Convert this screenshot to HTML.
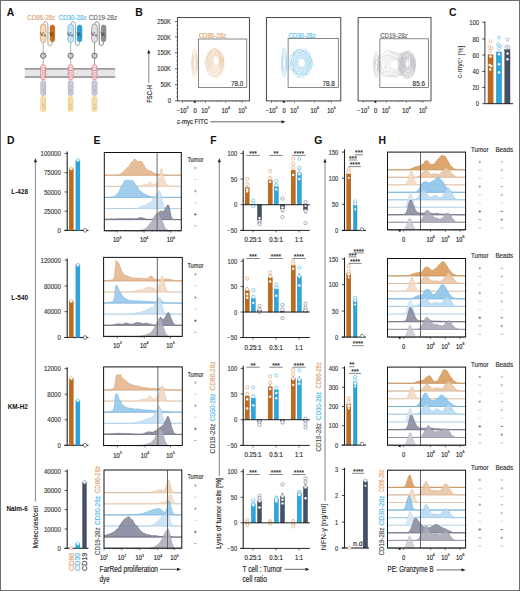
<!DOCTYPE html>
<html><head><meta charset="utf-8"><title>Figure</title>
<style>
html,body{margin:0;padding:0;background:#fff;}
body{width:520px;height:591px;overflow:hidden;}
svg{display:block;font-family:"Liberation Sans", sans-serif;}
</style></head><body>
<svg width="520" height="591" viewBox="0 0 520 591">
<rect x="0" y="0" width="520" height="591" fill="#fff"/>
<text x="6.80" y="16.00" font-size="10.4" font-weight="bold" fill="#111">A</text>
<text x="135.20" y="16.10" font-size="10.4" font-weight="bold" fill="#111">B</text>
<text x="449.00" y="15.90" font-size="10.4" font-weight="bold" fill="#111">C</text>
<text x="7.00" y="143.70" font-size="10.4" font-weight="bold" fill="#111">D</text>
<text x="93.60" y="144.10" font-size="10.4" font-weight="bold" fill="#111">E</text>
<text x="210.20" y="144.10" font-size="10.4" font-weight="bold" fill="#111">F</text>
<text x="314.20" y="143.90" font-size="10.4" font-weight="bold" fill="#111">G</text>
<text x="378.60" y="143.90" font-size="10.4" font-weight="bold" fill="#111">H</text>
<rect x="24.80" y="68.10" width="90.40" height="9.80" fill="#E6E6E8" stroke="none" stroke-width="0.8" rx="0" />
<rect x="24.80" y="68.00" width="90.40" height="1.70" fill="#9A9A9C" stroke="none" stroke-width="0.8" rx="0" />
<rect x="24.80" y="76.20" width="90.40" height="1.70" fill="#9A9A9C" stroke="none" stroke-width="0.8" rx="0" />
<text x="0" y="0" font-size="7.46" text-anchor="start" fill="#DDA36E" stroke="#DDA36E" stroke-width="0.15" textLength="31.64" lengthAdjust="spacingAndGlyphs" transform="translate(27.20 16.90) scale(0.8850 1)" dominant-baseline="central" >CD86-28z</text>
<path d="M43.20,25.2 C43.20,20.6 47.90,20.6 47.90,25.2 L47.90,43.2 C47.90,46.6 52.40,46.6 52.40,42.2" fill="none" stroke="#9a7a62" stroke-width="0.75" />
<rect x="40.40" y="24.10" width="5.60" height="18.30" fill="#F6D9B6" stroke="#B98A62" stroke-width="0.55" rx="2.8" />
<rect x="50.10" y="25.00" width="4.60" height="16.80" fill="#C46E1E" stroke="#A85A14" stroke-width="0.5" rx="2.3" />
<text x="42.70" y="35.9" font-size="5.8" text-anchor="middle" fill="#2a2a2a">V<tspan font-size="2.8" dy="1.2">H</tspan></text>
<text x="51.90" y="35.9" font-size="5.8" text-anchor="middle" fill="#2a1a0a">V<tspan font-size="2.8" dy="1.2">L</tspan></text>
<line x1="43.20" y1="42.40" x2="43.20" y2="52.90" stroke="#9a7a62" stroke-width="0.6" />
<line x1="43.20" y1="58.40" x2="43.20" y2="64.80" stroke="#9a7a62" stroke-width="0.6" />
<circle cx="43.20" cy="55.70" r="2.6" fill="#E8E8EC" stroke="#505050" stroke-width="0.9"/>
<text x="43.20" y="56.6" font-size="2.6" text-anchor="middle" fill="#444">8</text>
<rect x="40.80" y="64.80" width="4.80" height="14.80" fill="#FCEEF0" stroke="#D65A6C" stroke-width="0.7" rx="2.2" />
<rect x="40.80" y="81.00" width="4.80" height="14.20" fill="#DCDFEA" stroke="#8F96B0" stroke-width="0.6" rx="1.4" />
<line x1="43.20" y1="79.60" x2="43.20" y2="81.00" stroke="#888" stroke-width="0.4" />
<line x1="43.20" y1="95.20" x2="43.20" y2="96.80" stroke="#888" stroke-width="0.4" />
<rect x="40.80" y="96.80" width="4.80" height="14.50" fill="#FBEBC2" stroke="#E6BE5E" stroke-width="0.6" rx="1.4" />
<text x="0" y="0" font-size="3.9" text-anchor="middle" dominant-baseline="central" fill="#C85868" textLength="11.5" lengthAdjust="spacingAndGlyphs" transform="translate(43.20 72.20) rotate(90)">CD28</text>
<text x="0" y="0" font-size="3.9" text-anchor="middle" dominant-baseline="central" fill="#7C84A0" textLength="11.5" lengthAdjust="spacingAndGlyphs" transform="translate(43.20 88.10) rotate(90)">CD28</text>
<text x="0" y="0" font-size="3.9" text-anchor="middle" dominant-baseline="central" fill="#C89A3A" textLength="11.5" lengthAdjust="spacingAndGlyphs" transform="translate(43.20 104.00) rotate(90)">CD3ζ</text>
<text x="0" y="0" font-size="7.46" text-anchor="start" fill="#55B8E8" stroke="#55B8E8" stroke-width="0.15" textLength="31.53" lengthAdjust="spacingAndGlyphs" transform="translate(58.60 16.90) scale(0.8850 1)" dominant-baseline="central" >CD30-28z</text>
<path d="M70.70,25.2 C70.70,20.6 75.40,20.6 75.40,25.2 L75.40,43.2 C75.40,46.6 79.60,46.6 79.60,42.2" fill="none" stroke="#5f8aa6" stroke-width="0.75" />
<rect x="67.90" y="24.10" width="5.60" height="18.30" fill="#C4E3F6" stroke="#5B9CC4" stroke-width="0.55" rx="2.8" />
<rect x="77.30" y="25.00" width="4.60" height="16.80" fill="#2AA0DA" stroke="#1F84BC" stroke-width="0.5" rx="2.3" />
<text x="70.20" y="35.9" font-size="5.8" text-anchor="middle" fill="#2a2a2a">V<tspan font-size="2.8" dy="1.2">H</tspan></text>
<text x="79.10" y="35.9" font-size="5.8" text-anchor="middle" fill="#2a1a0a">V<tspan font-size="2.8" dy="1.2">L</tspan></text>
<line x1="70.70" y1="42.40" x2="70.70" y2="52.90" stroke="#5f8aa6" stroke-width="0.6" />
<line x1="70.70" y1="58.40" x2="70.70" y2="64.80" stroke="#5f8aa6" stroke-width="0.6" />
<circle cx="70.70" cy="55.70" r="2.6" fill="#E8E8EC" stroke="#505050" stroke-width="0.9"/>
<text x="70.70" y="56.6" font-size="2.6" text-anchor="middle" fill="#444">8</text>
<rect x="68.30" y="64.80" width="4.80" height="14.80" fill="#FCEEF0" stroke="#D65A6C" stroke-width="0.7" rx="2.2" />
<rect x="68.30" y="81.00" width="4.80" height="14.20" fill="#DCDFEA" stroke="#8F96B0" stroke-width="0.6" rx="1.4" />
<line x1="70.70" y1="79.60" x2="70.70" y2="81.00" stroke="#888" stroke-width="0.4" />
<line x1="70.70" y1="95.20" x2="70.70" y2="96.80" stroke="#888" stroke-width="0.4" />
<rect x="68.30" y="96.80" width="4.80" height="14.50" fill="#FBEBC2" stroke="#E6BE5E" stroke-width="0.6" rx="1.4" />
<text x="0" y="0" font-size="3.9" text-anchor="middle" dominant-baseline="central" fill="#C85868" textLength="11.5" lengthAdjust="spacingAndGlyphs" transform="translate(70.70 72.20) rotate(90)">CD28</text>
<text x="0" y="0" font-size="3.9" text-anchor="middle" dominant-baseline="central" fill="#7C84A0" textLength="11.5" lengthAdjust="spacingAndGlyphs" transform="translate(70.70 88.10) rotate(90)">CD28</text>
<text x="0" y="0" font-size="3.9" text-anchor="middle" dominant-baseline="central" fill="#C89A3A" textLength="11.5" lengthAdjust="spacingAndGlyphs" transform="translate(70.70 104.00) rotate(90)">CD3ζ</text>
<text x="0" y="0" font-size="7.46" text-anchor="start" fill="#666" stroke="#666" stroke-width="0.15" textLength="31.98" lengthAdjust="spacingAndGlyphs" transform="translate(88.80 16.90) scale(0.8850 1)" dominant-baseline="central" >CD19-28z</text>
<path d="M94.50,25.2 C94.50,20.6 99.20,20.6 99.20,25.2 L99.20,43.2 C99.20,46.6 103.60,46.6 103.60,42.2" fill="none" stroke="#555" stroke-width="0.75" />
<rect x="91.70" y="24.10" width="5.60" height="18.30" fill="#E2E2E4" stroke="#6a6a6a" stroke-width="0.55" rx="2.8" />
<rect x="101.30" y="25.00" width="4.60" height="16.80" fill="#8E8E90" stroke="#6a6a6a" stroke-width="0.5" rx="2.3" />
<text x="94.00" y="35.9" font-size="5.8" text-anchor="middle" fill="#2a2a2a">V<tspan font-size="2.8" dy="1.2">H</tspan></text>
<text x="103.10" y="35.9" font-size="5.8" text-anchor="middle" fill="#2a1a0a">V<tspan font-size="2.8" dy="1.2">L</tspan></text>
<line x1="94.50" y1="42.40" x2="94.50" y2="52.90" stroke="#555" stroke-width="0.6" />
<line x1="94.50" y1="58.40" x2="94.50" y2="64.80" stroke="#555" stroke-width="0.6" />
<circle cx="94.50" cy="55.70" r="2.6" fill="#E8E8EC" stroke="#505050" stroke-width="0.9"/>
<text x="94.50" y="56.6" font-size="2.6" text-anchor="middle" fill="#444">8</text>
<rect x="92.10" y="64.80" width="4.80" height="14.80" fill="#FCEEF0" stroke="#D65A6C" stroke-width="0.7" rx="2.2" />
<rect x="92.10" y="81.00" width="4.80" height="14.20" fill="#DCDFEA" stroke="#8F96B0" stroke-width="0.6" rx="1.4" />
<line x1="94.50" y1="79.60" x2="94.50" y2="81.00" stroke="#888" stroke-width="0.4" />
<line x1="94.50" y1="95.20" x2="94.50" y2="96.80" stroke="#888" stroke-width="0.4" />
<rect x="92.10" y="96.80" width="4.80" height="14.50" fill="#FBEBC2" stroke="#E6BE5E" stroke-width="0.6" rx="1.4" />
<text x="0" y="0" font-size="3.9" text-anchor="middle" dominant-baseline="central" fill="#C85868" textLength="11.5" lengthAdjust="spacingAndGlyphs" transform="translate(94.50 72.20) rotate(90)">CD28</text>
<text x="0" y="0" font-size="3.9" text-anchor="middle" dominant-baseline="central" fill="#7C84A0" textLength="11.5" lengthAdjust="spacingAndGlyphs" transform="translate(94.50 88.10) rotate(90)">CD28</text>
<text x="0" y="0" font-size="3.9" text-anchor="middle" dominant-baseline="central" fill="#C89A3A" textLength="11.5" lengthAdjust="spacingAndGlyphs" transform="translate(94.50 104.00) rotate(90)">CD3ζ</text>
<path d="M219.16,60.80 L219.18,61.42 L219.08,62.02 L218.98,62.62 L218.80,63.18 L218.52,63.62 L218.25,64.07 L218.03,64.61 L217.65,64.85 L217.29,65.12 L216.95,65.48 L216.53,65.49 L216.13,65.61 L215.73,65.49 L215.33,65.40 L214.98,65.10 L214.59,64.92 L214.23,64.62 L213.96,64.15 L213.67,63.71 L213.46,63.19 L213.36,62.57 L213.14,62.04 L213.08,61.42 L213.10,60.80 L213.16,60.20 L213.12,59.55 L213.30,58.99 L213.45,58.41 L213.66,57.87 L213.94,57.42 L214.23,56.97 L214.61,56.72 L214.94,56.37 L215.34,56.24 L215.72,56.01 L216.13,55.98 L216.53,56.20 L216.91,56.31 L217.29,56.48 L217.70,56.61 L217.99,57.06 L218.31,57.43 L218.54,57.95 L218.79,58.43 L218.95,59.00 L219.07,59.58 L219.19,60.18 Z" fill="none" stroke="#E3B381" stroke-width="0.5" opacity="0.85"/>
<path d="M219.82,61.05 L219.86,61.84 L219.71,62.60 L219.60,63.37 L219.36,64.07 L219.09,64.75 L218.70,65.28 L218.25,65.65 L217.92,66.28 L217.47,66.66 L216.98,66.90 L216.47,66.94 L215.97,67.04 L215.47,66.82 L214.96,66.88 L214.49,66.54 L214.07,66.11 L213.69,65.62 L213.20,65.32 L212.84,64.75 L212.73,63.94 L212.36,63.35 L212.28,62.57 L212.24,61.81 L212.18,61.05 L212.11,60.27 L212.18,59.49 L212.52,58.85 L212.62,58.07 L213.01,57.54 L213.22,56.81 L213.66,56.40 L214.01,55.81 L214.46,55.43 L214.97,55.33 L215.45,55.01 L215.97,55.20 L216.45,55.33 L216.96,55.30 L217.39,55.73 L217.85,56.02 L218.29,56.38 L218.69,56.84 L218.95,57.52 L219.20,58.17 L219.58,58.74 L219.63,59.54 L219.87,60.26 Z" fill="none" stroke="#E3B381" stroke-width="0.5" opacity="0.85"/>
<path d="M220.53,61.30 L220.32,62.22 L220.23,63.13 L220.06,64.02 L219.82,64.89 L219.47,65.65 L219.07,66.34 L218.62,66.98 L218.17,67.64 L217.56,67.86 L216.98,68.13 L216.41,68.45 L215.80,68.27 L215.21,68.24 L214.57,68.39 L214.04,67.87 L213.49,67.47 L213.10,66.74 L212.57,66.29 L212.13,65.65 L211.95,64.73 L211.52,64.04 L211.32,63.15 L211.38,62.20 L211.16,61.30 L211.25,60.38 L211.30,59.44 L211.59,58.61 L211.76,57.70 L212.09,56.91 L212.66,56.45 L213.09,55.84 L213.47,55.08 L213.98,54.53 L214.63,54.56 L215.20,54.28 L215.80,54.15 L216.39,54.35 L216.98,54.51 L217.54,54.83 L218.08,55.21 L218.62,55.63 L219.01,56.35 L219.42,57.01 L219.86,57.68 L219.91,58.67 L220.26,59.45 L220.44,60.36 Z" fill="none" stroke="#E3B381" stroke-width="0.5" opacity="0.85"/>
<path d="M220.92,61.55 L220.83,62.61 L220.95,63.75 L220.49,64.65 L220.16,65.59 L219.87,66.57 L219.49,67.50 L218.79,67.91 L218.28,68.62 L217.66,69.10 L217.06,69.77 L216.33,69.72 L215.63,70.07 L214.95,69.54 L214.26,69.44 L213.55,69.30 L212.87,68.95 L212.38,68.10 L211.92,67.28 L211.51,66.44 L210.97,65.70 L210.80,64.64 L210.32,63.75 L210.17,62.66 L210.41,61.55 L210.41,60.49 L210.32,59.35 L210.62,58.34 L210.87,57.30 L211.43,56.57 L211.95,55.87 L212.42,55.09 L212.89,54.20 L213.62,54.04 L214.26,53.65 L214.94,53.39 L215.63,53.32 L216.33,53.40 L217.07,53.27 L217.63,54.11 L218.21,54.67 L219.02,54.74 L219.55,55.51 L220.06,56.31 L220.26,57.43 L220.77,58.26 L221.00,59.33 L220.83,60.49 Z" fill="none" stroke="#E3B381" stroke-width="0.5" opacity="0.85"/>
<path d="M221.74,61.80 L221.74,63.07 L221.48,64.29 L221.14,65.43 L220.67,66.44 L220.26,67.48 L219.69,68.32 L219.05,69.01 L218.56,70.07 L217.77,70.37 L217.10,71.21 L216.23,70.79 L215.47,71.62 L214.65,71.36 L213.82,71.31 L213.03,70.87 L212.29,70.30 L211.71,69.36 L211.33,68.19 L210.49,67.69 L210.32,66.39 L209.91,65.36 L209.45,64.29 L209.37,63.04 L209.38,61.80 L209.14,60.51 L209.48,59.32 L209.88,58.23 L210.28,57.18 L210.44,55.84 L211.14,55.12 L211.63,54.09 L212.44,53.71 L213.19,53.30 L213.87,52.63 L214.64,52.14 L215.47,52.62 L216.29,52.16 L217.12,52.30 L217.88,52.80 L218.63,53.35 L219.03,54.63 L219.86,55.03 L220.50,55.84 L220.56,57.27 L221.01,58.25 L221.26,59.40 L221.56,60.56 Z" fill="none" stroke="#E3B381" stroke-width="0.5" opacity="0.85"/>
<path d="M222.14,62.05 L222.12,63.44 L222.16,64.89 L221.34,65.91 L221.00,67.13 L220.56,68.28 L219.99,69.28 L219.31,70.12 L218.92,71.73 L218.04,72.26 L217.01,71.89 L216.20,72.61 L215.30,72.49 L214.42,72.40 L213.54,72.18 L212.62,72.04 L211.82,71.36 L211.16,70.38 L210.58,69.34 L209.92,68.42 L209.56,67.16 L208.89,66.15 L208.48,64.87 L208.55,63.42 L208.70,62.05 L208.69,60.71 L208.72,59.33 L208.86,57.93 L209.15,56.57 L209.89,55.65 L210.27,54.28 L211.05,53.49 L211.87,52.89 L212.69,52.34 L213.51,51.77 L214.38,51.27 L215.30,51.49 L216.22,51.28 L217.08,51.81 L217.87,52.47 L218.76,52.79 L219.59,53.43 L219.96,54.86 L220.73,55.62 L221.23,56.77 L221.93,57.81 L222.27,59.17 L222.05,60.68 Z" fill="none" stroke="#E3B381" stroke-width="0.5" opacity="0.85"/>
<path d="M223.16,62.30 L222.99,63.90 L222.33,65.28 L222.19,66.81 L221.48,67.96 L221.44,69.77 L220.66,70.83 L220.01,72.11 L219.10,72.90 L218.12,73.45 L217.17,74.04 L216.14,74.12 L215.13,73.59 L214.12,74.15 L213.26,73.07 L212.32,72.78 L211.18,72.88 L210.71,71.19 L209.97,70.27 L209.34,69.17 L208.20,68.48 L208.32,66.66 L208.14,65.19 L207.23,63.91 L207.81,62.30 L207.23,60.69 L207.58,59.18 L207.77,57.59 L208.14,56.07 L208.99,55.03 L209.52,53.64 L210.72,53.42 L211.18,51.73 L212.20,51.35 L213.10,50.58 L214.18,51.11 L215.13,50.12 L216.18,49.97 L217.02,51.46 L218.01,51.59 L219.00,51.98 L219.98,52.55 L220.39,54.18 L220.99,55.37 L221.58,56.56 L222.31,57.71 L222.76,59.15 L222.64,60.77 Z" fill="none" stroke="#E3B381" stroke-width="0.5" opacity="0.85"/>
<path d="M223.26,62.55 L223.22,64.23 L222.96,65.85 L222.68,67.48 L221.88,68.71 L221.66,70.47 L221.29,72.31 L220.04,72.76 L219.32,74.18 L218.05,74.05 L217.20,75.43 L216.10,75.88 L214.97,75.86 L213.86,75.48 L212.79,75.10 L211.68,74.80 L210.53,74.40 L210.06,72.41 L209.31,71.28 L208.06,70.73 L207.27,69.41 L207.16,67.54 L206.88,65.89 L206.37,64.30 L206.87,62.55 L206.86,60.90 L207.14,59.31 L207.09,57.51 L207.84,56.20 L208.51,54.90 L208.86,53.12 L209.53,51.62 L210.86,51.57 L211.65,50.21 L212.81,50.12 L213.82,49.06 L214.97,49.39 L216.03,50.03 L217.07,50.43 L218.00,51.26 L219.17,51.31 L220.02,52.38 L220.68,53.73 L221.54,54.77 L222.10,56.19 L223.03,57.39 L222.74,59.34 L223.85,60.74 Z" fill="none" stroke="#E3B381" stroke-width="0.5" opacity="0.85"/>
<path d="M223.97,62.80 L224.05,64.68 L223.65,66.46 L223.70,68.49 L223.13,70.22 L222.16,71.51 L221.29,72.81 L220.57,74.41 L219.63,75.71 L218.27,75.74 L217.26,76.96 L216.08,77.79 L214.80,76.94 L213.64,76.35 L212.51,76.01 L211.17,76.32 L210.09,75.40 L208.84,74.79 L207.97,73.34 L207.76,71.13 L207.18,69.59 L206.59,68.05 L206.30,66.31 L205.42,64.71 L205.14,62.80 L205.17,60.84 L206.22,59.25 L205.87,57.09 L207.04,55.89 L207.58,54.25 L208.09,52.44 L209.52,52.19 L210.46,51.20 L211.11,49.07 L212.49,49.48 L213.62,49.00 L214.80,48.44 L216.03,48.38 L217.02,50.03 L218.24,49.98 L219.36,50.61 L220.39,51.56 L221.04,53.17 L222.19,54.05 L223.28,55.25 L223.17,57.45 L223.74,59.10 L223.43,61.05 Z" fill="none" stroke="#E3B381" stroke-width="0.5" opacity="0.85"/>
<path d="M195.90,63.00 L195.88,63.76 L195.86,64.52 L195.79,65.23 L195.72,65.90 L195.64,66.58 L195.55,67.25 L195.41,67.75 L195.26,68.17 L195.10,68.39 L194.94,68.71 L194.77,68.80 L194.60,68.82 L194.43,68.75 L194.26,68.63 L194.09,68.56 L193.93,68.19 L193.79,67.75 L193.66,67.23 L193.57,66.55 L193.47,65.93 L193.38,65.27 L193.32,64.54 L193.28,63.78 L193.27,63.00 L193.32,62.24 L193.33,61.46 L193.38,60.72 L193.46,60.05 L193.57,59.46 L193.67,58.83 L193.82,58.40 L193.93,57.79 L194.09,57.46 L194.26,57.28 L194.43,57.20 L194.60,56.99 L194.77,57.13 L194.95,57.20 L195.11,57.46 L195.26,57.88 L195.40,58.33 L195.53,58.81 L195.64,59.42 L195.72,60.09 L195.80,60.76 L195.89,61.45 L195.88,62.24 Z" fill="none" stroke="#E3B381" stroke-width="0.5" opacity="0.7"/>
<path d="M196.42,63.00 L196.47,64.11 L196.39,65.15 L196.34,66.24 L196.22,67.21 L196.07,68.09 L195.97,69.15 L195.72,69.57 L195.53,70.27 L195.30,70.65 L195.09,71.22 L194.84,71.25 L194.60,71.36 L194.35,71.49 L194.12,71.06 L193.88,70.82 L193.64,70.49 L193.49,69.53 L193.31,68.80 L193.14,68.05 L192.95,67.29 L192.86,66.25 L192.82,65.15 L192.76,64.09 L192.76,63.00 L192.75,61.90 L192.84,60.88 L192.85,59.73 L192.94,58.68 L193.07,57.72 L193.25,56.95 L193.43,56.11 L193.69,55.91 L193.89,55.31 L194.10,54.61 L194.35,54.49 L194.60,54.61 L194.85,54.40 L195.09,54.79 L195.33,55.05 L195.53,55.79 L195.72,56.44 L195.92,57.05 L196.05,57.98 L196.21,58.81 L196.38,59.68 L196.39,60.84 L196.40,61.93 Z" fill="none" stroke="#E3B381" stroke-width="0.5" opacity="0.7"/>
<path d="M196.95,63.00 L196.95,64.39 L197.01,65.90 L196.83,67.15 L196.67,68.39 L196.47,69.46 L196.39,71.06 L196.07,71.65 L195.79,72.27 L195.50,72.77 L195.21,73.21 L194.91,73.58 L194.60,74.13 L194.29,73.57 L193.99,73.20 L193.67,73.13 L193.41,72.31 L193.06,72.05 L192.93,70.52 L192.66,69.69 L192.44,68.61 L192.36,67.17 L192.15,65.95 L192.19,64.43 L192.21,63.00 L192.20,61.58 L192.33,60.27 L192.36,58.83 L192.53,57.63 L192.61,56.11 L192.83,55.04 L193.12,54.30 L193.43,53.86 L193.69,53.07 L193.98,52.63 L194.29,52.38 L194.60,52.27 L194.93,51.80 L195.21,52.71 L195.50,53.24 L195.86,53.17 L196.09,54.25 L196.39,54.93 L196.52,56.38 L196.78,57.34 L196.88,58.75 L197.01,60.09 L197.06,61.54 Z" fill="none" stroke="#E3B381" stroke-width="0.5" opacity="0.7"/>
<path d="M197.60,63.00 L197.45,64.69 L197.41,66.39 L197.48,68.36 L197.30,70.02 L197.08,71.57 L196.69,72.39 L196.45,73.88 L196.14,75.04 L195.76,75.65 L195.40,76.45 L194.99,76.42 L194.60,76.71 L194.20,76.63 L193.84,75.74 L193.40,76.00 L193.03,75.22 L192.85,73.25 L192.38,73.00 L192.11,71.60 L191.96,69.86 L191.95,67.93 L191.59,66.63 L191.74,64.70 L191.46,63.00 L191.58,61.21 L191.83,59.66 L191.92,58.01 L191.97,56.16 L192.20,54.72 L192.43,53.22 L192.70,51.83 L193.14,51.64 L193.51,51.15 L193.79,49.41 L194.23,50.27 L194.60,48.99 L194.98,50.13 L195.40,49.56 L195.78,50.17 L196.16,50.87 L196.44,52.24 L196.80,53.09 L196.91,55.03 L197.24,56.13 L197.32,57.92 L197.61,59.37 L197.66,61.19 Z" fill="none" stroke="#E3B381" stroke-width="0.5" opacity="0.7"/>
<rect x="177.40" y="17.60" width="72.00" height="83.30" fill="none" stroke="#333" stroke-width="0.9" rx="0" />
<rect x="198.40" y="39.00" width="48.40" height="48.50" fill="none" stroke="#555" stroke-width="0.7" rx="0" />
<text x="0" y="0" font-size="6.78" text-anchor="start" fill="#DDA36E" stroke="#DDA36E" stroke-width="0.15" textLength="30.96" lengthAdjust="spacingAndGlyphs" transform="translate(198.70 35.00) scale(0.8850 1)" dominant-baseline="central" >CD86-28z</text>
<text x="0" y="0" font-size="6.78" text-anchor="end" fill="#333" stroke="#333" stroke-width="0.15" textLength="14.01" lengthAdjust="spacingAndGlyphs" transform="translate(243.40 83.20) scale(0.8850 1)" dominant-baseline="central" >78.0</text>
<line x1="182.50" y1="100.90" x2="182.50" y2="102.90" stroke="#333" stroke-width="0.6" />
<line x1="195.00" y1="100.90" x2="195.00" y2="102.90" stroke="#333" stroke-width="0.6" />
<line x1="205.40" y1="100.90" x2="205.40" y2="102.90" stroke="#333" stroke-width="0.6" />
<line x1="225.70" y1="100.90" x2="225.70" y2="102.90" stroke="#333" stroke-width="0.6" />
<line x1="242.40" y1="100.90" x2="242.40" y2="102.90" stroke="#333" stroke-width="0.6" />
<line x1="185.40" y1="100.90" x2="185.40" y2="102.00" stroke="#333" stroke-width="0.4" />
<line x1="187.40" y1="100.90" x2="187.40" y2="102.00" stroke="#333" stroke-width="0.4" />
<line x1="189.40" y1="100.90" x2="189.40" y2="102.00" stroke="#333" stroke-width="0.4" />
<line x1="191.40" y1="100.90" x2="191.40" y2="102.00" stroke="#333" stroke-width="0.4" />
<line x1="198.40" y1="100.90" x2="198.40" y2="102.00" stroke="#333" stroke-width="0.4" />
<line x1="200.40" y1="100.90" x2="200.40" y2="102.00" stroke="#333" stroke-width="0.4" />
<line x1="202.40" y1="100.90" x2="202.40" y2="102.00" stroke="#333" stroke-width="0.4" />
<line x1="210.40" y1="100.90" x2="210.40" y2="102.00" stroke="#333" stroke-width="0.4" />
<line x1="213.40" y1="100.90" x2="213.40" y2="102.00" stroke="#333" stroke-width="0.4" />
<line x1="216.40" y1="100.90" x2="216.40" y2="102.00" stroke="#333" stroke-width="0.4" />
<line x1="218.40" y1="100.90" x2="218.40" y2="102.00" stroke="#333" stroke-width="0.4" />
<line x1="220.40" y1="100.90" x2="220.40" y2="102.00" stroke="#333" stroke-width="0.4" />
<line x1="221.90" y1="100.90" x2="221.90" y2="102.00" stroke="#333" stroke-width="0.4" />
<line x1="229.40" y1="100.90" x2="229.40" y2="102.00" stroke="#333" stroke-width="0.4" />
<line x1="232.40" y1="100.90" x2="232.40" y2="102.00" stroke="#333" stroke-width="0.4" />
<line x1="235.40" y1="100.90" x2="235.40" y2="102.00" stroke="#333" stroke-width="0.4" />
<line x1="237.40" y1="100.90" x2="237.40" y2="102.00" stroke="#333" stroke-width="0.4" />
<line x1="239.40" y1="100.90" x2="239.40" y2="102.00" stroke="#333" stroke-width="0.4" />
<line x1="240.40" y1="100.90" x2="240.40" y2="102.00" stroke="#333" stroke-width="0.4" />
<rect x="193.80" y="100.90" width="1.80" height="1.80" fill="#111" stroke="none" stroke-width="0.8" rx="0" />
<text x="0" y="0" font-size="6.55" text-anchor="middle" fill="#222" stroke="#222" stroke-width="0.15" dominant-baseline="central" transform="translate(182.50 110.10) scale(0.8850 1)">−10<tspan font-size="3.93" dy="-2.29">3</tspan></text>
<text x="0" y="0" font-size="6.55" text-anchor="middle" fill="#222" stroke="#222" stroke-width="0.15" transform="translate(195.00 110.10) scale(0.8850 1)" dominant-baseline="central" >0</text>
<text x="0" y="0" font-size="6.55" text-anchor="middle" fill="#222" stroke="#222" stroke-width="0.15" dominant-baseline="central" transform="translate(205.40 110.10) scale(0.8850 1)">10<tspan font-size="3.93" dy="-2.29">3</tspan></text>
<text x="0" y="0" font-size="6.55" text-anchor="middle" fill="#222" stroke="#222" stroke-width="0.15" dominant-baseline="central" transform="translate(225.70 110.10) scale(0.8850 1)">10<tspan font-size="3.93" dy="-2.29">4</tspan></text>
<text x="0" y="0" font-size="6.55" text-anchor="middle" fill="#222" stroke="#222" stroke-width="0.15" dominant-baseline="central" transform="translate(242.40 110.10) scale(0.8850 1)">10<tspan font-size="3.93" dy="-2.29">5</tspan></text>
<path d="M305.37,62.80 L305.37,63.38 L305.28,63.96 L305.16,64.53 L304.90,65.03 L304.66,65.54 L304.19,65.81 L303.90,66.28 L303.56,66.71 L303.10,66.90 L302.65,67.15 L302.15,67.05 L301.68,67.18 L301.21,67.08 L300.73,67.05 L300.27,66.88 L299.91,66.48 L299.49,66.22 L299.13,65.86 L298.70,65.54 L298.46,65.03 L298.37,64.44 L298.08,63.96 L298.14,63.36 L298.00,62.80 L298.14,62.24 L298.26,61.70 L298.22,61.08 L298.57,60.65 L298.83,60.18 L299.02,59.60 L299.40,59.23 L299.88,59.05 L300.24,58.62 L300.73,58.55 L301.20,58.40 L301.68,58.49 L302.17,58.32 L302.64,58.51 L303.12,58.62 L303.56,58.90 L303.88,59.36 L304.25,59.72 L304.52,60.18 L304.78,60.65 L304.97,61.17 L305.17,61.68 L305.33,62.22 Z" fill="none" stroke="#78C2EC" stroke-width="0.5" opacity="0.8"/>
<path d="M305.89,62.80 L306.08,63.51 L305.85,64.16 L305.66,64.81 L305.56,65.53 L305.13,66.04 L304.71,66.52 L304.31,67.02 L303.87,67.49 L303.26,67.56 L302.81,68.14 L302.17,67.89 L301.61,68.23 L301.02,68.23 L300.51,67.76 L299.88,67.84 L299.42,67.37 L298.89,67.06 L298.59,66.43 L298.21,65.93 L297.86,65.40 L297.36,64.91 L297.42,64.15 L297.12,63.51 L297.02,62.80 L297.06,62.08 L297.37,61.44 L297.55,60.78 L297.76,60.13 L298.01,59.49 L298.57,59.14 L298.86,58.49 L299.34,58.08 L299.87,57.74 L300.50,57.83 L301.01,57.33 L301.61,57.64 L302.19,57.58 L302.77,57.61 L303.37,57.71 L303.81,58.24 L304.41,58.43 L304.77,59.02 L305.09,59.60 L305.41,60.17 L305.62,60.81 L305.77,61.47 L305.90,62.12 Z" fill="none" stroke="#78C2EC" stroke-width="0.5" opacity="0.8"/>
<path d="M306.86,62.80 L306.96,63.66 L306.44,64.37 L306.18,65.10 L306.27,66.08 L305.71,66.63 L305.21,67.20 L304.65,67.66 L304.18,68.28 L303.61,68.77 L302.89,68.83 L302.22,68.97 L301.55,68.82 L300.84,69.25 L300.25,68.60 L299.55,68.59 L298.85,68.40 L298.47,67.61 L297.77,67.33 L297.23,66.77 L296.96,65.97 L296.59,65.26 L296.68,64.37 L296.39,63.61 L296.48,62.80 L296.20,61.96 L296.59,61.21 L296.74,60.41 L296.81,59.52 L297.27,58.86 L297.69,58.17 L298.38,57.84 L298.93,57.37 L299.50,56.88 L300.20,56.75 L300.88,56.70 L301.55,56.58 L302.21,56.78 L302.88,56.81 L303.63,56.75 L304.27,57.14 L304.76,57.77 L305.24,58.36 L305.63,59.04 L305.90,59.78 L306.27,60.45 L306.72,61.13 L306.90,61.95 Z" fill="none" stroke="#78C2EC" stroke-width="0.5" opacity="0.8"/>
<path d="M307.40,62.80 L307.62,63.77 L307.45,64.72 L307.14,65.62 L306.77,66.47 L306.38,67.31 L305.67,67.83 L305.21,68.65 L304.41,68.90 L303.77,69.45 L303.08,69.96 L302.28,70.09 L301.48,69.86 L300.66,70.29 L299.90,69.88 L299.16,69.52 L298.63,68.73 L297.80,68.55 L297.34,67.77 L296.62,67.27 L296.29,66.39 L295.74,65.65 L295.58,64.70 L295.33,63.77 L295.56,62.80 L295.43,61.84 L295.53,60.89 L295.73,59.94 L296.35,59.25 L296.54,58.25 L297.06,57.50 L297.75,56.96 L298.32,56.24 L299.07,55.82 L299.92,55.82 L300.69,55.63 L301.48,55.84 L302.29,55.40 L303.10,55.51 L303.77,56.15 L304.54,56.43 L305.22,56.95 L305.83,57.58 L306.08,58.56 L306.84,59.09 L307.08,60.02 L307.38,60.90 L307.39,61.87 Z" fill="none" stroke="#78C2EC" stroke-width="0.5" opacity="0.8"/>
<path d="M308.30,62.80 L308.37,63.90 L308.08,64.94 L307.85,66.00 L306.97,66.65 L306.58,67.56 L306.18,68.53 L305.62,69.38 L304.69,69.63 L304.07,70.50 L303.20,70.80 L302.25,70.45 L301.41,70.93 L300.55,70.62 L299.74,70.26 L298.92,70.01 L298.08,69.71 L297.43,69.03 L296.78,68.36 L296.31,67.49 L295.55,66.86 L295.22,65.88 L294.76,64.94 L294.60,63.88 L294.82,62.80 L294.35,61.68 L295.23,60.81 L295.20,59.71 L295.68,58.83 L296.08,57.89 L296.82,57.30 L297.11,56.08 L298.06,55.84 L298.95,55.68 L299.63,54.82 L300.56,55.10 L301.41,54.60 L302.28,54.87 L303.18,54.85 L304.15,54.86 L304.93,55.47 L305.51,56.39 L306.39,56.82 L306.89,57.75 L307.20,58.79 L307.42,59.81 L308.05,60.67 L308.20,61.73 Z" fill="none" stroke="#78C2EC" stroke-width="0.5" opacity="0.8"/>
<path d="M309.38,62.80 L309.32,64.06 L308.77,65.19 L308.21,66.21 L308.25,67.58 L306.96,67.97 L306.42,68.90 L306.00,70.08 L305.19,70.80 L304.10,70.81 L303.34,71.74 L302.38,72.28 L301.34,71.75 L300.36,71.74 L299.45,71.27 L298.52,70.97 L297.32,71.17 L296.80,69.90 L295.66,69.62 L295.00,68.64 L294.69,67.41 L294.56,66.17 L293.56,65.30 L293.83,63.99 L293.85,62.80 L294.01,61.64 L293.55,60.30 L294.35,59.32 L294.96,58.38 L295.35,57.28 L296.25,56.69 L296.65,55.47 L297.58,54.98 L298.52,54.63 L299.31,53.69 L300.31,53.39 L301.34,54.29 L302.33,53.74 L303.24,54.28 L304.41,53.91 L305.27,54.63 L305.80,55.83 L306.54,56.57 L307.08,57.52 L308.33,57.96 L308.15,59.41 L308.77,60.41 L308.83,61.62 Z" fill="none" stroke="#78C2EC" stroke-width="0.5" opacity="0.8"/>
<path d="M309.81,62.80 L309.69,64.13 L309.64,65.49 L308.57,66.43 L308.79,68.01 L307.72,68.73 L307.22,69.93 L306.24,70.57 L305.33,71.23 L304.49,72.11 L303.43,72.44 L302.34,72.55 L301.27,73.19 L300.17,72.88 L299.25,71.84 L298.19,71.74 L297.12,71.44 L295.87,71.24 L295.03,70.30 L294.59,68.95 L294.54,67.46 L293.23,66.80 L293.28,65.37 L292.89,64.12 L292.66,62.80 L292.82,61.46 L293.22,60.21 L293.08,58.73 L294.15,57.87 L294.74,56.79 L295.06,55.34 L296.41,55.19 L297.21,54.37 L297.92,53.08 L299.24,53.72 L300.13,52.36 L301.27,52.48 L302.35,52.95 L303.37,53.41 L304.60,53.15 L305.70,53.59 L306.10,55.25 L307.17,55.73 L307.96,56.65 L308.51,57.78 L308.81,59.05 L308.94,60.33 L309.67,61.47 Z" fill="none" stroke="#78C2EC" stroke-width="0.5" opacity="0.8"/>
<path d="M310.81,62.80 L309.65,64.13 L309.66,65.52 L310.09,67.21 L309.49,68.54 L308.65,69.66 L307.18,69.98 L306.97,71.82 L306.13,73.03 L304.98,73.75 L303.65,73.74 L302.31,72.90 L301.20,74.37 L300.06,73.20 L298.78,73.65 L297.45,73.67 L296.48,72.63 L295.96,71.00 L294.95,70.31 L293.46,69.93 L293.72,67.98 L292.60,67.07 L292.49,65.60 L292.62,64.16 L291.88,62.80 L292.79,61.47 L292.92,60.14 L292.92,58.68 L293.82,57.69 L294.46,56.59 L294.66,54.94 L295.42,53.76 L296.36,52.72 L297.91,53.25 L298.86,52.31 L300.05,52.24 L301.20,51.65 L302.40,51.93 L303.74,51.46 L304.64,52.86 L305.46,53.97 L306.95,53.82 L307.31,55.47 L308.61,55.98 L309.13,57.31 L310.21,58.32 L310.12,59.93 L310.45,61.34 Z" fill="none" stroke="#78C2EC" stroke-width="0.5" opacity="0.8"/>
<path d="M310.66,62.80 L311.07,64.37 L310.32,65.75 L310.71,67.56 L309.76,68.78 L308.52,69.60 L307.84,70.84 L307.05,72.04 L306.31,73.54 L304.73,73.20 L303.80,74.74 L302.47,74.93 L301.14,73.86 L299.80,74.96 L298.75,73.50 L297.58,73.10 L296.09,73.29 L295.36,71.83 L293.66,71.78 L293.28,70.03 L292.80,68.58 L291.49,67.59 L292.32,65.63 L290.91,64.42 L291.97,62.80 L291.88,61.34 L290.79,59.47 L291.67,58.10 L292.95,57.13 L293.78,56.03 L293.54,53.68 L294.92,53.08 L295.90,51.91 L297.57,52.47 L298.51,51.04 L299.87,51.28 L301.14,51.43 L302.40,51.32 L303.76,51.06 L304.84,52.08 L306.00,52.68 L306.80,53.94 L308.56,53.89 L309.22,55.36 L310.19,56.53 L310.21,58.29 L311.31,59.53 L311.01,61.24 Z" fill="none" stroke="#78C2EC" stroke-width="0.5" opacity="0.8"/>
<path d="M311.97,62.80 L311.84,64.50 L311.88,66.28 L310.78,67.63 L309.65,68.75 L308.83,69.95 L308.23,71.39 L307.03,72.13 L306.81,74.74 L305.15,74.64 L303.98,75.82 L302.34,74.36 L301.07,75.59 L299.57,76.48 L298.23,75.50 L297.02,74.52 L295.74,73.86 L295.03,72.24 L293.98,71.31 L293.11,70.13 L292.00,69.08 L291.38,67.62 L289.98,66.36 L291.13,64.37 L290.84,62.80 L290.88,61.19 L291.37,59.68 L291.56,58.07 L292.25,56.69 L292.60,55.00 L294.15,54.50 L294.03,51.79 L295.84,51.94 L296.63,49.95 L298.20,49.94 L299.62,49.64 L301.07,50.01 L302.58,48.99 L303.64,51.26 L305.30,50.55 L306.22,52.10 L307.80,52.27 L308.97,53.32 L309.04,55.46 L309.83,56.73 L310.09,58.31 L310.90,59.64 L310.86,61.25 Z" fill="none" stroke="#78C2EC" stroke-width="0.5" opacity="0.8"/>
<path d="M312.27,62.80 L313.48,64.77 L311.81,66.27 L311.22,67.88 L310.90,69.66 L309.73,70.84 L309.51,73.01 L308.31,74.23 L306.36,73.95 L305.17,74.89 L304.08,76.59 L302.63,77.69 L301.00,77.00 L299.52,76.29 L297.74,77.40 L297.03,74.29 L295.76,73.70 L293.61,74.36 L293.01,72.38 L292.71,70.44 L290.94,69.77 L289.34,68.60 L289.85,66.39 L289.94,64.55 L290.43,62.80 L290.58,61.15 L289.01,58.94 L290.39,57.53 L290.17,55.30 L292.69,55.15 L293.29,53.54 L294.63,52.84 L295.37,51.09 L296.99,51.17 L298.17,50.12 L299.53,49.37 L301.00,49.54 L302.37,50.35 L303.70,50.70 L305.82,48.85 L306.38,51.62 L308.01,51.83 L308.97,53.23 L310.18,54.35 L310.13,56.47 L311.23,57.72 L311.24,59.51 L312.50,60.98 Z" fill="none" stroke="#78C2EC" stroke-width="0.5" opacity="0.8"/>
<path d="M285.44,62.60 L285.43,63.40 L285.38,64.16 L285.32,64.89 L285.24,65.55 L285.18,66.30 L285.07,66.86 L284.95,67.44 L284.81,67.80 L284.67,68.24 L284.51,68.37 L284.36,68.66 L284.20,68.70 L284.04,68.56 L283.88,68.44 L283.73,68.22 L283.60,67.76 L283.45,67.40 L283.32,66.93 L283.24,66.24 L283.13,65.66 L283.06,64.93 L283.00,64.19 L282.99,63.38 L283.00,62.60 L282.97,61.80 L283.00,61.02 L283.07,60.30 L283.16,59.63 L283.24,58.97 L283.33,58.31 L283.46,57.85 L283.58,57.27 L283.73,57.00 L283.89,56.84 L284.04,56.57 L284.20,56.60 L284.36,56.50 L284.52,56.66 L284.67,57.02 L284.82,57.34 L284.95,57.77 L285.08,58.27 L285.19,58.85 L285.24,59.64 L285.32,60.30 L285.39,61.03 L285.40,61.82 Z" fill="none" stroke="#78C2EC" stroke-width="0.5" opacity="0.7"/>
<path d="M285.96,62.60 L285.89,63.70 L285.93,64.89 L285.82,65.91 L285.68,66.81 L285.60,67.90 L285.42,68.63 L285.25,69.31 L285.07,70.06 L284.85,70.39 L284.64,70.78 L284.43,71.35 L284.20,71.33 L283.98,70.89 L283.74,71.08 L283.55,70.33 L283.33,69.99 L283.11,69.62 L282.95,68.74 L282.83,67.79 L282.70,66.88 L282.59,65.88 L282.55,64.78 L282.41,63.76 L282.50,62.60 L282.47,61.48 L282.48,60.33 L282.59,59.32 L282.64,58.16 L282.83,57.43 L282.93,56.32 L283.11,55.59 L283.32,55.05 L283.51,54.44 L283.75,54.30 L283.97,53.87 L284.20,53.82 L284.43,54.04 L284.65,54.28 L284.88,54.53 L285.07,55.17 L285.24,55.93 L285.46,56.41 L285.57,57.43 L285.71,58.29 L285.85,59.24 L285.86,60.41 L285.88,61.51 Z" fill="none" stroke="#78C2EC" stroke-width="0.5" opacity="0.7"/>
<path d="M286.41,62.60 L286.47,64.07 L286.37,65.47 L286.26,66.81 L286.16,68.18 L286.07,69.66 L285.78,70.37 L285.57,71.43 L285.37,72.61 L285.08,73.05 L284.78,73.23 L284.50,73.69 L284.20,73.79 L283.91,73.39 L283.62,73.32 L283.34,72.80 L283.03,72.55 L282.83,71.37 L282.57,70.63 L282.33,69.69 L282.16,68.40 L282.12,66.85 L281.98,65.53 L281.98,64.04 L281.94,62.60 L281.95,61.14 L281.95,59.63 L282.02,58.16 L282.26,57.09 L282.47,56.05 L282.60,54.70 L282.86,54.02 L283.11,53.26 L283.31,52.01 L283.63,52.11 L283.90,51.29 L284.20,51.51 L284.51,51.09 L284.81,51.46 L285.04,52.61 L285.31,53.13 L285.64,53.38 L285.82,54.60 L285.99,55.82 L286.22,56.87 L286.36,58.20 L286.40,59.70 L286.45,61.14 Z" fill="none" stroke="#78C2EC" stroke-width="0.5" opacity="0.7"/>
<path d="M286.89,62.60 L286.94,64.38 L286.81,66.04 L286.82,67.95 L286.65,69.57 L286.34,70.70 L286.21,72.48 L285.84,73.11 L285.54,74.08 L285.29,75.54 L284.92,75.88 L284.58,76.83 L284.20,76.58 L283.83,76.56 L283.50,75.43 L283.09,75.77 L282.86,74.05 L282.48,73.68 L282.14,72.76 L281.89,71.34 L281.68,69.77 L281.63,67.86 L281.44,66.24 L281.34,64.45 L281.50,62.60 L281.30,60.72 L281.38,58.88 L281.63,57.35 L281.71,55.51 L281.99,54.24 L282.26,53.06 L282.46,51.42 L282.86,51.17 L283.10,49.47 L283.44,48.63 L283.84,49.21 L284.20,48.19 L284.55,49.49 L284.95,48.79 L285.25,50.13 L285.67,50.09 L285.89,51.73 L286.26,52.43 L286.32,54.59 L286.52,55.99 L286.87,57.15 L286.94,58.98 L286.99,60.79 Z" fill="none" stroke="#78C2EC" stroke-width="0.5" opacity="0.7"/>
<rect x="266.40" y="17.60" width="74.40" height="83.30" fill="none" stroke="#333" stroke-width="0.9" rx="0" />
<rect x="288.10" y="38.60" width="50.20" height="49.00" fill="none" stroke="#555" stroke-width="0.7" rx="0" />
<text x="0" y="0" font-size="6.78" text-anchor="start" fill="#55B8E8" stroke="#55B8E8" stroke-width="0.15" textLength="30.96" lengthAdjust="spacingAndGlyphs" transform="translate(288.40 35.00) scale(0.8850 1)" dominant-baseline="central" >CD30-28z</text>
<text x="0" y="0" font-size="6.78" text-anchor="end" fill="#333" stroke="#333" stroke-width="0.15" textLength="14.01" lengthAdjust="spacingAndGlyphs" transform="translate(334.90 83.20) scale(0.8850 1)" dominant-baseline="central" >78.8</text>
<line x1="271.50" y1="100.90" x2="271.50" y2="102.90" stroke="#333" stroke-width="0.6" />
<line x1="284.00" y1="100.90" x2="284.00" y2="102.90" stroke="#333" stroke-width="0.6" />
<line x1="294.40" y1="100.90" x2="294.40" y2="102.90" stroke="#333" stroke-width="0.6" />
<line x1="314.70" y1="100.90" x2="314.70" y2="102.90" stroke="#333" stroke-width="0.6" />
<line x1="331.40" y1="100.90" x2="331.40" y2="102.90" stroke="#333" stroke-width="0.6" />
<line x1="274.40" y1="100.90" x2="274.40" y2="102.00" stroke="#333" stroke-width="0.4" />
<line x1="276.40" y1="100.90" x2="276.40" y2="102.00" stroke="#333" stroke-width="0.4" />
<line x1="278.40" y1="100.90" x2="278.40" y2="102.00" stroke="#333" stroke-width="0.4" />
<line x1="280.40" y1="100.90" x2="280.40" y2="102.00" stroke="#333" stroke-width="0.4" />
<line x1="287.40" y1="100.90" x2="287.40" y2="102.00" stroke="#333" stroke-width="0.4" />
<line x1="289.40" y1="100.90" x2="289.40" y2="102.00" stroke="#333" stroke-width="0.4" />
<line x1="291.40" y1="100.90" x2="291.40" y2="102.00" stroke="#333" stroke-width="0.4" />
<line x1="299.40" y1="100.90" x2="299.40" y2="102.00" stroke="#333" stroke-width="0.4" />
<line x1="302.40" y1="100.90" x2="302.40" y2="102.00" stroke="#333" stroke-width="0.4" />
<line x1="305.40" y1="100.90" x2="305.40" y2="102.00" stroke="#333" stroke-width="0.4" />
<line x1="307.40" y1="100.90" x2="307.40" y2="102.00" stroke="#333" stroke-width="0.4" />
<line x1="309.40" y1="100.90" x2="309.40" y2="102.00" stroke="#333" stroke-width="0.4" />
<line x1="310.90" y1="100.90" x2="310.90" y2="102.00" stroke="#333" stroke-width="0.4" />
<line x1="318.40" y1="100.90" x2="318.40" y2="102.00" stroke="#333" stroke-width="0.4" />
<line x1="321.40" y1="100.90" x2="321.40" y2="102.00" stroke="#333" stroke-width="0.4" />
<line x1="324.40" y1="100.90" x2="324.40" y2="102.00" stroke="#333" stroke-width="0.4" />
<line x1="326.40" y1="100.90" x2="326.40" y2="102.00" stroke="#333" stroke-width="0.4" />
<line x1="328.40" y1="100.90" x2="328.40" y2="102.00" stroke="#333" stroke-width="0.4" />
<line x1="329.40" y1="100.90" x2="329.40" y2="102.00" stroke="#333" stroke-width="0.4" />
<rect x="282.80" y="100.90" width="1.80" height="1.80" fill="#111" stroke="none" stroke-width="0.8" rx="0" />
<text x="0" y="0" font-size="6.55" text-anchor="middle" fill="#222" stroke="#222" stroke-width="0.15" dominant-baseline="central" transform="translate(271.50 110.10) scale(0.8850 1)">−10<tspan font-size="3.93" dy="-2.29">3</tspan></text>
<text x="0" y="0" font-size="6.55" text-anchor="middle" fill="#222" stroke="#222" stroke-width="0.15" transform="translate(284.00 110.10) scale(0.8850 1)" dominant-baseline="central" >0</text>
<text x="0" y="0" font-size="6.55" text-anchor="middle" fill="#222" stroke="#222" stroke-width="0.15" dominant-baseline="central" transform="translate(294.40 110.10) scale(0.8850 1)">10<tspan font-size="3.93" dy="-2.29">3</tspan></text>
<text x="0" y="0" font-size="6.55" text-anchor="middle" fill="#222" stroke="#222" stroke-width="0.15" dominant-baseline="central" transform="translate(314.70 110.10) scale(0.8850 1)">10<tspan font-size="3.93" dy="-2.29">4</tspan></text>
<text x="0" y="0" font-size="6.55" text-anchor="middle" fill="#222" stroke="#222" stroke-width="0.15" dominant-baseline="central" transform="translate(331.40 110.10) scale(0.8850 1)">10<tspan font-size="3.93" dy="-2.29">5</tspan></text>
<path d="M410.48,63.15 L410.43,63.71 L410.42,64.29 L410.24,64.80 L410.13,65.35 L409.90,65.80 L409.63,66.19 L409.40,66.63 L409.06,66.87 L408.75,67.19 L408.39,67.31 L408.04,67.42 L407.68,67.52 L407.30,67.56 L406.96,67.32 L406.61,67.15 L406.25,66.97 L405.92,66.70 L405.67,66.26 L405.44,65.81 L405.17,65.39 L405.12,64.79 L404.90,64.30 L404.90,63.72 L404.89,63.15 L404.92,62.59 L404.97,62.02 L405.03,61.45 L405.26,60.99 L405.42,60.47 L405.66,60.03 L405.96,59.69 L406.26,59.34 L406.61,59.18 L406.96,59.00 L407.31,58.86 L407.68,58.73 L408.04,58.81 L408.40,58.95 L408.76,59.08 L409.09,59.36 L409.38,59.70 L409.70,60.01 L409.94,60.45 L410.10,60.98 L410.30,61.47 L410.41,62.01 L410.53,62.57 Z" fill="none" stroke="#9C9EA8" stroke-width="0.5" opacity="0.8"/>
<path d="M411.12,63.30 L411.01,64.00 L411.05,64.74 L410.75,65.32 L410.60,65.99 L410.40,66.63 L410.01,67.04 L409.72,67.58 L409.30,67.86 L408.94,68.34 L408.51,68.59 L408.06,68.68 L407.60,68.81 L407.15,68.60 L406.69,68.57 L406.26,68.32 L405.85,68.00 L405.49,67.57 L405.09,67.19 L404.77,66.67 L404.59,66.00 L404.36,65.39 L404.32,64.66 L404.11,64.01 L404.09,63.30 L404.05,62.58 L404.18,61.88 L404.42,61.26 L404.61,60.62 L404.81,59.98 L405.21,59.58 L405.49,59.03 L405.89,58.71 L406.30,58.42 L406.72,58.21 L407.14,57.87 L407.60,58.01 L408.05,58.02 L408.50,58.12 L408.96,58.21 L409.30,58.73 L409.71,59.03 L410.07,59.47 L410.42,59.94 L410.67,60.55 L410.88,61.19 L410.92,61.92 L411.03,62.60 Z" fill="none" stroke="#9C9EA8" stroke-width="0.5" opacity="0.8"/>
<path d="M411.62,63.45 L411.73,64.31 L411.64,65.16 L411.25,65.85 L411.03,66.59 L410.75,67.28 L410.40,67.90 L410.04,68.53 L409.60,69.04 L409.08,69.28 L408.56,69.44 L408.06,69.77 L407.52,69.81 L406.98,69.84 L406.42,69.83 L405.92,69.45 L405.46,69.01 L404.99,68.58 L404.57,68.04 L404.34,67.24 L403.85,66.74 L403.64,65.95 L403.43,65.15 L403.35,64.30 L403.42,63.45 L403.46,62.62 L403.64,61.83 L403.67,60.97 L404.05,60.34 L404.34,59.66 L404.66,59.00 L405.07,58.48 L405.48,57.96 L405.99,57.70 L406.49,57.46 L407.00,57.24 L407.52,57.21 L408.06,57.15 L408.56,57.45 L409.15,57.38 L409.61,57.85 L409.98,58.48 L410.40,58.99 L410.77,59.59 L411.07,60.27 L411.25,61.06 L411.61,61.75 L411.76,62.59 Z" fill="none" stroke="#9C9EA8" stroke-width="0.5" opacity="0.8"/>
<path d="M412.22,63.60 L412.19,64.57 L411.92,65.46 L411.74,66.35 L411.54,67.27 L411.18,68.04 L410.92,68.98 L410.29,69.34 L409.75,69.79 L409.34,70.70 L408.69,70.79 L408.06,70.76 L407.45,71.05 L406.85,70.69 L406.21,70.79 L405.55,70.71 L404.99,70.21 L404.49,69.58 L404.13,68.75 L403.69,68.07 L403.41,67.22 L402.94,66.50 L402.82,65.53 L402.60,64.59 L402.73,63.60 L402.81,62.65 L402.72,61.63 L402.86,60.65 L403.19,59.79 L403.56,58.97 L403.98,58.22 L404.48,57.60 L405.11,57.31 L405.62,56.73 L406.23,56.51 L406.85,56.51 L407.45,56.44 L408.06,56.36 L408.67,56.56 L409.31,56.64 L409.93,56.94 L410.35,57.73 L410.95,58.17 L411.39,58.91 L411.74,59.76 L411.82,60.79 L411.97,61.72 L412.09,62.65 Z" fill="none" stroke="#9C9EA8" stroke-width="0.5" opacity="0.8"/>
<path d="M412.67,63.75 L412.63,64.82 L412.68,65.96 L412.57,67.09 L412.22,68.09 L411.68,68.88 L411.27,69.80 L410.77,70.62 L409.99,70.79 L409.49,71.65 L408.83,72.19 L408.10,72.32 L407.38,72.37 L406.67,72.10 L406.01,71.67 L405.24,71.74 L404.70,70.95 L403.98,70.62 L403.37,69.96 L403.10,68.84 L402.71,67.93 L402.16,67.11 L402.02,65.98 L402.14,64.82 L402.11,63.75 L402.15,62.68 L401.94,61.49 L402.22,60.43 L402.81,59.66 L402.94,58.47 L403.37,57.53 L404.02,56.96 L404.69,56.54 L405.29,55.92 L406.01,55.86 L406.70,55.74 L407.38,54.96 L408.09,55.28 L408.79,55.58 L409.53,55.66 L410.08,56.49 L410.79,56.84 L411.33,57.61 L411.58,58.74 L411.98,59.62 L412.31,60.58 L412.51,61.62 L412.81,62.64 Z" fill="none" stroke="#9C9EA8" stroke-width="0.5" opacity="0.8"/>
<path d="M413.25,63.90 L413.29,65.12 L412.97,66.26 L413.15,67.66 L412.50,68.56 L412.11,69.63 L411.64,70.64 L411.15,71.69 L410.32,72.02 L409.73,72.99 L408.88,73.03 L408.10,73.30 L407.30,73.37 L406.54,72.83 L405.73,72.97 L405.04,72.36 L404.40,71.69 L403.48,71.62 L403.13,70.37 L402.48,69.64 L401.91,68.73 L401.64,67.54 L401.52,66.30 L401.25,65.14 L401.18,63.90 L401.09,62.63 L401.64,61.55 L401.64,60.26 L402.16,59.29 L402.57,58.27 L402.88,57.04 L403.59,56.40 L404.24,55.67 L404.91,54.95 L405.66,54.40 L406.51,54.58 L407.30,54.35 L408.10,54.53 L408.88,54.76 L409.67,55.00 L410.33,55.75 L411.02,56.38 L411.60,57.23 L412.34,57.90 L412.68,59.08 L413.13,60.15 L413.44,61.35 L413.20,62.70 Z" fill="none" stroke="#9C9EA8" stroke-width="0.5" opacity="0.8"/>
<path d="M414.01,64.05 L414.23,65.48 L413.98,66.86 L413.21,67.90 L412.82,69.07 L412.54,70.38 L411.77,71.10 L411.21,72.12 L410.44,72.69 L409.85,73.89 L409.02,74.47 L408.14,74.87 L407.23,74.12 L406.32,74.67 L405.45,74.33 L404.74,73.34 L403.71,73.49 L402.91,72.77 L402.60,71.22 L401.61,70.73 L401.45,69.22 L401.00,68.05 L400.37,66.90 L400.30,65.46 L400.73,64.05 L400.59,62.69 L400.70,61.34 L401.10,60.12 L401.58,58.99 L401.98,57.81 L402.34,56.47 L403.33,56.18 L403.83,54.94 L404.66,54.45 L405.57,54.47 L406.36,53.87 L407.23,53.45 L408.11,53.66 L408.89,54.42 L409.94,53.88 L410.70,54.71 L411.54,55.32 L411.79,56.97 L412.44,57.84 L412.77,59.08 L413.64,59.92 L413.58,61.41 L413.64,62.74 Z" fill="none" stroke="#9C9EA8" stroke-width="0.5" opacity="0.8"/>
<path d="M414.48,64.20 L414.84,65.77 L414.56,67.28 L413.79,68.47 L413.29,69.70 L413.31,71.53 L412.42,72.38 L411.76,73.52 L410.67,73.65 L409.83,74.24 L409.11,75.53 L408.11,75.48 L407.15,75.09 L406.13,76.17 L405.21,75.46 L404.22,75.18 L403.64,73.65 L402.46,73.69 L402.19,71.90 L401.03,71.49 L400.78,69.91 L400.45,68.51 L399.96,67.19 L399.45,65.77 L399.96,64.20 L400.14,62.77 L399.98,61.22 L400.53,59.95 L401.04,58.73 L401.52,57.50 L402.20,56.52 L402.81,55.42 L403.54,54.48 L404.39,53.84 L405.18,52.77 L406.21,53.11 L407.15,52.72 L408.08,53.26 L409.03,53.32 L409.82,54.21 L410.74,54.56 L411.39,55.62 L412.52,55.86 L413.05,57.17 L413.32,58.67 L413.96,59.82 L414.66,61.08 L414.14,62.77 Z" fill="none" stroke="#9C9EA8" stroke-width="0.5" opacity="0.8"/>
<path d="M415.45,64.35 L414.98,65.97 L414.84,67.58 L414.83,69.34 L413.95,70.51 L413.47,71.96 L412.90,73.39 L412.28,74.88 L411.02,74.94 L410.29,76.38 L409.21,76.73 L408.14,76.95 L407.07,76.68 L406.05,76.49 L405.11,75.72 L404.14,75.33 L403.27,74.56 L402.02,74.57 L401.56,72.90 L400.97,71.62 L400.48,70.26 L399.31,69.34 L398.93,67.74 L398.92,66.02 L399.25,64.35 L399.36,62.77 L399.51,61.20 L399.68,59.60 L400.41,58.38 L400.74,56.80 L401.56,55.79 L401.88,53.85 L402.80,52.87 L403.98,52.74 L405.06,52.69 L405.96,51.22 L407.07,52.17 L408.11,52.20 L409.02,53.07 L410.11,52.99 L411.09,53.57 L411.98,54.44 L412.55,55.86 L413.46,56.74 L413.60,58.51 L414.28,59.72 L414.44,61.29 L414.95,62.74 Z" fill="none" stroke="#9C9EA8" stroke-width="0.5" opacity="0.8"/>
<path d="M415.14,64.50 L415.05,66.14 L415.17,67.90 L414.74,69.47 L414.62,71.33 L413.93,72.75 L413.37,74.38 L412.41,75.45 L411.48,76.54 L410.51,77.63 L409.22,77.34 L408.11,77.56 L407.00,78.92 L405.92,77.23 L404.68,77.95 L403.60,77.22 L402.93,75.44 L401.46,75.71 L400.51,74.57 L399.97,72.86 L399.22,71.47 L398.61,69.89 L399.02,67.82 L398.35,66.27 L398.29,64.50 L397.97,62.66 L398.24,60.86 L398.59,59.10 L399.38,57.67 L399.72,55.83 L400.69,54.71 L401.56,53.50 L402.81,53.25 L403.89,52.85 L404.86,52.13 L405.89,51.38 L407.00,51.75 L408.19,50.49 L409.27,51.35 L410.39,51.80 L411.43,52.60 L412.43,53.52 L413.14,54.97 L413.42,56.85 L414.85,57.47 L415.32,59.15 L415.41,61.00 L415.67,62.73 Z" fill="none" stroke="#9C9EA8" stroke-width="0.5" opacity="0.8"/>
<path d="M401.00,64.50 L401.28,65.15 L400.76,65.71 L400.75,66.37 L400.16,66.83 L399.79,67.37 L399.53,68.02 L398.70,68.23 L398.16,68.70 L397.41,68.92 L396.67,69.12 L395.91,69.26 L395.12,69.19 L394.32,69.38 L393.62,68.99 L392.87,68.85 L392.23,68.51 L391.54,68.24 L390.91,67.87 L390.22,67.51 L389.98,66.88 L389.74,66.28 L389.43,65.72 L388.96,65.15 L389.32,64.50 L389.12,63.87 L389.38,63.27 L389.51,62.64 L389.99,62.13 L390.30,61.54 L390.88,61.11 L391.43,60.65 L392.03,60.22 L392.81,60.04 L393.61,59.99 L394.37,59.90 L395.12,59.54 L395.91,59.75 L396.64,59.97 L397.50,59.92 L398.14,60.32 L398.84,60.63 L399.49,61.01 L399.81,61.62 L400.27,62.13 L400.83,62.61 L400.76,63.29 L401.19,63.86 Z" fill="none" stroke="#9C9EA8" stroke-width="0.5" opacity="0.6"/>
<path d="M402.18,64.50 L402.58,65.35 L402.38,66.19 L402.22,67.06 L401.67,67.81 L400.85,68.40 L399.99,68.89 L399.20,69.40 L398.51,70.06 L397.56,70.42 L396.48,70.42 L395.59,71.10 L394.50,70.90 L393.43,70.97 L392.49,70.51 L391.52,70.26 L390.70,69.77 L389.71,69.50 L388.98,68.92 L388.20,68.37 L387.66,67.66 L386.86,67.03 L386.47,66.22 L386.83,65.31 L386.58,64.50 L386.83,63.69 L386.65,62.82 L386.76,61.93 L387.78,61.40 L387.98,60.50 L388.96,60.07 L389.87,59.67 L390.39,58.81 L391.49,58.68 L392.50,58.52 L393.46,58.20 L394.50,58.27 L395.53,58.21 L396.56,58.35 L397.54,58.64 L398.54,58.91 L399.27,59.53 L399.93,60.16 L400.58,60.77 L401.16,61.43 L401.91,62.05 L402.12,62.87 L402.68,63.64 Z" fill="none" stroke="#9C9EA8" stroke-width="0.5" opacity="0.6"/>
<path d="M403.88,64.50 L404.05,65.57 L404.11,66.69 L402.61,67.39 L402.01,68.26 L401.45,69.15 L400.85,70.08 L400.02,70.91 L399.03,71.64 L397.63,71.75 L396.61,72.68 L395.10,71.94 L393.88,72.84 L392.62,72.14 L391.17,72.59 L390.27,71.46 L388.58,71.83 L387.59,71.05 L386.37,70.50 L385.86,69.42 L385.56,68.34 L384.09,67.74 L384.29,66.56 L384.48,65.49 L383.74,64.50 L383.96,63.46 L384.25,62.44 L385.04,61.57 L385.62,60.69 L385.86,59.58 L386.85,58.88 L388.07,58.45 L388.91,57.62 L389.94,56.90 L391.22,56.56 L392.57,56.60 L393.88,56.61 L395.16,56.71 L396.37,57.04 L397.56,57.39 L398.84,57.62 L399.66,58.46 L401.15,58.68 L402.02,59.50 L402.66,60.44 L402.56,61.62 L403.37,62.46 L403.71,63.46 Z" fill="none" stroke="#9C9EA8" stroke-width="0.5" opacity="0.6"/>
<path d="M404.52,64.50 L405.98,65.84 L405.29,67.08 L404.34,68.18 L403.96,69.45 L402.34,70.08 L401.39,71.01 L400.58,72.15 L399.47,73.12 L397.94,73.57 L396.13,73.09 L394.84,74.18 L393.25,74.69 L391.63,74.37 L389.94,74.37 L388.33,74.01 L387.50,72.47 L386.17,71.88 L384.70,71.34 L383.05,70.76 L383.06,69.21 L381.43,68.42 L381.05,67.12 L381.32,65.76 L381.02,64.50 L380.54,63.16 L381.17,61.91 L382.50,60.94 L382.32,59.45 L384.16,58.92 L384.93,57.84 L385.44,56.36 L386.94,55.75 L388.79,55.88 L390.24,55.52 L391.66,54.82 L393.25,54.41 L394.86,54.72 L396.56,54.62 L398.00,55.33 L399.54,55.79 L400.67,56.76 L401.56,57.85 L402.67,58.72 L403.63,59.71 L404.38,60.81 L405.43,61.89 L404.73,63.29 Z" fill="none" stroke="#9C9EA8" stroke-width="0.5" opacity="0.6"/>
<path d="M405.57,64.50 L407.07,66.02 L405.61,67.28 L405.38,68.73 L403.94,69.72 L404.37,71.71 L402.13,72.11 L400.84,73.06 L400.00,74.72 L397.99,74.86 L396.11,74.90 L394.58,76.36 L392.62,75.53 L390.84,75.33 L388.71,76.20 L387.00,75.37 L385.32,74.62 L384.48,73.00 L382.18,72.85 L381.33,71.43 L379.80,70.42 L379.99,68.69 L378.44,67.54 L378.03,66.04 L378.90,64.50 L378.37,63.00 L378.44,61.46 L378.57,59.84 L379.61,58.49 L380.96,57.34 L383.35,57.08 L383.94,55.44 L385.40,54.49 L387.65,54.90 L389.03,53.75 L390.68,52.68 L392.62,52.51 L394.59,52.57 L395.99,54.45 L398.08,53.96 L400.07,54.18 L401.38,55.38 L402.21,56.83 L402.84,58.23 L405.64,58.49 L406.37,59.94 L406.51,61.52 L406.18,63.07 Z" fill="none" stroke="#9C9EA8" stroke-width="0.5" opacity="0.6"/>
<path d="M409.05,64.50 L408.86,66.28 L408.15,67.96 L407.08,69.50 L405.36,70.67 L404.18,71.98 L402.99,73.29 L401.40,74.30 L400.03,75.63 L397.65,75.41 L396.32,77.41 L394.02,76.80 L392.00,76.43 L390.01,76.57 L387.95,76.59 L385.96,76.16 L383.55,76.21 L383.04,73.84 L381.31,73.05 L379.83,71.97 L379.04,70.49 L376.48,69.64 L377.75,67.55 L377.56,66.02 L375.82,64.50 L375.39,62.75 L375.54,60.97 L377.04,59.54 L378.62,58.32 L378.34,56.11 L380.15,55.02 L382.30,54.39 L383.90,53.28 L385.34,51.64 L387.45,50.91 L389.73,50.71 L392.00,52.64 L394.02,52.25 L396.06,52.36 L397.72,53.46 L400.42,52.83 L400.88,55.24 L404.19,54.75 L404.91,56.57 L406.17,57.95 L406.53,59.69 L408.80,60.90 L408.11,62.80 Z" fill="none" stroke="#9C9EA8" stroke-width="0.5" opacity="0.6"/>
<path d="M377.60,65.00 L377.58,65.81 L377.53,66.59 L377.52,67.44 L377.40,68.05 L377.33,68.81 L377.24,69.51 L377.07,69.85 L376.95,70.43 L376.80,70.81 L376.63,70.90 L376.47,71.16 L376.30,71.31 L376.13,71.18 L375.96,71.10 L375.81,70.68 L375.66,70.34 L375.52,69.86 L375.38,69.42 L375.25,68.89 L375.17,68.14 L375.08,67.42 L375.05,66.61 L375.00,65.83 L375.03,65.00 L375.02,64.19 L375.03,63.37 L375.09,62.58 L375.18,61.89 L375.29,61.27 L375.39,60.63 L375.52,60.11 L375.66,59.65 L375.79,59.14 L375.97,59.05 L376.13,58.68 L376.30,58.63 L376.47,58.94 L376.63,59.00 L376.80,59.23 L376.93,59.72 L377.09,60.06 L377.24,60.49 L377.31,61.27 L377.43,61.86 L377.48,62.65 L377.56,63.38 L377.61,64.17 Z" fill="none" stroke="#9C9EA8" stroke-width="0.5" opacity="0.6"/>
<path d="M378.21,65.00 L378.16,66.18 L378.12,67.35 L378.11,68.60 L377.93,69.52 L377.80,70.53 L377.68,71.63 L377.52,72.67 L377.27,73.07 L377.04,73.60 L376.81,74.15 L376.55,74.01 L376.30,74.43 L376.05,74.07 L375.79,74.13 L375.53,73.96 L375.36,72.85 L375.11,72.47 L374.91,71.68 L374.79,70.56 L374.64,69.61 L374.43,68.72 L374.35,67.52 L374.42,66.19 L374.32,65.00 L374.30,63.73 L374.45,62.62 L374.48,61.38 L374.67,60.47 L374.77,59.35 L374.90,58.28 L375.10,57.51 L375.30,56.71 L375.58,56.61 L375.80,56.05 L376.04,55.45 L376.30,55.57 L376.55,55.74 L376.80,56.01 L377.07,56.02 L377.28,56.84 L377.44,57.83 L377.71,58.22 L377.83,59.37 L377.98,60.34 L378.06,61.49 L378.18,62.58 L378.21,63.79 Z" fill="none" stroke="#9C9EA8" stroke-width="0.5" opacity="0.6"/>
<path d="M378.79,65.00 L378.91,66.65 L378.71,68.11 L378.77,69.92 L378.44,70.95 L378.42,72.82 L378.20,74.11 L377.88,74.91 L377.63,76.05 L377.27,76.26 L376.99,77.36 L376.64,77.30 L376.30,77.16 L375.94,77.97 L375.63,76.95 L375.32,76.40 L374.95,76.21 L374.74,74.79 L374.43,73.99 L374.31,72.36 L373.97,71.46 L373.96,69.67 L373.90,68.09 L373.60,66.71 L373.79,65.00 L373.61,63.30 L373.67,61.61 L373.87,60.17 L374.16,59.06 L374.33,57.72 L374.52,56.42 L374.73,55.19 L374.99,54.05 L375.26,52.91 L375.64,53.10 L375.97,53.05 L376.30,52.42 L376.63,53.06 L376.95,53.43 L377.30,53.39 L377.63,53.96 L377.81,55.51 L378.13,56.20 L378.40,57.24 L378.61,58.58 L378.67,60.27 L378.91,61.64 L378.79,63.42 Z" fill="none" stroke="#9C9EA8" stroke-width="0.5" opacity="0.6"/>
<rect x="358.10" y="17.60" width="72.90" height="83.30" fill="none" stroke="#333" stroke-width="0.9" rx="0" />
<rect x="379.90" y="38.80" width="48.50" height="48.60" fill="none" stroke="#555" stroke-width="0.7" rx="0" />
<text x="0" y="0" font-size="6.78" text-anchor="start" fill="#666" stroke="#666" stroke-width="0.15" textLength="30.96" lengthAdjust="spacingAndGlyphs" transform="translate(380.20 35.00) scale(0.8850 1)" dominant-baseline="central" >CD19-28z</text>
<text x="0" y="0" font-size="6.78" text-anchor="end" fill="#333" stroke="#333" stroke-width="0.15" textLength="14.01" lengthAdjust="spacingAndGlyphs" transform="translate(425.00 83.20) scale(0.8850 1)" dominant-baseline="central" >85.6</text>
<line x1="363.20" y1="100.90" x2="363.20" y2="102.90" stroke="#333" stroke-width="0.6" />
<line x1="375.70" y1="100.90" x2="375.70" y2="102.90" stroke="#333" stroke-width="0.6" />
<line x1="386.10" y1="100.90" x2="386.10" y2="102.90" stroke="#333" stroke-width="0.6" />
<line x1="406.40" y1="100.90" x2="406.40" y2="102.90" stroke="#333" stroke-width="0.6" />
<line x1="423.10" y1="100.90" x2="423.10" y2="102.90" stroke="#333" stroke-width="0.6" />
<line x1="366.10" y1="100.90" x2="366.10" y2="102.00" stroke="#333" stroke-width="0.4" />
<line x1="368.10" y1="100.90" x2="368.10" y2="102.00" stroke="#333" stroke-width="0.4" />
<line x1="370.10" y1="100.90" x2="370.10" y2="102.00" stroke="#333" stroke-width="0.4" />
<line x1="372.10" y1="100.90" x2="372.10" y2="102.00" stroke="#333" stroke-width="0.4" />
<line x1="379.10" y1="100.90" x2="379.10" y2="102.00" stroke="#333" stroke-width="0.4" />
<line x1="381.10" y1="100.90" x2="381.10" y2="102.00" stroke="#333" stroke-width="0.4" />
<line x1="383.10" y1="100.90" x2="383.10" y2="102.00" stroke="#333" stroke-width="0.4" />
<line x1="391.10" y1="100.90" x2="391.10" y2="102.00" stroke="#333" stroke-width="0.4" />
<line x1="394.10" y1="100.90" x2="394.10" y2="102.00" stroke="#333" stroke-width="0.4" />
<line x1="397.10" y1="100.90" x2="397.10" y2="102.00" stroke="#333" stroke-width="0.4" />
<line x1="399.10" y1="100.90" x2="399.10" y2="102.00" stroke="#333" stroke-width="0.4" />
<line x1="401.10" y1="100.90" x2="401.10" y2="102.00" stroke="#333" stroke-width="0.4" />
<line x1="402.60" y1="100.90" x2="402.60" y2="102.00" stroke="#333" stroke-width="0.4" />
<line x1="410.10" y1="100.90" x2="410.10" y2="102.00" stroke="#333" stroke-width="0.4" />
<line x1="413.10" y1="100.90" x2="413.10" y2="102.00" stroke="#333" stroke-width="0.4" />
<line x1="416.10" y1="100.90" x2="416.10" y2="102.00" stroke="#333" stroke-width="0.4" />
<line x1="418.10" y1="100.90" x2="418.10" y2="102.00" stroke="#333" stroke-width="0.4" />
<line x1="420.10" y1="100.90" x2="420.10" y2="102.00" stroke="#333" stroke-width="0.4" />
<line x1="421.10" y1="100.90" x2="421.10" y2="102.00" stroke="#333" stroke-width="0.4" />
<rect x="374.50" y="100.90" width="1.80" height="1.80" fill="#111" stroke="none" stroke-width="0.8" rx="0" />
<text x="0" y="0" font-size="6.55" text-anchor="middle" fill="#222" stroke="#222" stroke-width="0.15" dominant-baseline="central" transform="translate(363.20 110.10) scale(0.8850 1)">−10<tspan font-size="3.93" dy="-2.29">3</tspan></text>
<text x="0" y="0" font-size="6.55" text-anchor="middle" fill="#222" stroke="#222" stroke-width="0.15" transform="translate(375.70 110.10) scale(0.8850 1)" dominant-baseline="central" >0</text>
<text x="0" y="0" font-size="6.55" text-anchor="middle" fill="#222" stroke="#222" stroke-width="0.15" dominant-baseline="central" transform="translate(386.10 110.10) scale(0.8850 1)">10<tspan font-size="3.93" dy="-2.29">3</tspan></text>
<text x="0" y="0" font-size="6.55" text-anchor="middle" fill="#222" stroke="#222" stroke-width="0.15" dominant-baseline="central" transform="translate(406.40 110.10) scale(0.8850 1)">10<tspan font-size="3.93" dy="-2.29">4</tspan></text>
<text x="0" y="0" font-size="6.55" text-anchor="middle" fill="#222" stroke="#222" stroke-width="0.15" dominant-baseline="central" transform="translate(423.10 110.10) scale(0.8850 1)">10<tspan font-size="3.93" dy="-2.29">5</tspan></text>
<line x1="175.00" y1="21.50" x2="177.40" y2="21.50" stroke="#333" stroke-width="0.7" />
<text x="0" y="0" font-size="6.67" text-anchor="end" fill="#3a3a3a" stroke="#3a3a3a" stroke-width="0.15" transform="translate(171.00 21.50) scale(0.8850 1)" dominant-baseline="central" >250K</text>
<line x1="175.00" y1="37.10" x2="177.40" y2="37.10" stroke="#333" stroke-width="0.7" />
<text x="0" y="0" font-size="6.67" text-anchor="end" fill="#3a3a3a" stroke="#3a3a3a" stroke-width="0.15" transform="translate(171.00 37.10) scale(0.8850 1)" dominant-baseline="central" >200K</text>
<line x1="175.00" y1="52.70" x2="177.40" y2="52.70" stroke="#333" stroke-width="0.7" />
<text x="0" y="0" font-size="6.67" text-anchor="end" fill="#3a3a3a" stroke="#3a3a3a" stroke-width="0.15" transform="translate(171.00 52.70) scale(0.8850 1)" dominant-baseline="central" >150K</text>
<line x1="175.00" y1="68.80" x2="177.40" y2="68.80" stroke="#333" stroke-width="0.7" />
<text x="0" y="0" font-size="6.67" text-anchor="end" fill="#3a3a3a" stroke="#3a3a3a" stroke-width="0.15" transform="translate(171.00 68.80) scale(0.8850 1)" dominant-baseline="central" >100K</text>
<line x1="175.00" y1="84.60" x2="177.40" y2="84.60" stroke="#333" stroke-width="0.7" />
<text x="0" y="0" font-size="6.67" text-anchor="end" fill="#3a3a3a" stroke="#3a3a3a" stroke-width="0.15" transform="translate(171.00 84.60) scale(0.8850 1)" dominant-baseline="central" >50K</text>
<line x1="175.00" y1="100.70" x2="177.40" y2="100.70" stroke="#333" stroke-width="0.7" />
<text x="0" y="0" font-size="6.67" text-anchor="end" fill="#3a3a3a" stroke="#3a3a3a" stroke-width="0.15" transform="translate(171.00 100.70) scale(0.8850 1)" dominant-baseline="central" >0</text>
<line x1="176.20" y1="25.40" x2="177.40" y2="25.40" stroke="#333" stroke-width="0.4" />
<line x1="176.20" y1="29.30" x2="177.40" y2="29.30" stroke="#333" stroke-width="0.4" />
<line x1="176.20" y1="33.20" x2="177.40" y2="33.20" stroke="#333" stroke-width="0.4" />
<line x1="176.20" y1="41.00" x2="177.40" y2="41.00" stroke="#333" stroke-width="0.4" />
<line x1="176.20" y1="44.90" x2="177.40" y2="44.90" stroke="#333" stroke-width="0.4" />
<line x1="176.20" y1="48.80" x2="177.40" y2="48.80" stroke="#333" stroke-width="0.4" />
<line x1="176.20" y1="56.73" x2="177.40" y2="56.73" stroke="#333" stroke-width="0.4" />
<line x1="176.20" y1="60.75" x2="177.40" y2="60.75" stroke="#333" stroke-width="0.4" />
<line x1="176.20" y1="64.78" x2="177.40" y2="64.78" stroke="#333" stroke-width="0.4" />
<line x1="176.20" y1="72.75" x2="177.40" y2="72.75" stroke="#333" stroke-width="0.4" />
<line x1="176.20" y1="76.70" x2="177.40" y2="76.70" stroke="#333" stroke-width="0.4" />
<line x1="176.20" y1="80.65" x2="177.40" y2="80.65" stroke="#333" stroke-width="0.4" />
<line x1="176.20" y1="88.62" x2="177.40" y2="88.62" stroke="#333" stroke-width="0.4" />
<line x1="176.20" y1="92.65" x2="177.40" y2="92.65" stroke="#333" stroke-width="0.4" />
<line x1="176.20" y1="96.67" x2="177.40" y2="96.67" stroke="#333" stroke-width="0.4" />
<line x1="148.80" y1="52.50" x2="148.80" y2="83.00" stroke="#777" stroke-width="0.9" />
<path d="M148.80,49.50 L147.20,53.50 L150.40,53.50 Z" fill="#222" stroke="none" stroke-width="0.8" />
<text x="0" y="0" font-size="7.68" text-anchor="middle" fill="#222" stroke="#222" stroke-width="0.15" textLength="19.89" lengthAdjust="spacingAndGlyphs" transform="translate(148.90 93.90) rotate(-90) scale(0.8850 1)" dominant-baseline="central" >FSC-H</text>
<text x="0" y="0" font-size="7.23" text-anchor="start" fill="#222" stroke="#222" stroke-width="0.15" textLength="35.14" lengthAdjust="spacingAndGlyphs" transform="translate(176.90 121.80) scale(0.8850 1)" dominant-baseline="central" >c-myc FITC</text>
<line x1="210.40" y1="121.80" x2="282.50" y2="121.80" stroke="#555" stroke-width="0.9" />
<path d="M285.50,121.80 L281.50,120.20 L281.50,123.40 Z" fill="#222" stroke="none" stroke-width="0.8" />
<line x1="484.90" y1="21.50" x2="484.90" y2="103.70" stroke="#222" stroke-width="0.9" />
<line x1="482.30" y1="22.30" x2="484.90" y2="22.30" stroke="#222" stroke-width="0.8" />
<text x="0" y="0" font-size="6.67" text-anchor="end" fill="#3a3a3a" stroke="#3a3a3a" stroke-width="0.15" transform="translate(479.00 22.30) scale(0.8850 1)" dominant-baseline="central" >100</text>
<line x1="482.30" y1="39.00" x2="484.90" y2="39.00" stroke="#222" stroke-width="0.8" />
<text x="0" y="0" font-size="6.67" text-anchor="end" fill="#3a3a3a" stroke="#3a3a3a" stroke-width="0.15" transform="translate(479.00 39.00) scale(0.8850 1)" dominant-baseline="central" >80</text>
<line x1="482.30" y1="55.00" x2="484.90" y2="55.00" stroke="#222" stroke-width="0.8" />
<text x="0" y="0" font-size="6.67" text-anchor="end" fill="#3a3a3a" stroke="#3a3a3a" stroke-width="0.15" transform="translate(479.00 55.00) scale(0.8850 1)" dominant-baseline="central" >60</text>
<line x1="482.30" y1="71.50" x2="484.90" y2="71.50" stroke="#222" stroke-width="0.8" />
<text x="0" y="0" font-size="6.67" text-anchor="end" fill="#3a3a3a" stroke="#3a3a3a" stroke-width="0.15" transform="translate(479.00 71.50) scale(0.8850 1)" dominant-baseline="central" >40</text>
<line x1="482.30" y1="87.50" x2="484.90" y2="87.50" stroke="#222" stroke-width="0.8" />
<text x="0" y="0" font-size="6.67" text-anchor="end" fill="#3a3a3a" stroke="#3a3a3a" stroke-width="0.15" transform="translate(479.00 87.50) scale(0.8850 1)" dominant-baseline="central" >20</text>
<line x1="482.30" y1="103.70" x2="484.90" y2="103.70" stroke="#222" stroke-width="0.8" />
<text x="0" y="0" font-size="6.67" text-anchor="end" fill="#3a3a3a" stroke="#3a3a3a" stroke-width="0.15" transform="translate(479.00 103.70) scale(0.8850 1)" dominant-baseline="central" >0</text>
<rect x="488.00" y="54.80" width="5.10" height="48.90" fill="#C06A1C" stroke="#9A5212" stroke-width="0.4" rx="0" />
<rect x="496.30" y="52.00" width="5.30" height="51.70" fill="#2BA6DD" stroke="#1C86BD" stroke-width="0.4" rx="0" />
<rect x="504.80" y="49.70" width="5.20" height="54.00" fill="#465064" stroke="#323a4c" stroke-width="0.4" rx="0" />
<line x1="484.90" y1="103.70" x2="513.00" y2="103.70" stroke="#222" stroke-width="1.0" />
<circle cx="490.50" cy="41.30" r="1.5" fill="#fff" stroke="#DDA36E" stroke-width="0.6"/>
<circle cx="489.30" cy="46.70" r="1.5" fill="#fff" stroke="#DDA36E" stroke-width="0.6"/>
<circle cx="491.70" cy="48.20" r="1.5" fill="#fff" stroke="#DDA36E" stroke-width="0.6"/>
<circle cx="490.00" cy="50.80" r="1.5" fill="#fff" stroke="#DDA36E" stroke-width="0.6"/>
<circle cx="490.50" cy="56.60" r="1.25" fill="#fff" stroke="none" stroke-width="0"/>
<circle cx="489.70" cy="65.00" r="1.25" fill="#fff" stroke="none" stroke-width="0"/>
<circle cx="491.30" cy="66.00" r="1.25" fill="#fff" stroke="none" stroke-width="0"/>
<circle cx="490.20" cy="69.50" r="1.25" fill="#fff" stroke="none" stroke-width="0"/>
<circle cx="499.00" cy="37.50" r="1.5" fill="#fff" stroke="#55B8E8" stroke-width="0.6"/>
<circle cx="498.00" cy="44.40" r="1.5" fill="#fff" stroke="#55B8E8" stroke-width="0.6"/>
<circle cx="500.20" cy="45.90" r="1.5" fill="#fff" stroke="#55B8E8" stroke-width="0.6"/>
<circle cx="499.00" cy="48.40" r="1.5" fill="#fff" stroke="#55B8E8" stroke-width="0.6"/>
<circle cx="499.00" cy="54.30" r="1.25" fill="#fff" stroke="none" stroke-width="0"/>
<circle cx="499.00" cy="64.20" r="1.25" fill="#fff" stroke="none" stroke-width="0"/>
<circle cx="499.00" cy="72.60" r="1.25" fill="#fff" stroke="none" stroke-width="0"/>
<circle cx="507.50" cy="39.50" r="1.5" fill="#fff" stroke="#8890A0" stroke-width="0.6"/>
<circle cx="506.30" cy="46.70" r="1.5" fill="#fff" stroke="#8890A0" stroke-width="0.6"/>
<circle cx="508.70" cy="47.10" r="1.5" fill="#fff" stroke="#8890A0" stroke-width="0.6"/>
<circle cx="507.50" cy="53.50" r="1.25" fill="#fff" stroke="none" stroke-width="0"/>
<circle cx="507.50" cy="59.30" r="1.25" fill="#fff" stroke="none" stroke-width="0"/>
<text x="0" y="0" font-size="6.4" text-anchor="middle" dominant-baseline="central" fill="#222" textLength="32.5" lengthAdjust="spacingAndGlyphs" transform="translate(459.5 61.8) rotate(-90)">c-myc<tspan font-size="4" dy="-2">+</tspan><tspan dy="2"> [%]</tspan></text>
<line x1="67.20" y1="151.50" x2="67.20" y2="230.40" stroke="#222" stroke-width="1.1" />
<line x1="64.60" y1="153.50" x2="67.20" y2="153.50" stroke="#222" stroke-width="0.8" />
<text x="0" y="0" font-size="6.89" text-anchor="end" fill="#3a3a3a" stroke="#3a3a3a" stroke-width="0.15" transform="translate(60.90 153.50) scale(0.8850 1)" dominant-baseline="central" >100000</text>
<line x1="64.60" y1="172.70" x2="67.20" y2="172.70" stroke="#222" stroke-width="0.8" />
<text x="0" y="0" font-size="6.89" text-anchor="end" fill="#3a3a3a" stroke="#3a3a3a" stroke-width="0.15" transform="translate(60.90 172.70) scale(0.8850 1)" dominant-baseline="central" >75000</text>
<line x1="64.60" y1="191.95" x2="67.20" y2="191.95" stroke="#222" stroke-width="0.8" />
<text x="0" y="0" font-size="6.89" text-anchor="end" fill="#3a3a3a" stroke="#3a3a3a" stroke-width="0.15" transform="translate(60.90 191.95) scale(0.8850 1)" dominant-baseline="central" >50000</text>
<line x1="64.60" y1="211.20" x2="67.20" y2="211.20" stroke="#222" stroke-width="0.8" />
<text x="0" y="0" font-size="6.89" text-anchor="end" fill="#3a3a3a" stroke="#3a3a3a" stroke-width="0.15" transform="translate(60.90 211.20) scale(0.8850 1)" dominant-baseline="central" >25000</text>
<line x1="64.60" y1="230.40" x2="67.20" y2="230.40" stroke="#222" stroke-width="0.8" />
<text x="0" y="0" font-size="6.89" text-anchor="end" fill="#3a3a3a" stroke="#3a3a3a" stroke-width="0.15" transform="translate(60.90 230.40) scale(0.8850 1)" dominant-baseline="central" >0</text>
<line x1="64.40" y1="230.40" x2="88.40" y2="230.40" stroke="#222" stroke-width="1.1" />
<rect x="69.20" y="168.60" width="4.00" height="61.80" fill="#C06A1C" stroke="#9A5212" stroke-width="0.4" rx="0" />
<circle cx="71.20" cy="168.60" r="1.6" fill="#fff" stroke="#DDA36E" stroke-width="0.65"/>
<rect x="75.90" y="160.20" width="4.00" height="70.20" fill="#2BA6DD" stroke="#1C86BD" stroke-width="0.4" rx="0" />
<circle cx="77.90" cy="160.20" r="1.6" fill="#fff" stroke="#55B8E8" stroke-width="0.65"/>
<circle cx="85.10" cy="230.40" r="1.8" fill="#fff" stroke="#333" stroke-width="0.65"/>
<text x="0" y="0" font-size="7.23" text-anchor="end" fill="#111" font-weight="bold" transform="translate(28.00 191.00) scale(0.8850 1)" dominant-baseline="central" >L-428</text>
<line x1="67.20" y1="258.60" x2="67.20" y2="337.50" stroke="#222" stroke-width="1.1" />
<line x1="64.60" y1="260.10" x2="67.20" y2="260.10" stroke="#222" stroke-width="0.8" />
<text x="0" y="0" font-size="6.89" text-anchor="end" fill="#3a3a3a" stroke="#3a3a3a" stroke-width="0.15" transform="translate(60.90 260.10) scale(0.8850 1)" dominant-baseline="central" >120000</text>
<line x1="64.60" y1="285.90" x2="67.20" y2="285.90" stroke="#222" stroke-width="0.8" />
<text x="0" y="0" font-size="6.89" text-anchor="end" fill="#3a3a3a" stroke="#3a3a3a" stroke-width="0.15" transform="translate(60.90 285.90) scale(0.8850 1)" dominant-baseline="central" >80000</text>
<line x1="64.60" y1="311.70" x2="67.20" y2="311.70" stroke="#222" stroke-width="0.8" />
<text x="0" y="0" font-size="6.89" text-anchor="end" fill="#3a3a3a" stroke="#3a3a3a" stroke-width="0.15" transform="translate(60.90 311.70) scale(0.8850 1)" dominant-baseline="central" >40000</text>
<line x1="64.60" y1="337.50" x2="67.20" y2="337.50" stroke="#222" stroke-width="0.8" />
<text x="0" y="0" font-size="6.89" text-anchor="end" fill="#3a3a3a" stroke="#3a3a3a" stroke-width="0.15" transform="translate(60.90 337.50) scale(0.8850 1)" dominant-baseline="central" >0</text>
<line x1="64.40" y1="337.50" x2="88.40" y2="337.50" stroke="#222" stroke-width="1.1" />
<rect x="69.20" y="301.10" width="4.00" height="36.40" fill="#C06A1C" stroke="#9A5212" stroke-width="0.4" rx="0" />
<circle cx="71.20" cy="301.10" r="1.6" fill="#fff" stroke="#DDA36E" stroke-width="0.65"/>
<rect x="75.90" y="264.90" width="4.00" height="72.60" fill="#2BA6DD" stroke="#1C86BD" stroke-width="0.4" rx="0" />
<circle cx="77.90" cy="264.90" r="1.6" fill="#fff" stroke="#55B8E8" stroke-width="0.65"/>
<circle cx="85.10" cy="337.50" r="1.8" fill="#fff" stroke="#333" stroke-width="0.65"/>
<text x="0" y="0" font-size="7.23" text-anchor="end" fill="#111" font-weight="bold" transform="translate(28.00 296.90) scale(0.8850 1)" dominant-baseline="central" >L-540</text>
<line x1="67.20" y1="367.20" x2="67.20" y2="445.30" stroke="#222" stroke-width="1.1" />
<line x1="64.60" y1="368.70" x2="67.20" y2="368.70" stroke="#222" stroke-width="0.8" />
<text x="0" y="0" font-size="6.89" text-anchor="end" fill="#3a3a3a" stroke="#3a3a3a" stroke-width="0.15" transform="translate(60.90 368.70) scale(0.8850 1)" dominant-baseline="central" >12000</text>
<line x1="64.60" y1="394.20" x2="67.20" y2="394.20" stroke="#222" stroke-width="0.8" />
<text x="0" y="0" font-size="6.89" text-anchor="end" fill="#3a3a3a" stroke="#3a3a3a" stroke-width="0.15" transform="translate(60.90 394.20) scale(0.8850 1)" dominant-baseline="central" >8000</text>
<line x1="64.60" y1="419.80" x2="67.20" y2="419.80" stroke="#222" stroke-width="0.8" />
<text x="0" y="0" font-size="6.89" text-anchor="end" fill="#3a3a3a" stroke="#3a3a3a" stroke-width="0.15" transform="translate(60.90 419.80) scale(0.8850 1)" dominant-baseline="central" >4000</text>
<line x1="64.60" y1="445.30" x2="67.20" y2="445.30" stroke="#222" stroke-width="0.8" />
<text x="0" y="0" font-size="6.89" text-anchor="end" fill="#3a3a3a" stroke="#3a3a3a" stroke-width="0.15" transform="translate(60.90 445.30) scale(0.8850 1)" dominant-baseline="central" >0</text>
<line x1="64.40" y1="445.30" x2="88.40" y2="445.30" stroke="#222" stroke-width="1.1" />
<rect x="69.20" y="378.30" width="4.00" height="67.00" fill="#C06A1C" stroke="#9A5212" stroke-width="0.4" rx="0" />
<circle cx="71.20" cy="378.30" r="1.6" fill="#fff" stroke="#DDA36E" stroke-width="0.65"/>
<rect x="75.90" y="400.50" width="4.00" height="44.80" fill="#2BA6DD" stroke="#1C86BD" stroke-width="0.4" rx="0" />
<circle cx="77.90" cy="400.50" r="1.6" fill="#fff" stroke="#55B8E8" stroke-width="0.65"/>
<circle cx="85.10" cy="445.30" r="1.8" fill="#fff" stroke="#333" stroke-width="0.65"/>
<text x="0" y="0" font-size="7.23" text-anchor="end" fill="#111" font-weight="bold" transform="translate(27.90 406.20) scale(0.8850 1)" dominant-baseline="central" >KM-H2</text>
<line x1="67.20" y1="469.60" x2="67.20" y2="548.30" stroke="#222" stroke-width="1.1" />
<line x1="64.60" y1="471.10" x2="67.20" y2="471.10" stroke="#222" stroke-width="0.8" />
<text x="0" y="0" font-size="6.89" text-anchor="end" fill="#3a3a3a" stroke="#3a3a3a" stroke-width="0.15" transform="translate(60.90 471.10) scale(0.8850 1)" dominant-baseline="central" >40000</text>
<line x1="64.60" y1="490.40" x2="67.20" y2="490.40" stroke="#222" stroke-width="0.8" />
<text x="0" y="0" font-size="6.89" text-anchor="end" fill="#3a3a3a" stroke="#3a3a3a" stroke-width="0.15" transform="translate(60.90 490.40) scale(0.8850 1)" dominant-baseline="central" >30000</text>
<line x1="64.60" y1="509.70" x2="67.20" y2="509.70" stroke="#222" stroke-width="0.8" />
<text x="0" y="0" font-size="6.89" text-anchor="end" fill="#3a3a3a" stroke="#3a3a3a" stroke-width="0.15" transform="translate(60.90 509.70) scale(0.8850 1)" dominant-baseline="central" >20000</text>
<line x1="64.60" y1="529.00" x2="67.20" y2="529.00" stroke="#222" stroke-width="0.8" />
<text x="0" y="0" font-size="6.89" text-anchor="end" fill="#3a3a3a" stroke="#3a3a3a" stroke-width="0.15" transform="translate(60.90 529.00) scale(0.8850 1)" dominant-baseline="central" >10000</text>
<line x1="64.60" y1="548.30" x2="67.20" y2="548.30" stroke="#222" stroke-width="0.8" />
<text x="0" y="0" font-size="6.89" text-anchor="end" fill="#3a3a3a" stroke="#3a3a3a" stroke-width="0.15" transform="translate(60.90 548.30) scale(0.8850 1)" dominant-baseline="central" >0</text>
<line x1="64.40" y1="548.30" x2="88.40" y2="548.30" stroke="#222" stroke-width="1.1" />
<circle cx="71.20" cy="548.30" r="1.5" fill="#fff" stroke="#DDA36E" stroke-width="0.65"/>
<rect x="75.90" y="543.80" width="4.00" height="4.50" fill="#2BA6DD" stroke="#1C86BD" stroke-width="0.4" rx="0" />
<circle cx="77.90" cy="543.80" r="1.6" fill="#fff" stroke="#55B8E8" stroke-width="0.65"/>
<rect x="82.60" y="482.20" width="3.80" height="66.10" fill="#465064" stroke="#323a4c" stroke-width="0.4" rx="0" />
<circle cx="84.50" cy="482.20" r="1.6" fill="#fff" stroke="#8890A0" stroke-width="0.65"/>
<text x="0" y="0" font-size="7.23" text-anchor="end" fill="#111" font-weight="bold" transform="translate(27.70 508.30) scale(0.8850 1)" dominant-baseline="central" >Nalm-6</text>
<line x1="35.40" y1="161.20" x2="35.40" y2="501.50" stroke="#777" stroke-width="0.9" />
<path d="M35.40,158.20 L33.80,162.20 L37.00,162.20 Z" fill="#222" stroke="none" stroke-width="0.8" />
<text x="0" y="0" font-size="7.91" text-anchor="middle" fill="#222" stroke="#222" stroke-width="0.15" textLength="48.14" lengthAdjust="spacingAndGlyphs" transform="translate(35.50 527.30) rotate(-90) scale(0.8850 1)" dominant-baseline="central" >Molecules/cell</text>
<text x="0" y="0" font-size="6.55" text-anchor="middle" fill="#DDA36E" stroke="#DDA36E" stroke-width="0.15" textLength="20.57" lengthAdjust="spacingAndGlyphs" transform="translate(71.40 561.80) rotate(-90) scale(0.8850 1)" dominant-baseline="central" >CD86</text>
<text x="0" y="0" font-size="6.55" text-anchor="middle" fill="#55B8E8" stroke="#55B8E8" stroke-width="0.15" textLength="20.57" lengthAdjust="spacingAndGlyphs" transform="translate(77.70 561.80) rotate(-90) scale(0.8850 1)" dominant-baseline="central" >CD30</text>
<text x="0" y="0" font-size="6.55" text-anchor="middle" fill="#444" stroke="#444" stroke-width="0.15" textLength="20.57" lengthAdjust="spacingAndGlyphs" transform="translate(84.30 561.80) rotate(-90) scale(0.8850 1)" dominant-baseline="central" >CD19</text>
<line x1="104.30" y1="175.20" x2="181.30" y2="175.20" stroke="#CDB8A0" stroke-width="0.8" />
<path d="M104.8,175.2 L104.8,175.2 L105.5,175.2 L106.2,175.2 L106.9,175.2 L107.6,175.2 L108.3,175.2 L109.0,175.2 L109.7,175.2 L110.4,175.2 L111.1,175.2 L111.8,175.2 L112.5,175.2 L113.2,175.2 L113.9,175.2 L114.6,175.2 L115.3,175.2 L116.0,175.1 L116.7,175.1 L117.4,175.0 L118.1,174.9 L118.8,174.8 L119.5,174.4 L120.2,174.0 L120.9,173.8 L121.6,173.3 L122.3,172.7 L123.0,171.9 L123.7,171.0 L124.4,170.6 L125.1,170.1 L125.8,168.9 L126.5,168.3 L127.2,167.4 L127.9,167.4 L128.6,166.6 L129.3,165.6 L130.0,165.2 L130.7,163.5 L131.4,162.1 L132.1,162.0 L132.8,161.6 L133.5,160.2 L134.2,158.8 L134.9,159.1 L135.6,159.8 L136.3,160.2 L137.0,161.4 L137.7,161.8 L138.4,161.7 L139.1,161.4 L139.8,161.4 L140.5,161.4 L141.2,161.5 L141.9,161.6 L142.6,162.6 L143.3,164.3 L144.0,164.9 L144.7,166.4 L145.4,167.6 L146.1,168.9 L146.8,169.2 L147.5,169.6 L148.2,170.4 L148.9,170.7 L149.6,170.7 L150.3,170.9 L151.0,171.0 L151.7,171.6 L152.4,171.9 L153.1,172.3 L153.8,173.0 L154.5,173.4 L155.2,173.6 L155.9,173.8 L156.6,174.1 L157.3,174.2 L158.0,174.3 L158.7,174.3 L159.4,174.0 L160.1,174.0 L160.8,174.1 L161.5,174.1 L162.2,174.2 L162.9,174.3 L163.6,174.6 L164.3,174.8 L165.0,174.9 L165.7,175.1 L166.4,175.1 L167.1,175.2 L167.8,175.2 L168.5,175.2 L169.2,175.2 L169.9,175.2 L170.6,175.2 L171.3,175.2 L172.0,175.2 L172.7,175.2 L173.4,175.2 L174.1,175.2 L174.8,175.2 L175.5,175.2 L176.2,175.2 L176.9,175.2 L177.6,175.2 L178.3,175.2 L179.0,175.2 L179.7,175.2 L180.4,175.2 L180.8,175.2 Z" fill="#E4B68F" stroke="#CF9966" stroke-width="0.45" stroke-linejoin="round" fill-opacity="0.9"/>
<line x1="104.30" y1="186.30" x2="181.30" y2="186.30" stroke="#E6D8CA" stroke-width="0.8" />
<path d="M104.8,186.3 L104.8,186.3 L105.5,186.3 L106.2,186.3 L106.9,186.3 L107.6,186.3 L108.3,186.3 L109.0,186.3 L109.7,186.3 L110.4,186.3 L111.1,186.3 L111.8,186.3 L112.5,186.3 L113.2,186.3 L113.9,186.3 L114.6,186.3 L115.3,186.3 L116.0,186.3 L116.7,186.3 L117.4,186.3 L118.1,186.3 L118.8,186.3 L119.5,186.3 L120.2,186.3 L120.9,186.3 L121.6,186.3 L122.3,186.3 L123.0,186.3 L123.7,186.3 L124.4,186.3 L125.1,186.3 L125.8,186.3 L126.5,186.3 L127.2,186.3 L127.9,186.3 L128.6,186.3 L129.3,186.3 L130.0,186.3 L130.7,186.3 L131.4,186.3 L132.1,186.3 L132.8,186.3 L133.5,186.3 L134.2,186.3 L134.9,186.3 L135.6,186.3 L136.3,186.3 L137.0,186.3 L137.7,186.3 L138.4,186.3 L139.1,186.3 L139.8,186.3 L140.5,186.3 L141.2,186.2 L141.9,186.0 L142.6,185.5 L143.3,184.7 L144.0,184.3 L144.7,184.1 L145.4,183.8 L146.1,184.1 L146.8,184.5 L147.5,184.7 L148.2,184.0 L148.9,183.0 L149.6,182.2 L150.3,182.1 L151.0,182.5 L151.7,183.4 L152.4,184.1 L153.1,184.4 L153.8,184.3 L154.5,184.1 L155.2,183.8 L155.9,183.7 L156.6,183.7 L157.3,183.4 L158.0,182.2 L158.7,180.1 L159.4,176.9 L160.1,172.4 L160.8,169.5 L161.5,168.2 L162.2,169.8 L162.9,173.1 L163.6,176.3 L164.3,179.5 L165.0,181.6 L165.7,182.8 L166.4,183.9 L167.1,184.9 L167.8,185.2 L168.5,185.6 L169.2,186.0 L169.9,186.1 L170.6,186.2 L171.3,186.3 L172.0,186.3 L172.7,186.3 L173.4,186.3 L174.1,186.3 L174.8,186.3 L175.5,186.3 L176.2,186.3 L176.9,186.3 L177.6,186.3 L178.3,186.3 L179.0,186.3 L179.7,186.3 L180.4,186.3 L180.8,186.3 Z" fill="#F2D9C4" stroke="#E2C0A2" stroke-width="0.45" stroke-linejoin="round" fill-opacity="0.9"/>
<line x1="104.30" y1="197.40" x2="181.30" y2="197.40" stroke="#9CC2DE" stroke-width="0.8" />
<path d="M104.8,197.4 L104.8,197.4 L105.5,197.4 L106.2,197.4 L106.9,197.4 L107.6,197.4 L108.3,197.4 L109.0,197.3 L109.7,197.3 L110.4,197.3 L111.1,197.2 L111.8,197.1 L112.5,197.0 L113.2,196.8 L113.9,196.6 L114.6,196.2 L115.3,195.7 L116.0,195.3 L116.7,194.8 L117.4,193.6 L118.1,192.8 L118.8,191.8 L119.5,190.0 L120.2,188.8 L120.9,187.1 L121.6,185.9 L122.3,184.5 L123.0,183.9 L123.7,182.4 L124.4,180.9 L125.1,180.6 L125.8,179.9 L126.5,179.8 L127.2,180.8 L127.9,180.0 L128.6,180.0 L129.3,180.5 L130.0,181.2 L130.7,180.2 L131.4,180.5 L132.1,180.5 L132.8,180.6 L133.5,181.4 L134.2,182.0 L134.9,183.6 L135.6,184.5 L136.3,185.9 L137.0,186.5 L137.7,187.4 L138.4,189.0 L139.1,190.1 L139.8,190.9 L140.5,190.9 L141.2,191.6 L141.9,192.1 L142.6,192.8 L143.3,193.3 L144.0,193.8 L144.7,194.2 L145.4,194.5 L146.1,194.9 L146.8,195.1 L147.5,195.4 L148.2,195.6 L148.9,195.9 L149.6,196.1 L150.3,196.4 L151.0,196.7 L151.7,196.8 L152.4,196.8 L153.1,197.1 L153.8,197.1 L154.5,197.2 L155.2,197.3 L155.9,197.3 L156.6,197.3 L157.3,197.3 L158.0,197.4 L158.7,197.4 L159.4,197.4 L160.1,197.4 L160.8,197.4 L161.5,197.4 L162.2,197.4 L162.9,197.4 L163.6,197.4 L164.3,197.4 L165.0,197.4 L165.7,197.4 L166.4,197.4 L167.1,197.4 L167.8,197.4 L168.5,197.4 L169.2,197.4 L169.9,197.4 L170.6,197.4 L171.3,197.4 L172.0,197.4 L172.7,197.4 L173.4,197.4 L174.1,197.4 L174.8,197.4 L175.5,197.4 L176.2,197.4 L176.9,197.4 L177.6,197.4 L178.3,197.4 L179.0,197.4 L179.7,197.4 L180.4,197.4 L180.8,197.4 Z" fill="#98C9EC" stroke="#66ABDD" stroke-width="0.45" stroke-linejoin="round" fill-opacity="0.9"/>
<line x1="104.30" y1="208.50" x2="181.30" y2="208.50" stroke="#CFE2F0" stroke-width="0.8" />
<path d="M104.8,208.5 L104.8,208.5 L105.5,208.5 L106.2,208.5 L106.9,208.5 L107.6,208.5 L108.3,208.5 L109.0,208.5 L109.7,208.5 L110.4,208.5 L111.1,208.5 L111.8,208.5 L112.5,208.5 L113.2,208.5 L113.9,208.5 L114.6,208.5 L115.3,208.5 L116.0,208.5 L116.7,208.5 L117.4,208.5 L118.1,208.5 L118.8,208.5 L119.5,208.5 L120.2,208.5 L120.9,208.5 L121.6,208.5 L122.3,208.5 L123.0,208.5 L123.7,208.5 L124.4,208.5 L125.1,208.5 L125.8,208.5 L126.5,208.5 L127.2,208.5 L127.9,208.5 L128.6,208.5 L129.3,208.5 L130.0,208.5 L130.7,208.5 L131.4,208.5 L132.1,208.5 L132.8,208.4 L133.5,208.4 L134.2,208.4 L134.9,208.3 L135.6,208.2 L136.3,208.2 L137.0,208.1 L137.7,207.9 L138.4,207.7 L139.1,207.6 L139.8,207.3 L140.5,206.7 L141.2,206.4 L141.9,206.1 L142.6,206.0 L143.3,205.8 L144.0,205.6 L144.7,205.5 L145.4,205.4 L146.1,205.1 L146.8,204.4 L147.5,203.9 L148.2,203.5 L148.9,203.0 L149.6,203.0 L150.3,202.6 L151.0,201.8 L151.7,200.9 L152.4,199.8 L153.1,198.7 L153.8,198.4 L154.5,197.1 L155.2,195.7 L155.9,194.7 L156.6,194.2 L157.3,193.1 L158.0,192.9 L158.7,191.3 L159.4,190.7 L160.1,191.6 L160.8,194.3 L161.5,196.9 L162.2,200.6 L162.9,203.5 L163.6,205.7 L164.3,207.1 L165.0,207.9 L165.7,208.3 L166.4,208.4 L167.1,208.5 L167.8,208.5 L168.5,208.5 L169.2,208.5 L169.9,208.5 L170.6,208.5 L171.3,208.5 L172.0,208.5 L172.7,208.5 L173.4,208.5 L174.1,208.5 L174.8,208.5 L175.5,208.5 L176.2,208.5 L176.9,208.5 L177.6,208.5 L178.3,208.5 L179.0,208.5 L179.7,208.5 L180.4,208.5 L180.8,208.5 Z" fill="#C6E1F4" stroke="#9CC8EA" stroke-width="0.45" stroke-linejoin="round" fill-opacity="0.9"/>
<line x1="104.30" y1="219.60" x2="181.30" y2="219.60" stroke="#7E808C" stroke-width="0.8" />
<path d="M104.8,219.6 L104.8,219.2 L105.5,219.1 L106.2,219.0 L106.9,218.9 L107.6,218.9 L108.3,218.9 L109.0,219.1 L109.7,219.0 L110.4,218.9 L111.1,218.8 L111.8,218.7 L112.5,218.9 L113.2,218.9 L113.9,218.9 L114.6,218.8 L115.3,218.8 L116.0,218.9 L116.7,218.9 L117.4,218.9 L118.1,218.6 L118.8,218.6 L119.5,218.7 L120.2,218.6 L120.9,218.7 L121.6,218.6 L122.3,218.7 L123.0,218.8 L123.7,218.6 L124.4,218.7 L125.1,218.7 L125.8,218.5 L126.5,218.4 L127.2,218.6 L127.9,218.5 L128.6,218.5 L129.3,218.5 L130.0,218.7 L130.7,218.5 L131.4,218.6 L132.1,218.5 L132.8,218.5 L133.5,218.6 L134.2,218.7 L134.9,218.7 L135.6,218.7 L136.3,218.7 L137.0,218.5 L137.7,218.1 L138.4,218.1 L139.1,217.8 L139.8,217.7 L140.5,217.7 L141.2,217.5 L141.9,217.6 L142.6,217.9 L143.3,218.0 L144.0,218.2 L144.7,218.6 L145.4,218.6 L146.1,219.0 L146.8,219.0 L147.5,219.0 L148.2,219.2 L148.9,219.3 L149.6,219.3 L150.3,219.3 L151.0,219.3 L151.7,219.2 L152.4,219.1 L153.1,218.6 L153.8,218.1 L154.5,217.1 L155.2,216.3 L155.9,215.4 L156.6,214.5 L157.3,213.3 L158.0,213.2 L158.7,212.5 L159.4,211.7 L160.1,211.0 L160.8,211.1 L161.5,211.2 L162.2,211.2 L162.9,211.0 L163.6,211.4 L164.3,210.3 L165.0,209.0 L165.7,207.4 L166.4,207.0 L167.1,205.0 L167.8,205.2 L168.5,205.1 L169.2,206.4 L169.9,209.5 L170.6,213.7 L171.3,216.5 L172.0,218.3 L172.7,219.2 L173.4,219.5 L174.1,219.6 L174.8,219.6 L175.5,219.6 L176.2,219.6 L176.9,219.6 L177.6,219.6 L178.3,219.6 L179.0,219.6 L179.7,219.6 L180.4,219.6 L180.8,219.6 Z" fill="#85899C" stroke="#585C70" stroke-width="0.45" stroke-linejoin="round" fill-opacity="0.9"/>
<line x1="104.30" y1="230.70" x2="181.30" y2="230.70" stroke="#C8C8CE" stroke-width="0.8" />
<path d="M104.8,230.7 L104.8,230.7 L105.5,230.7 L106.2,230.7 L106.9,230.7 L107.6,230.7 L108.3,230.7 L109.0,230.7 L109.7,230.7 L110.4,230.7 L111.1,230.7 L111.8,230.7 L112.5,230.7 L113.2,230.7 L113.9,230.7 L114.6,230.7 L115.3,230.7 L116.0,230.7 L116.7,230.7 L117.4,230.7 L118.1,230.7 L118.8,230.7 L119.5,230.7 L120.2,230.7 L120.9,230.7 L121.6,230.7 L122.3,230.7 L123.0,230.7 L123.7,230.7 L124.4,230.7 L125.1,230.7 L125.8,230.7 L126.5,230.7 L127.2,230.7 L127.9,230.7 L128.6,230.7 L129.3,230.7 L130.0,230.7 L130.7,230.7 L131.4,230.7 L132.1,230.7 L132.8,230.7 L133.5,230.7 L134.2,230.7 L134.9,230.7 L135.6,230.7 L136.3,230.6 L137.0,230.6 L137.7,230.6 L138.4,230.5 L139.1,230.5 L139.8,230.4 L140.5,230.2 L141.2,230.0 L141.9,229.9 L142.6,229.8 L143.3,229.7 L144.0,229.3 L144.7,228.9 L145.4,228.4 L146.1,228.0 L146.8,227.3 L147.5,226.8 L148.2,225.9 L148.9,225.0 L149.6,224.3 L150.3,223.3 L151.0,222.2 L151.7,221.5 L152.4,220.2 L153.1,218.7 L153.8,218.1 L154.5,216.5 L155.2,215.4 L155.9,214.2 L156.6,214.3 L157.3,214.6 L158.0,213.5 L158.7,213.1 L159.4,214.1 L160.1,215.9 L160.8,217.7 L161.5,219.0 L162.2,221.2 L162.9,222.6 L163.6,224.5 L164.3,226.4 L165.0,227.5 L165.7,228.6 L166.4,229.2 L167.1,229.6 L167.8,230.1 L168.5,230.4 L169.2,230.5 L169.9,230.6 L170.6,230.7 L171.3,230.7 L172.0,230.7 L172.7,230.7 L173.4,230.7 L174.1,230.7 L174.8,230.7 L175.5,230.7 L176.2,230.7 L176.9,230.7 L177.6,230.7 L178.3,230.7 L179.0,230.7 L179.7,230.7 L180.4,230.7 L180.8,230.7 Z" fill="#ADAEBA" stroke="#8E8F9C" stroke-width="0.45" stroke-linejoin="round" fill-opacity="0.9"/>
<line x1="157.10" y1="152.50" x2="157.10" y2="230.70" stroke="#666" stroke-width="1.0" />
<rect x="104.30" y="152.50" width="77.00" height="78.20" fill="none" stroke="#111" stroke-width="1.0" rx="0" />
<line x1="117.30" y1="230.70" x2="117.30" y2="232.70" stroke="#222" stroke-width="0.6" />
<text x="0" y="0" font-size="6.55" text-anchor="middle" fill="#222" stroke="#222" stroke-width="0.15" dominant-baseline="central" transform="translate(117.30 239.80) scale(0.8850 1)">10<tspan font-size="3.93" dy="-2.29">3</tspan></text>
<line x1="144.10" y1="230.70" x2="144.10" y2="232.70" stroke="#222" stroke-width="0.6" />
<text x="0" y="0" font-size="6.55" text-anchor="middle" fill="#222" stroke="#222" stroke-width="0.15" dominant-baseline="central" transform="translate(144.10 239.80) scale(0.8850 1)">10<tspan font-size="3.93" dy="-2.29">4</tspan></text>
<line x1="171.00" y1="230.70" x2="171.00" y2="232.70" stroke="#222" stroke-width="0.6" />
<text x="0" y="0" font-size="6.55" text-anchor="middle" fill="#222" stroke="#222" stroke-width="0.15" dominant-baseline="central" transform="translate(171.00 239.80) scale(0.8850 1)">10<tspan font-size="3.93" dy="-2.29">5</tspan></text>
<line x1="106.62" y1="230.70" x2="106.62" y2="231.80" stroke="#222" stroke-width="0.4" />
<line x1="109.22" y1="230.70" x2="109.22" y2="231.80" stroke="#222" stroke-width="0.4" />
<line x1="111.34" y1="230.70" x2="111.34" y2="231.80" stroke="#222" stroke-width="0.4" />
<line x1="113.14" y1="230.70" x2="113.14" y2="231.80" stroke="#222" stroke-width="0.4" />
<line x1="114.70" y1="230.70" x2="114.70" y2="231.80" stroke="#222" stroke-width="0.4" />
<line x1="116.07" y1="230.70" x2="116.07" y2="231.80" stroke="#222" stroke-width="0.4" />
<line x1="125.38" y1="230.70" x2="125.38" y2="231.80" stroke="#222" stroke-width="0.4" />
<line x1="130.11" y1="230.70" x2="130.11" y2="231.80" stroke="#222" stroke-width="0.4" />
<line x1="133.47" y1="230.70" x2="133.47" y2="231.80" stroke="#222" stroke-width="0.4" />
<line x1="136.07" y1="230.70" x2="136.07" y2="231.80" stroke="#222" stroke-width="0.4" />
<line x1="138.19" y1="230.70" x2="138.19" y2="231.80" stroke="#222" stroke-width="0.4" />
<line x1="139.99" y1="230.70" x2="139.99" y2="231.80" stroke="#222" stroke-width="0.4" />
<line x1="141.55" y1="230.70" x2="141.55" y2="231.80" stroke="#222" stroke-width="0.4" />
<line x1="142.92" y1="230.70" x2="142.92" y2="231.80" stroke="#222" stroke-width="0.4" />
<line x1="152.23" y1="230.70" x2="152.23" y2="231.80" stroke="#222" stroke-width="0.4" />
<line x1="156.96" y1="230.70" x2="156.96" y2="231.80" stroke="#222" stroke-width="0.4" />
<line x1="160.32" y1="230.70" x2="160.32" y2="231.80" stroke="#222" stroke-width="0.4" />
<line x1="162.92" y1="230.70" x2="162.92" y2="231.80" stroke="#222" stroke-width="0.4" />
<line x1="165.04" y1="230.70" x2="165.04" y2="231.80" stroke="#222" stroke-width="0.4" />
<line x1="166.84" y1="230.70" x2="166.84" y2="231.80" stroke="#222" stroke-width="0.4" />
<line x1="168.40" y1="230.70" x2="168.40" y2="231.80" stroke="#222" stroke-width="0.4" />
<line x1="169.77" y1="230.70" x2="169.77" y2="231.80" stroke="#222" stroke-width="0.4" />
<line x1="179.08" y1="230.70" x2="179.08" y2="231.80" stroke="#222" stroke-width="0.4" />
<text x="0" y="0" font-size="6.33" text-anchor="start" fill="#333" stroke="#333" stroke-width="0.15" textLength="18.08" lengthAdjust="spacingAndGlyphs" transform="translate(187.40 159.50) scale(0.8850 1)" dominant-baseline="central" >Tumor</text>
<line x1="194.10" y1="168.00" x2="196.70" y2="168.00" stroke="#C09060" stroke-width="0.7" />
<line x1="195.40" y1="166.70" x2="195.40" y2="169.30" stroke="#C09060" stroke-width="0.7" />
<line x1="194.10" y1="179.60" x2="196.70" y2="179.60" stroke="#D0B8A0" stroke-width="0.7" />
<line x1="194.10" y1="191.20" x2="196.70" y2="191.20" stroke="#5A98CC" stroke-width="0.7" />
<line x1="195.40" y1="189.90" x2="195.40" y2="192.50" stroke="#5A98CC" stroke-width="0.7" />
<line x1="194.10" y1="202.80" x2="196.70" y2="202.80" stroke="#A0C4E0" stroke-width="0.7" />
<line x1="194.10" y1="214.40" x2="196.70" y2="214.40" stroke="#4a4e5a" stroke-width="0.7" />
<line x1="195.40" y1="213.10" x2="195.40" y2="215.70" stroke="#4a4e5a" stroke-width="0.7" />
<line x1="194.10" y1="226.00" x2="196.70" y2="226.00" stroke="#9a9aa2" stroke-width="0.7" />
<line x1="103.60" y1="280.90" x2="182.30" y2="280.90" stroke="#CDB8A0" stroke-width="0.8" />
<path d="M104.1,280.9 L104.1,280.7 L104.8,280.6 L105.5,280.6 L106.2,280.6 L106.9,280.5 L107.6,280.6 L108.3,280.4 L109.0,280.4 L109.7,280.2 L110.4,280.1 L111.1,280.0 L111.8,279.8 L112.5,279.7 L113.2,279.3 L113.9,278.4 L114.6,274.9 L115.3,267.3 L116.0,260.4 L116.7,261.2 L117.4,261.9 L118.1,262.4 L118.8,263.0 L119.5,265.1 L120.2,267.3 L120.9,268.4 L121.6,270.9 L122.3,271.7 L123.0,273.1 L123.7,274.1 L124.4,274.9 L125.1,275.3 L125.8,275.2 L126.5,275.8 L127.2,275.9 L127.9,276.0 L128.6,276.4 L129.3,276.6 L130.0,277.1 L130.7,277.4 L131.4,277.6 L132.1,277.5 L132.8,277.7 L133.5,277.9 L134.2,277.9 L134.9,278.0 L135.6,278.2 L136.3,278.0 L137.0,278.0 L137.7,278.3 L138.4,278.3 L139.1,278.3 L139.8,278.1 L140.5,278.1 L141.2,278.4 L141.9,278.2 L142.6,278.5 L143.3,278.5 L144.0,278.4 L144.7,278.6 L145.4,278.6 L146.1,278.8 L146.8,278.6 L147.5,278.4 L148.2,278.1 L148.9,277.4 L149.6,276.8 L150.3,276.0 L151.0,275.8 L151.7,276.2 L152.4,277.1 L153.1,277.8 L153.8,278.4 L154.5,278.9 L155.2,279.1 L155.9,279.4 L156.6,279.4 L157.3,279.4 L158.0,279.2 L158.7,279.2 L159.4,279.4 L160.1,279.5 L160.8,279.3 L161.5,279.5 L162.2,279.3 L162.9,279.3 L163.6,279.3 L164.3,279.2 L165.0,278.9 L165.7,279.0 L166.4,279.0 L167.1,279.0 L167.8,278.8 L168.5,279.1 L169.2,279.2 L169.9,279.3 L170.6,279.4 L171.3,279.5 L172.0,279.7 L172.7,280.0 L173.4,280.2 L174.1,280.4 L174.8,280.4 L175.5,280.5 L176.2,280.6 L176.9,280.7 L177.6,280.7 L178.3,280.7 L179.0,280.8 L179.7,280.8 L180.4,280.8 L181.1,280.8 L181.8,280.8 L181.8,280.9 Z" fill="#E4B68F" stroke="#CF9966" stroke-width="0.45" stroke-linejoin="round" fill-opacity="0.9"/>
<line x1="103.60" y1="292.00" x2="182.30" y2="292.00" stroke="#E6D8CA" stroke-width="0.8" />
<path d="M104.1,292.0 L104.1,292.0 L104.8,292.0 L105.5,292.0 L106.2,292.0 L106.9,292.0 L107.6,292.0 L108.3,292.0 L109.0,292.0 L109.7,292.0 L110.4,292.0 L111.1,292.0 L111.8,292.0 L112.5,292.0 L113.2,292.0 L113.9,292.0 L114.6,292.0 L115.3,292.0 L116.0,292.0 L116.7,292.0 L117.4,292.0 L118.1,292.0 L118.8,292.0 L119.5,292.0 L120.2,292.0 L120.9,292.0 L121.6,292.0 L122.3,292.0 L123.0,292.0 L123.7,292.0 L124.4,291.9 L125.1,291.9 L125.8,291.9 L126.5,291.9 L127.2,291.8 L127.9,291.8 L128.6,291.8 L129.3,291.7 L130.0,291.6 L130.7,291.6 L131.4,291.4 L132.1,291.4 L132.8,291.2 L133.5,291.3 L134.2,291.2 L134.9,290.8 L135.6,290.8 L136.3,290.6 L137.0,290.5 L137.7,290.4 L138.4,290.3 L139.1,290.2 L139.8,289.9 L140.5,289.9 L141.2,289.8 L141.9,289.7 L142.6,289.4 L143.3,289.1 L144.0,288.5 L144.7,288.3 L145.4,288.3 L146.1,288.1 L146.8,287.4 L147.5,287.5 L148.2,287.2 L148.9,287.2 L149.6,287.0 L150.3,287.2 L151.0,287.2 L151.7,287.5 L152.4,287.7 L153.1,287.9 L153.8,288.3 L154.5,289.0 L155.2,289.5 L155.9,289.4 L156.6,289.5 L157.3,289.4 L158.0,288.3 L158.7,286.8 L159.4,284.4 L160.1,281.4 L160.8,279.2 L161.5,277.3 L162.2,275.7 L162.9,277.2 L163.6,278.6 L164.3,282.0 L165.0,284.6 L165.7,287.1 L166.4,289.0 L167.1,290.3 L167.8,291.2 L168.5,291.7 L169.2,291.9 L169.9,292.0 L170.6,292.0 L171.3,292.0 L172.0,292.0 L172.7,292.0 L173.4,292.0 L174.1,292.0 L174.8,292.0 L175.5,292.0 L176.2,292.0 L176.9,292.0 L177.6,292.0 L178.3,292.0 L179.0,292.0 L179.7,292.0 L180.4,292.0 L181.1,292.0 L181.8,292.0 L181.8,292.0 Z" fill="#F2D9C4" stroke="#E2C0A2" stroke-width="0.45" stroke-linejoin="round" fill-opacity="0.9"/>
<line x1="103.60" y1="303.10" x2="182.30" y2="303.10" stroke="#9CC2DE" stroke-width="0.8" />
<path d="M104.1,303.1 L104.1,302.9 L104.8,302.8 L105.5,302.8 L106.2,302.8 L106.9,302.7 L107.6,302.7 L108.3,302.6 L109.0,302.6 L109.7,302.3 L110.4,302.3 L111.1,302.1 L111.8,301.7 L112.5,301.6 L113.2,301.1 L113.9,299.7 L114.6,295.9 L115.3,289.1 L116.0,285.2 L116.7,285.4 L117.4,285.7 L118.1,287.6 L118.8,289.3 L119.5,291.2 L120.2,292.4 L120.9,293.2 L121.6,294.6 L122.3,295.5 L123.0,296.6 L123.7,297.1 L124.4,298.1 L125.1,298.6 L125.8,298.7 L126.5,298.9 L127.2,299.3 L127.9,299.9 L128.6,300.1 L129.3,300.3 L130.0,300.5 L130.7,300.3 L131.4,300.6 L132.1,300.5 L132.8,300.4 L133.5,300.8 L134.2,300.8 L134.9,300.8 L135.6,301.0 L136.3,300.9 L137.0,300.7 L137.7,300.9 L138.4,300.8 L139.1,301.0 L139.8,300.9 L140.5,300.7 L141.2,300.9 L141.9,301.2 L142.6,301.3 L143.3,301.1 L144.0,301.3 L144.7,301.4 L145.4,301.3 L146.1,301.1 L146.8,301.2 L147.5,301.3 L148.2,301.3 L148.9,301.6 L149.6,301.5 L150.3,301.7 L151.0,301.6 L151.7,301.5 L152.4,301.8 L153.1,301.8 L153.8,301.8 L154.5,302.0 L155.2,302.0 L155.9,301.7 L156.6,301.4 L157.3,301.4 L158.0,300.9 L158.7,300.4 L159.4,300.4 L160.1,300.3 L160.8,300.8 L161.5,301.1 L162.2,301.4 L162.9,301.8 L163.6,302.1 L164.3,302.5 L165.0,302.7 L165.7,302.6 L166.4,302.8 L167.1,302.8 L167.8,302.8 L168.5,302.8 L169.2,302.9 L169.9,302.9 L170.6,302.9 L171.3,302.9 L172.0,302.9 L172.7,303.0 L173.4,303.0 L174.1,303.0 L174.8,303.0 L175.5,303.0 L176.2,303.0 L176.9,303.0 L177.6,303.0 L178.3,303.0 L179.0,303.1 L179.7,303.1 L180.4,303.1 L181.1,303.1 L181.8,303.1 L181.8,303.1 Z" fill="#98C9EC" stroke="#66ABDD" stroke-width="0.45" stroke-linejoin="round" fill-opacity="0.9"/>
<line x1="103.60" y1="314.20" x2="182.30" y2="314.20" stroke="#CFE2F0" stroke-width="0.8" />
<path d="M104.1,314.2 L104.1,314.2 L104.8,314.2 L105.5,314.2 L106.2,314.2 L106.9,314.2 L107.6,314.2 L108.3,314.2 L109.0,314.2 L109.7,314.2 L110.4,314.2 L111.1,314.2 L111.8,314.2 L112.5,314.2 L113.2,314.2 L113.9,314.2 L114.6,314.2 L115.3,314.2 L116.0,314.2 L116.7,314.2 L117.4,314.2 L118.1,314.2 L118.8,314.2 L119.5,314.2 L120.2,314.2 L120.9,314.2 L121.6,314.2 L122.3,314.2 L123.0,314.2 L123.7,314.2 L124.4,314.2 L125.1,314.2 L125.8,314.2 L126.5,314.2 L127.2,314.2 L127.9,314.2 L128.6,314.1 L129.3,314.1 L130.0,314.1 L130.7,314.0 L131.4,314.0 L132.1,313.9 L132.8,313.8 L133.5,313.7 L134.2,313.6 L134.9,313.4 L135.6,313.4 L136.3,313.1 L137.0,312.9 L137.7,312.7 L138.4,312.7 L139.1,312.5 L139.8,312.4 L140.5,312.3 L141.2,311.8 L141.9,311.5 L142.6,311.6 L143.3,311.2 L144.0,310.9 L144.7,310.8 L145.4,310.6 L146.1,310.2 L146.8,309.9 L147.5,309.5 L148.2,309.1 L148.9,309.2 L149.6,308.7 L150.3,308.1 L151.0,307.7 L151.7,307.5 L152.4,307.6 L153.1,307.4 L153.8,306.7 L154.5,304.8 L155.2,303.8 L155.9,302.5 L156.6,300.3 L157.3,299.3 L158.0,298.0 L158.7,297.4 L159.4,297.9 L160.1,297.8 L160.8,298.9 L161.5,302.5 L162.2,305.8 L162.9,308.6 L163.6,311.0 L164.3,312.4 L165.0,313.2 L165.7,313.7 L166.4,314.0 L167.1,314.1 L167.8,314.2 L168.5,314.2 L169.2,314.2 L169.9,314.2 L170.6,314.2 L171.3,314.2 L172.0,314.2 L172.7,314.2 L173.4,314.2 L174.1,314.2 L174.8,314.2 L175.5,314.2 L176.2,314.2 L176.9,314.2 L177.6,314.2 L178.3,314.2 L179.0,314.2 L179.7,314.2 L180.4,314.2 L181.1,314.2 L181.8,314.2 L181.8,314.2 Z" fill="#C6E1F4" stroke="#9CC8EA" stroke-width="0.45" stroke-linejoin="round" fill-opacity="0.9"/>
<line x1="103.60" y1="325.30" x2="182.30" y2="325.30" stroke="#7E808C" stroke-width="0.8" />
<path d="M104.1,325.3 L104.1,325.3 L104.8,325.3 L105.5,325.3 L106.2,325.3 L106.9,325.3 L107.6,325.3 L108.3,325.3 L109.0,325.3 L109.7,325.3 L110.4,325.2 L111.1,325.2 L111.8,325.1 L112.5,325.0 L113.2,324.9 L113.9,324.7 L114.6,324.4 L115.3,324.2 L116.0,324.1 L116.7,323.9 L117.4,323.9 L118.1,323.8 L118.8,323.8 L119.5,323.8 L120.2,324.1 L120.9,324.2 L121.6,324.3 L122.3,324.1 L123.0,323.9 L123.7,324.0 L124.4,323.5 L125.1,323.1 L125.8,323.0 L126.5,322.9 L127.2,323.2 L127.9,323.4 L128.6,323.4 L129.3,323.8 L130.0,324.0 L130.7,324.2 L131.4,324.4 L132.1,324.2 L132.8,324.1 L133.5,323.7 L134.2,323.4 L134.9,323.1 L135.6,322.8 L136.3,322.5 L137.0,322.5 L137.7,322.6 L138.4,322.4 L139.1,322.5 L139.8,322.7 L140.5,323.0 L141.2,323.3 L141.9,323.5 L142.6,323.6 L143.3,323.7 L144.0,323.4 L144.7,323.4 L145.4,323.1 L146.1,323.3 L146.8,323.1 L147.5,323.2 L148.2,323.7 L148.9,323.9 L149.6,323.9 L150.3,324.2 L151.0,324.2 L151.7,324.5 L152.4,324.8 L153.1,324.9 L153.8,325.0 L154.5,325.1 L155.2,325.1 L155.9,325.0 L156.6,324.5 L157.3,323.9 L158.0,322.8 L158.7,321.1 L159.4,318.8 L160.1,317.3 L160.8,317.3 L161.5,317.7 L162.2,318.8 L162.9,319.6 L163.6,319.3 L164.3,319.0 L165.0,317.6 L165.7,316.2 L166.4,315.0 L167.1,313.3 L167.8,313.0 L168.5,312.3 L169.2,313.4 L169.9,314.6 L170.6,316.7 L171.3,318.7 L172.0,320.1 L172.7,321.8 L173.4,323.2 L174.1,324.0 L174.8,324.7 L175.5,325.0 L176.2,325.2 L176.9,325.2 L177.6,325.3 L178.3,325.3 L179.0,325.3 L179.7,325.3 L180.4,325.3 L181.1,325.3 L181.8,325.3 L181.8,325.3 Z" fill="#85899C" stroke="#585C70" stroke-width="0.45" stroke-linejoin="round" fill-opacity="0.9"/>
<line x1="103.60" y1="336.40" x2="182.30" y2="336.40" stroke="#C8C8CE" stroke-width="0.8" />
<path d="M104.1,336.4 L104.1,336.4 L104.8,336.4 L105.5,336.4 L106.2,336.4 L106.9,336.4 L107.6,336.4 L108.3,336.4 L109.0,336.4 L109.7,336.4 L110.4,336.4 L111.1,336.4 L111.8,336.4 L112.5,336.4 L113.2,336.4 L113.9,336.4 L114.6,336.4 L115.3,336.4 L116.0,336.4 L116.7,336.4 L117.4,336.4 L118.1,336.4 L118.8,336.4 L119.5,336.4 L120.2,336.4 L120.9,336.4 L121.6,336.4 L122.3,336.4 L123.0,336.4 L123.7,336.4 L124.4,336.4 L125.1,336.4 L125.8,336.4 L126.5,336.4 L127.2,336.4 L127.9,336.4 L128.6,336.4 L129.3,336.4 L130.0,336.4 L130.7,336.4 L131.4,336.4 L132.1,336.4 L132.8,336.4 L133.5,336.4 L134.2,336.4 L134.9,336.4 L135.6,336.4 L136.3,336.4 L137.0,336.3 L137.7,336.3 L138.4,336.3 L139.1,336.2 L139.8,336.1 L140.5,336.1 L141.2,336.0 L141.9,335.8 L142.6,335.6 L143.3,335.6 L144.0,335.6 L144.7,335.4 L145.4,335.2 L146.1,334.8 L146.8,334.5 L147.5,334.2 L148.2,333.9 L148.9,333.6 L149.6,333.4 L150.3,332.9 L151.0,332.5 L151.7,331.4 L152.4,331.0 L153.1,329.6 L153.8,328.9 L154.5,327.2 L155.2,326.0 L155.9,324.6 L156.6,322.5 L157.3,322.1 L158.0,321.4 L158.7,319.2 L159.4,318.7 L160.1,319.3 L160.8,318.5 L161.5,319.3 L162.2,322.4 L162.9,324.8 L163.6,327.6 L164.3,329.8 L165.0,331.6 L165.7,333.3 L166.4,334.3 L167.1,335.3 L167.8,335.9 L168.5,336.0 L169.2,336.2 L169.9,336.3 L170.6,336.4 L171.3,336.4 L172.0,336.4 L172.7,336.4 L173.4,336.4 L174.1,336.4 L174.8,336.4 L175.5,336.4 L176.2,336.4 L176.9,336.4 L177.6,336.4 L178.3,336.4 L179.0,336.4 L179.7,336.4 L180.4,336.4 L181.1,336.4 L181.8,336.4 L181.8,336.4 Z" fill="#ADAEBA" stroke="#8E8F9C" stroke-width="0.45" stroke-linejoin="round" fill-opacity="0.9"/>
<line x1="157.30" y1="257.40" x2="157.30" y2="336.40" stroke="#666" stroke-width="1.0" />
<rect x="103.60" y="257.40" width="78.70" height="79.00" fill="none" stroke="#111" stroke-width="1.0" rx="0" />
<line x1="117.50" y1="336.40" x2="117.50" y2="338.40" stroke="#222" stroke-width="0.6" />
<text x="0" y="0" font-size="6.55" text-anchor="middle" fill="#222" stroke="#222" stroke-width="0.15" dominant-baseline="central" transform="translate(117.50 345.50) scale(0.8850 1)">10<tspan font-size="3.93" dy="-2.29">3</tspan></text>
<line x1="144.30" y1="336.40" x2="144.30" y2="338.40" stroke="#222" stroke-width="0.6" />
<text x="0" y="0" font-size="6.55" text-anchor="middle" fill="#222" stroke="#222" stroke-width="0.15" dominant-baseline="central" transform="translate(144.30 345.50) scale(0.8850 1)">10<tspan font-size="3.93" dy="-2.29">4</tspan></text>
<line x1="170.50" y1="336.40" x2="170.50" y2="338.40" stroke="#222" stroke-width="0.6" />
<text x="0" y="0" font-size="6.55" text-anchor="middle" fill="#222" stroke="#222" stroke-width="0.15" dominant-baseline="central" transform="translate(170.50 345.50) scale(0.8850 1)">10<tspan font-size="3.93" dy="-2.29">5</tspan></text>
<line x1="103.64" y1="336.40" x2="103.64" y2="337.50" stroke="#222" stroke-width="0.4" />
<line x1="106.95" y1="336.40" x2="106.95" y2="337.50" stroke="#222" stroke-width="0.4" />
<line x1="109.52" y1="336.40" x2="109.52" y2="337.50" stroke="#222" stroke-width="0.4" />
<line x1="111.62" y1="336.40" x2="111.62" y2="337.50" stroke="#222" stroke-width="0.4" />
<line x1="113.40" y1="336.40" x2="113.40" y2="337.50" stroke="#222" stroke-width="0.4" />
<line x1="114.93" y1="336.40" x2="114.93" y2="337.50" stroke="#222" stroke-width="0.4" />
<line x1="116.29" y1="336.40" x2="116.29" y2="337.50" stroke="#222" stroke-width="0.4" />
<line x1="125.48" y1="336.40" x2="125.48" y2="337.50" stroke="#222" stroke-width="0.4" />
<line x1="130.14" y1="336.40" x2="130.14" y2="337.50" stroke="#222" stroke-width="0.4" />
<line x1="133.45" y1="336.40" x2="133.45" y2="337.50" stroke="#222" stroke-width="0.4" />
<line x1="136.02" y1="336.40" x2="136.02" y2="337.50" stroke="#222" stroke-width="0.4" />
<line x1="138.12" y1="336.40" x2="138.12" y2="337.50" stroke="#222" stroke-width="0.4" />
<line x1="139.90" y1="336.40" x2="139.90" y2="337.50" stroke="#222" stroke-width="0.4" />
<line x1="141.43" y1="336.40" x2="141.43" y2="337.50" stroke="#222" stroke-width="0.4" />
<line x1="142.79" y1="336.40" x2="142.79" y2="337.50" stroke="#222" stroke-width="0.4" />
<line x1="151.98" y1="336.40" x2="151.98" y2="337.50" stroke="#222" stroke-width="0.4" />
<line x1="156.64" y1="336.40" x2="156.64" y2="337.50" stroke="#222" stroke-width="0.4" />
<line x1="159.95" y1="336.40" x2="159.95" y2="337.50" stroke="#222" stroke-width="0.4" />
<line x1="162.52" y1="336.40" x2="162.52" y2="337.50" stroke="#222" stroke-width="0.4" />
<line x1="164.62" y1="336.40" x2="164.62" y2="337.50" stroke="#222" stroke-width="0.4" />
<line x1="166.40" y1="336.40" x2="166.40" y2="337.50" stroke="#222" stroke-width="0.4" />
<line x1="167.93" y1="336.40" x2="167.93" y2="337.50" stroke="#222" stroke-width="0.4" />
<line x1="169.29" y1="336.40" x2="169.29" y2="337.50" stroke="#222" stroke-width="0.4" />
<line x1="178.48" y1="336.40" x2="178.48" y2="337.50" stroke="#222" stroke-width="0.4" />
<text x="0" y="0" font-size="6.33" text-anchor="start" fill="#333" stroke="#333" stroke-width="0.15" textLength="18.08" lengthAdjust="spacingAndGlyphs" transform="translate(187.40 265.80) scale(0.8850 1)" dominant-baseline="central" >Tumor</text>
<line x1="194.10" y1="274.30" x2="196.70" y2="274.30" stroke="#C09060" stroke-width="0.7" />
<line x1="195.40" y1="273.00" x2="195.40" y2="275.60" stroke="#C09060" stroke-width="0.7" />
<line x1="194.10" y1="285.90" x2="196.70" y2="285.90" stroke="#D0B8A0" stroke-width="0.7" />
<line x1="194.10" y1="297.50" x2="196.70" y2="297.50" stroke="#5A98CC" stroke-width="0.7" />
<line x1="195.40" y1="296.20" x2="195.40" y2="298.80" stroke="#5A98CC" stroke-width="0.7" />
<line x1="194.10" y1="309.10" x2="196.70" y2="309.10" stroke="#A0C4E0" stroke-width="0.7" />
<line x1="194.10" y1="320.70" x2="196.70" y2="320.70" stroke="#4a4e5a" stroke-width="0.7" />
<line x1="195.40" y1="319.40" x2="195.40" y2="322.00" stroke="#4a4e5a" stroke-width="0.7" />
<line x1="194.10" y1="332.30" x2="196.70" y2="332.30" stroke="#9a9aa2" stroke-width="0.7" />
<line x1="103.60" y1="390.00" x2="182.30" y2="390.00" stroke="#CDB8A0" stroke-width="0.8" />
<path d="M104.1,390.0 L104.1,389.9 L104.8,389.9 L105.5,389.9 L106.2,389.9 L106.9,389.8 L107.6,389.8 L108.3,389.8 L109.0,389.7 L109.7,389.6 L110.4,389.6 L111.1,389.4 L111.8,389.2 L112.5,388.9 L113.2,388.8 L113.9,388.3 L114.6,386.8 L115.3,382.5 L116.0,376.3 L116.7,375.2 L117.4,374.5 L118.1,374.7 L118.8,374.8 L119.5,374.9 L120.2,374.6 L120.9,375.2 L121.6,376.9 L122.3,377.7 L123.0,378.7 L123.7,378.7 L124.4,379.2 L125.1,379.9 L125.8,380.6 L126.5,381.4 L127.2,381.8 L127.9,382.4 L128.6,383.3 L129.3,383.4 L130.0,383.9 L130.7,384.0 L131.4,384.4 L132.1,384.7 L132.8,385.0 L133.5,385.2 L134.2,385.5 L134.9,385.8 L135.6,385.6 L136.3,385.6 L137.0,385.6 L137.7,385.9 L138.4,386.2 L139.1,386.3 L139.8,386.8 L140.5,386.8 L141.2,386.9 L141.9,387.2 L142.6,387.4 L143.3,387.4 L144.0,387.6 L144.7,387.6 L145.4,387.6 L146.1,387.7 L146.8,387.9 L147.5,387.9 L148.2,388.0 L148.9,388.2 L149.6,388.3 L150.3,388.3 L151.0,388.4 L151.7,388.3 L152.4,388.2 L153.1,388.3 L153.8,388.3 L154.5,388.3 L155.2,388.6 L155.9,388.8 L156.6,388.6 L157.3,388.5 L158.0,388.4 L158.7,388.4 L159.4,388.1 L160.1,387.7 L160.8,387.5 L161.5,387.5 L162.2,387.9 L162.9,388.1 L163.6,388.6 L164.3,388.9 L165.0,389.3 L165.7,389.3 L166.4,389.5 L167.1,389.6 L167.8,389.7 L168.5,389.7 L169.2,389.7 L169.9,389.8 L170.6,389.8 L171.3,389.8 L172.0,389.8 L172.7,389.9 L173.4,389.9 L174.1,389.9 L174.8,389.9 L175.5,389.9 L176.2,389.9 L176.9,389.9 L177.6,390.0 L178.3,390.0 L179.0,390.0 L179.7,390.0 L180.4,390.0 L181.1,390.0 L181.8,390.0 L181.8,390.0 Z" fill="#E4B68F" stroke="#CF9966" stroke-width="0.45" stroke-linejoin="round" fill-opacity="0.9"/>
<line x1="103.60" y1="401.10" x2="182.30" y2="401.10" stroke="#E6D8CA" stroke-width="0.8" />
<path d="M104.1,401.1 L104.1,401.1 L104.8,401.1 L105.5,401.1 L106.2,401.1 L106.9,401.1 L107.6,401.1 L108.3,401.1 L109.0,401.1 L109.7,401.1 L110.4,401.1 L111.1,401.1 L111.8,401.1 L112.5,401.1 L113.2,401.1 L113.9,401.1 L114.6,401.1 L115.3,401.1 L116.0,401.1 L116.7,401.1 L117.4,401.1 L118.1,401.1 L118.8,401.1 L119.5,401.1 L120.2,401.1 L120.9,401.1 L121.6,401.1 L122.3,401.1 L123.0,401.1 L123.7,401.1 L124.4,401.1 L125.1,401.1 L125.8,401.1 L126.5,401.1 L127.2,401.1 L127.9,401.1 L128.6,401.1 L129.3,401.1 L130.0,401.1 L130.7,401.1 L131.4,401.1 L132.1,401.1 L132.8,401.1 L133.5,401.0 L134.2,401.0 L134.9,400.9 L135.6,400.9 L136.3,400.8 L137.0,400.8 L137.7,400.5 L138.4,400.3 L139.1,400.0 L139.8,399.9 L140.5,399.8 L141.2,399.5 L141.9,399.3 L142.6,399.3 L143.3,399.1 L144.0,399.1 L144.7,398.9 L145.4,399.1 L146.1,399.0 L146.8,398.4 L147.5,397.9 L148.2,397.4 L148.9,396.4 L149.6,395.9 L150.3,396.2 L151.0,396.5 L151.7,397.2 L152.4,398.3 L153.1,398.8 L153.8,399.2 L154.5,398.9 L155.2,398.5 L155.9,397.8 L156.6,396.8 L157.3,396.5 L158.0,395.7 L158.7,395.1 L159.4,393.6 L160.1,390.9 L160.8,388.2 L161.5,386.8 L162.2,385.5 L162.9,386.0 L163.6,388.9 L164.3,392.3 L165.0,394.8 L165.7,397.4 L166.4,399.3 L167.1,400.3 L167.8,400.7 L168.5,401.0 L169.2,401.1 L169.9,401.1 L170.6,401.1 L171.3,401.1 L172.0,401.1 L172.7,401.1 L173.4,401.1 L174.1,401.1 L174.8,401.1 L175.5,401.1 L176.2,401.1 L176.9,401.1 L177.6,401.1 L178.3,401.1 L179.0,401.1 L179.7,401.1 L180.4,401.1 L181.1,401.1 L181.8,401.1 L181.8,401.1 Z" fill="#F2D9C4" stroke="#E2C0A2" stroke-width="0.45" stroke-linejoin="round" fill-opacity="0.9"/>
<line x1="103.60" y1="412.20" x2="182.30" y2="412.20" stroke="#9CC2DE" stroke-width="0.8" />
<path d="M104.1,412.2 L104.1,412.1 L104.8,412.1 L105.5,412.1 L106.2,412.0 L106.9,412.0 L107.6,411.9 L108.3,411.9 L109.0,411.6 L109.7,411.7 L110.4,411.4 L111.1,411.3 L111.8,410.9 L112.5,410.8 L113.2,410.1 L113.9,408.6 L114.6,403.8 L115.3,395.9 L116.0,393.5 L116.7,393.9 L117.4,394.2 L118.1,396.1 L118.8,398.0 L119.5,399.9 L120.2,400.8 L120.9,401.9 L121.6,403.1 L122.3,404.5 L123.0,404.9 L123.7,405.6 L124.4,406.3 L125.1,406.7 L125.8,407.0 L126.5,407.5 L127.2,407.6 L127.9,407.9 L128.6,408.0 L129.3,407.9 L130.0,408.1 L130.7,408.4 L131.4,408.3 L132.1,408.3 L132.8,408.5 L133.5,408.4 L134.2,408.9 L134.9,409.1 L135.6,409.2 L136.3,408.9 L137.0,408.8 L137.7,408.8 L138.4,409.1 L139.1,409.2 L139.8,409.0 L140.5,409.4 L141.2,409.6 L141.9,409.7 L142.6,409.7 L143.3,409.5 L144.0,409.6 L144.7,409.7 L145.4,409.8 L146.1,410.0 L146.8,409.8 L147.5,410.0 L148.2,410.2 L148.9,410.2 L149.6,410.1 L150.3,410.3 L151.0,410.1 L151.7,410.3 L152.4,410.4 L153.1,410.6 L153.8,410.4 L154.5,410.4 L155.2,410.6 L155.9,410.8 L156.6,410.8 L157.3,410.9 L158.0,410.8 L158.7,410.7 L159.4,410.8 L160.1,411.0 L160.8,411.2 L161.5,411.0 L162.2,411.0 L162.9,411.2 L163.6,411.3 L164.3,411.3 L165.0,411.2 L165.7,411.5 L166.4,411.6 L167.1,411.5 L167.8,411.5 L168.5,411.6 L169.2,411.5 L169.9,411.6 L170.6,411.6 L171.3,411.8 L172.0,411.9 L172.7,412.0 L173.4,411.8 L174.1,411.9 L174.8,411.9 L175.5,411.9 L176.2,411.9 L176.9,412.0 L177.6,412.0 L178.3,412.0 L179.0,412.0 L179.7,412.0 L180.4,412.1 L181.1,412.1 L181.8,412.1 L181.8,412.2 Z" fill="#98C9EC" stroke="#66ABDD" stroke-width="0.45" stroke-linejoin="round" fill-opacity="0.9"/>
<line x1="103.60" y1="423.30" x2="182.30" y2="423.30" stroke="#CFE2F0" stroke-width="0.8" />
<path d="M104.1,423.3 L104.1,423.3 L104.8,423.3 L105.5,423.3 L106.2,423.3 L106.9,423.3 L107.6,423.3 L108.3,423.3 L109.0,423.3 L109.7,423.3 L110.4,423.3 L111.1,423.3 L111.8,423.3 L112.5,423.3 L113.2,423.3 L113.9,423.3 L114.6,423.3 L115.3,423.3 L116.0,423.3 L116.7,423.3 L117.4,423.3 L118.1,423.3 L118.8,423.3 L119.5,423.3 L120.2,423.3 L120.9,423.3 L121.6,423.3 L122.3,423.3 L123.0,423.3 L123.7,423.3 L124.4,423.3 L125.1,423.3 L125.8,423.3 L126.5,423.3 L127.2,423.3 L127.9,423.3 L128.6,423.2 L129.3,423.2 L130.0,423.2 L130.7,423.1 L131.4,423.1 L132.1,423.0 L132.8,422.9 L133.5,422.8 L134.2,422.7 L134.9,422.6 L135.6,422.5 L136.3,422.3 L137.0,422.1 L137.7,422.0 L138.4,421.8 L139.1,421.8 L139.8,421.6 L140.5,421.4 L141.2,421.3 L141.9,420.9 L142.6,420.8 L143.3,420.3 L144.0,419.9 L144.7,419.9 L145.4,419.4 L146.1,419.0 L146.8,418.7 L147.5,418.9 L148.2,418.5 L148.9,418.1 L149.6,418.0 L150.3,417.9 L151.0,417.7 L151.7,417.4 L152.4,416.6 L153.1,416.1 L153.8,415.4 L154.5,414.1 L155.2,412.4 L155.9,411.5 L156.6,410.8 L157.3,408.4 L158.0,406.9 L158.7,406.0 L159.4,406.1 L160.1,407.3 L160.8,409.4 L161.5,411.9 L162.2,414.6 L162.9,417.6 L163.6,419.5 L164.3,421.0 L165.0,422.3 L165.7,422.7 L166.4,423.0 L167.1,423.2 L167.8,423.3 L168.5,423.3 L169.2,423.3 L169.9,423.3 L170.6,423.3 L171.3,423.3 L172.0,423.3 L172.7,423.3 L173.4,423.3 L174.1,423.3 L174.8,423.3 L175.5,423.3 L176.2,423.3 L176.9,423.3 L177.6,423.3 L178.3,423.3 L179.0,423.3 L179.7,423.3 L180.4,423.3 L181.1,423.3 L181.8,423.3 L181.8,423.3 Z" fill="#C6E1F4" stroke="#9CC8EA" stroke-width="0.45" stroke-linejoin="round" fill-opacity="0.9"/>
<line x1="103.60" y1="434.40" x2="182.30" y2="434.40" stroke="#7E808C" stroke-width="0.8" />
<path d="M104.1,434.4 L104.1,434.0 L104.8,433.9 L105.5,433.7 L106.2,433.9 L106.9,433.8 L107.6,433.7 L108.3,433.7 L109.0,433.8 L109.7,433.9 L110.4,433.8 L111.1,433.6 L111.8,433.7 L112.5,433.6 L113.2,433.6 L113.9,433.4 L114.6,433.3 L115.3,433.4 L116.0,433.3 L116.7,433.5 L117.4,433.3 L118.1,433.2 L118.8,433.4 L119.5,433.3 L120.2,433.4 L120.9,433.2 L121.6,433.4 L122.3,433.4 L123.0,433.3 L123.7,433.3 L124.4,433.5 L125.1,433.6 L125.8,433.4 L126.5,433.5 L127.2,433.4 L127.9,433.6 L128.6,433.5 L129.3,433.5 L130.0,433.5 L130.7,433.8 L131.4,433.8 L132.1,434.0 L132.8,433.8 L133.5,433.9 L134.2,433.8 L134.9,433.9 L135.6,433.9 L136.3,434.0 L137.0,434.0 L137.7,434.1 L138.4,434.1 L139.1,434.1 L139.8,434.1 L140.5,434.1 L141.2,434.1 L141.9,433.8 L142.6,433.9 L143.3,433.7 L144.0,433.3 L144.7,433.1 L145.4,432.8 L146.1,432.6 L146.8,432.1 L147.5,432.0 L148.2,431.8 L148.9,431.8 L149.6,431.8 L150.3,432.1 L151.0,432.1 L151.7,432.0 L152.4,432.2 L153.1,432.1 L153.8,431.6 L154.5,431.3 L155.2,431.0 L155.9,430.8 L156.6,429.9 L157.3,429.5 L158.0,428.9 L158.7,428.5 L159.4,427.8 L160.1,427.2 L160.8,427.0 L161.5,427.0 L162.2,425.8 L162.9,424.9 L163.6,424.8 L164.3,423.4 L165.0,421.8 L165.7,420.5 L166.4,418.6 L167.1,416.8 L167.8,416.4 L168.5,416.7 L169.2,418.2 L169.9,420.2 L170.6,422.9 L171.3,425.7 L172.0,428.2 L172.7,429.9 L173.4,431.6 L174.1,432.7 L174.8,433.4 L175.5,433.8 L176.2,434.2 L176.9,434.3 L177.6,434.4 L178.3,434.4 L179.0,434.4 L179.7,434.4 L180.4,434.4 L181.1,434.4 L181.8,434.4 L181.8,434.4 Z" fill="#85899C" stroke="#585C70" stroke-width="0.45" stroke-linejoin="round" fill-opacity="0.9"/>
<line x1="103.60" y1="445.50" x2="182.30" y2="445.50" stroke="#C8C8CE" stroke-width="0.8" />
<path d="M104.1,445.5 L104.1,445.5 L104.8,445.5 L105.5,445.5 L106.2,445.5 L106.9,445.5 L107.6,445.5 L108.3,445.5 L109.0,445.5 L109.7,445.5 L110.4,445.5 L111.1,445.5 L111.8,445.5 L112.5,445.5 L113.2,445.5 L113.9,445.5 L114.6,445.5 L115.3,445.5 L116.0,445.5 L116.7,445.5 L117.4,445.5 L118.1,445.5 L118.8,445.5 L119.5,445.5 L120.2,445.5 L120.9,445.5 L121.6,445.5 L122.3,445.5 L123.0,445.5 L123.7,445.5 L124.4,445.5 L125.1,445.5 L125.8,445.5 L126.5,445.5 L127.2,445.5 L127.9,445.5 L128.6,445.5 L129.3,445.5 L130.0,445.5 L130.7,445.5 L131.4,445.5 L132.1,445.5 L132.8,445.5 L133.5,445.5 L134.2,445.5 L134.9,445.5 L135.6,445.5 L136.3,445.5 L137.0,445.5 L137.7,445.4 L138.4,445.4 L139.1,445.4 L139.8,445.3 L140.5,445.3 L141.2,445.2 L141.9,445.1 L142.6,445.1 L143.3,444.9 L144.0,444.8 L144.7,444.7 L145.4,444.5 L146.1,444.3 L146.8,444.1 L147.5,443.9 L148.2,443.8 L148.9,443.6 L149.6,443.2 L150.3,443.0 L151.0,442.5 L151.7,441.9 L152.4,441.2 L153.1,440.3 L153.8,439.8 L154.5,439.0 L155.2,437.3 L155.9,435.8 L156.6,434.7 L157.3,432.8 L158.0,430.8 L158.7,429.3 L159.4,429.3 L160.1,429.1 L160.8,429.8 L161.5,429.3 L162.2,431.6 L162.9,433.4 L163.6,436.0 L164.3,438.4 L165.0,440.6 L165.7,442.1 L166.4,443.4 L167.1,444.4 L167.8,445.0 L168.5,445.2 L169.2,445.3 L169.9,445.4 L170.6,445.5 L171.3,445.5 L172.0,445.5 L172.7,445.5 L173.4,445.5 L174.1,445.5 L174.8,445.5 L175.5,445.5 L176.2,445.5 L176.9,445.5 L177.6,445.5 L178.3,445.5 L179.0,445.5 L179.7,445.5 L180.4,445.5 L181.1,445.5 L181.8,445.5 L181.8,445.5 Z" fill="#ADAEBA" stroke="#8E8F9C" stroke-width="0.45" stroke-linejoin="round" fill-opacity="0.9"/>
<line x1="157.90" y1="366.90" x2="157.90" y2="445.50" stroke="#666" stroke-width="1.0" />
<rect x="103.60" y="366.90" width="78.70" height="78.60" fill="none" stroke="#111" stroke-width="1.0" rx="0" />
<line x1="117.50" y1="445.50" x2="117.50" y2="447.50" stroke="#222" stroke-width="0.6" />
<text x="0" y="0" font-size="6.55" text-anchor="middle" fill="#222" stroke="#222" stroke-width="0.15" dominant-baseline="central" transform="translate(117.50 455.00) scale(0.8850 1)">10<tspan font-size="3.93" dy="-2.29">3</tspan></text>
<line x1="145.00" y1="445.50" x2="145.00" y2="447.50" stroke="#222" stroke-width="0.6" />
<text x="0" y="0" font-size="6.55" text-anchor="middle" fill="#222" stroke="#222" stroke-width="0.15" dominant-baseline="central" transform="translate(145.00 455.00) scale(0.8850 1)">10<tspan font-size="3.93" dy="-2.29">4</tspan></text>
<line x1="170.50" y1="445.50" x2="170.50" y2="447.50" stroke="#222" stroke-width="0.6" />
<text x="0" y="0" font-size="6.55" text-anchor="middle" fill="#222" stroke="#222" stroke-width="0.15" dominant-baseline="central" transform="translate(170.50 455.00) scale(0.8850 1)">10<tspan font-size="3.93" dy="-2.29">5</tspan></text>
<line x1="103.64" y1="445.50" x2="103.64" y2="446.60" stroke="#222" stroke-width="0.4" />
<line x1="106.95" y1="445.50" x2="106.95" y2="446.60" stroke="#222" stroke-width="0.4" />
<line x1="109.52" y1="445.50" x2="109.52" y2="446.60" stroke="#222" stroke-width="0.4" />
<line x1="111.62" y1="445.50" x2="111.62" y2="446.60" stroke="#222" stroke-width="0.4" />
<line x1="113.40" y1="445.50" x2="113.40" y2="446.60" stroke="#222" stroke-width="0.4" />
<line x1="114.93" y1="445.50" x2="114.93" y2="446.60" stroke="#222" stroke-width="0.4" />
<line x1="116.29" y1="445.50" x2="116.29" y2="446.60" stroke="#222" stroke-width="0.4" />
<line x1="125.48" y1="445.50" x2="125.48" y2="446.60" stroke="#222" stroke-width="0.4" />
<line x1="130.14" y1="445.50" x2="130.14" y2="446.60" stroke="#222" stroke-width="0.4" />
<line x1="133.45" y1="445.50" x2="133.45" y2="446.60" stroke="#222" stroke-width="0.4" />
<line x1="136.02" y1="445.50" x2="136.02" y2="446.60" stroke="#222" stroke-width="0.4" />
<line x1="138.12" y1="445.50" x2="138.12" y2="446.60" stroke="#222" stroke-width="0.4" />
<line x1="139.90" y1="445.50" x2="139.90" y2="446.60" stroke="#222" stroke-width="0.4" />
<line x1="141.43" y1="445.50" x2="141.43" y2="446.60" stroke="#222" stroke-width="0.4" />
<line x1="142.79" y1="445.50" x2="142.79" y2="446.60" stroke="#222" stroke-width="0.4" />
<line x1="151.98" y1="445.50" x2="151.98" y2="446.60" stroke="#222" stroke-width="0.4" />
<line x1="156.64" y1="445.50" x2="156.64" y2="446.60" stroke="#222" stroke-width="0.4" />
<line x1="159.95" y1="445.50" x2="159.95" y2="446.60" stroke="#222" stroke-width="0.4" />
<line x1="162.52" y1="445.50" x2="162.52" y2="446.60" stroke="#222" stroke-width="0.4" />
<line x1="164.62" y1="445.50" x2="164.62" y2="446.60" stroke="#222" stroke-width="0.4" />
<line x1="166.40" y1="445.50" x2="166.40" y2="446.60" stroke="#222" stroke-width="0.4" />
<line x1="167.93" y1="445.50" x2="167.93" y2="446.60" stroke="#222" stroke-width="0.4" />
<line x1="169.29" y1="445.50" x2="169.29" y2="446.60" stroke="#222" stroke-width="0.4" />
<line x1="178.48" y1="445.50" x2="178.48" y2="446.60" stroke="#222" stroke-width="0.4" />
<text x="0" y="0" font-size="6.33" text-anchor="start" fill="#333" stroke="#333" stroke-width="0.15" textLength="18.08" lengthAdjust="spacingAndGlyphs" transform="translate(187.40 375.00) scale(0.8850 1)" dominant-baseline="central" >Tumor</text>
<line x1="194.10" y1="382.50" x2="196.70" y2="382.50" stroke="#C09060" stroke-width="0.7" />
<line x1="195.40" y1="381.20" x2="195.40" y2="383.80" stroke="#C09060" stroke-width="0.7" />
<line x1="194.10" y1="394.10" x2="196.70" y2="394.10" stroke="#D0B8A0" stroke-width="0.7" />
<line x1="194.10" y1="405.70" x2="196.70" y2="405.70" stroke="#5A98CC" stroke-width="0.7" />
<line x1="195.40" y1="404.40" x2="195.40" y2="407.00" stroke="#5A98CC" stroke-width="0.7" />
<line x1="194.10" y1="417.30" x2="196.70" y2="417.30" stroke="#A0C4E0" stroke-width="0.7" />
<line x1="194.10" y1="428.90" x2="196.70" y2="428.90" stroke="#4a4e5a" stroke-width="0.7" />
<line x1="195.40" y1="427.60" x2="195.40" y2="430.20" stroke="#4a4e5a" stroke-width="0.7" />
<line x1="194.10" y1="440.50" x2="196.70" y2="440.50" stroke="#9a9aa2" stroke-width="0.7" />
<line x1="104.00" y1="492.70" x2="181.80" y2="492.70" stroke="#CDB8A0" stroke-width="0.8" />
<path d="M104.5,492.7 L104.5,492.7 L105.2,492.7 L105.9,492.7 L106.6,492.7 L107.3,492.7 L108.0,492.7 L108.7,492.7 L109.4,492.7 L110.1,492.7 L110.8,492.7 L111.5,492.7 L112.2,492.7 L112.9,492.7 L113.6,492.7 L114.3,492.7 L115.0,492.7 L115.7,492.7 L116.4,492.7 L117.1,492.7 L117.8,492.7 L118.5,492.7 L119.2,492.7 L119.9,492.7 L120.6,492.7 L121.3,492.7 L122.0,492.7 L122.7,492.7 L123.4,492.7 L124.1,492.7 L124.8,492.7 L125.5,492.7 L126.2,492.7 L126.9,492.7 L127.6,492.7 L128.3,492.7 L129.0,492.7 L129.7,492.7 L130.4,492.7 L131.1,492.7 L131.8,492.7 L132.5,492.7 L133.2,492.7 L133.9,492.7 L134.6,492.7 L135.3,492.7 L136.0,492.7 L136.7,492.7 L137.4,492.7 L138.1,492.7 L138.8,492.7 L139.5,492.7 L140.2,492.7 L140.9,492.7 L141.6,492.7 L142.3,492.7 L143.0,492.7 L143.7,492.7 L144.4,492.7 L145.1,492.7 L145.8,492.7 L146.5,492.7 L147.2,492.7 L147.9,492.6 L148.6,492.6 L149.3,492.5 L150.0,492.4 L150.7,492.2 L151.4,492.0 L152.1,491.9 L152.8,491.7 L153.5,491.6 L154.2,491.2 L154.9,491.2 L155.6,491.1 L156.3,490.9 L157.0,490.6 L157.7,490.2 L158.4,489.9 L159.1,489.7 L159.8,489.5 L160.5,489.5 L161.2,489.6 L161.9,490.1 L162.6,490.5 L163.3,490.7 L164.0,490.3 L164.7,489.5 L165.4,487.9 L166.1,485.6 L166.8,483.5 L167.5,482.1 L168.2,480.3 L168.9,480.0 L169.6,481.9 L170.3,484.5 L171.0,487.6 L171.7,489.7 L172.4,491.2 L173.1,492.0 L173.8,492.5 L174.5,492.6 L175.2,492.7 L175.9,492.7 L176.6,492.7 L177.3,492.7 L178.0,492.7 L178.7,492.7 L179.4,492.7 L180.1,492.7 L180.8,492.7 L181.3,492.7 Z" fill="#EFD3B6" stroke="#E0BC98" stroke-width="0.45" stroke-linejoin="round" fill-opacity="0.9"/>
<line x1="104.00" y1="503.80" x2="181.80" y2="503.80" stroke="#E6D8CA" stroke-width="0.8" />
<path d="M104.5,503.8 L104.5,503.8 L105.2,503.8 L105.9,503.8 L106.6,503.8 L107.3,503.8 L108.0,503.8 L108.7,503.8 L109.4,503.8 L110.1,503.8 L110.8,503.8 L111.5,503.8 L112.2,503.8 L112.9,503.8 L113.6,503.8 L114.3,503.8 L115.0,503.8 L115.7,503.8 L116.4,503.8 L117.1,503.8 L117.8,503.8 L118.5,503.8 L119.2,503.8 L119.9,503.8 L120.6,503.8 L121.3,503.8 L122.0,503.8 L122.7,503.8 L123.4,503.8 L124.1,503.8 L124.8,503.8 L125.5,503.8 L126.2,503.8 L126.9,503.8 L127.6,503.8 L128.3,503.8 L129.0,503.8 L129.7,503.8 L130.4,503.8 L131.1,503.8 L131.8,503.8 L132.5,503.8 L133.2,503.8 L133.9,503.8 L134.6,503.8 L135.3,503.8 L136.0,503.8 L136.7,503.8 L137.4,503.8 L138.1,503.8 L138.8,503.8 L139.5,503.8 L140.2,503.8 L140.9,503.8 L141.6,503.8 L142.3,503.8 L143.0,503.8 L143.7,503.8 L144.4,503.8 L145.1,503.8 L145.8,503.8 L146.5,503.8 L147.2,503.8 L147.9,503.8 L148.6,503.8 L149.3,503.8 L150.0,503.8 L150.7,503.8 L151.4,503.8 L152.1,503.8 L152.8,503.8 L153.5,503.8 L154.2,503.8 L154.9,503.8 L155.6,503.7 L156.3,503.7 L157.0,503.6 L157.7,503.5 L158.4,503.2 L159.1,503.0 L159.8,502.7 L160.5,502.4 L161.2,502.4 L161.9,502.2 L162.6,502.0 L163.3,501.9 L164.0,502.0 L164.7,502.1 L165.4,501.9 L166.1,501.1 L166.8,500.5 L167.5,499.2 L168.2,497.2 L168.9,495.7 L169.6,494.9 L170.3,494.6 L171.0,494.5 L171.7,496.4 L172.4,498.4 L173.1,500.2 L173.8,501.6 L174.5,502.7 L175.2,503.4 L175.9,503.6 L176.6,503.7 L177.3,503.8 L178.0,503.8 L178.7,503.8 L179.4,503.8 L180.1,503.8 L180.8,503.8 L181.3,503.8 Z" fill="#F2D9C4" stroke="#E2C0A2" stroke-width="0.45" stroke-linejoin="round" fill-opacity="0.9"/>
<line x1="104.00" y1="514.90" x2="181.80" y2="514.90" stroke="#9CC2DE" stroke-width="0.8" />
<path d="M104.5,514.9 L104.5,514.9 L105.2,514.9 L105.9,514.9 L106.6,514.9 L107.3,514.9 L108.0,514.9 L108.7,514.9 L109.4,514.9 L110.1,514.9 L110.8,514.9 L111.5,514.9 L112.2,514.9 L112.9,514.9 L113.6,514.9 L114.3,514.9 L115.0,514.9 L115.7,514.9 L116.4,514.9 L117.1,514.9 L117.8,514.9 L118.5,514.9 L119.2,514.9 L119.9,514.9 L120.6,514.9 L121.3,514.9 L122.0,514.9 L122.7,514.9 L123.4,514.9 L124.1,514.9 L124.8,514.9 L125.5,514.9 L126.2,514.9 L126.9,514.9 L127.6,514.9 L128.3,514.8 L129.0,514.8 L129.7,514.8 L130.4,514.8 L131.1,514.8 L131.8,514.7 L132.5,514.7 L133.2,514.7 L133.9,514.6 L134.6,514.6 L135.3,514.5 L136.0,514.5 L136.7,514.4 L137.4,514.2 L138.1,514.2 L138.8,514.2 L139.5,513.9 L140.2,513.7 L140.9,513.6 L141.6,513.5 L142.3,513.4 L143.0,513.4 L143.7,513.1 L144.4,512.8 L145.1,512.7 L145.8,512.2 L146.5,512.1 L147.2,512.0 L147.9,511.9 L148.6,511.1 L149.3,510.8 L150.0,510.4 L150.7,510.2 L151.4,510.4 L152.1,510.1 L152.8,509.8 L153.5,509.8 L154.2,509.1 L154.9,509.1 L155.6,509.2 L156.3,508.7 L157.0,509.0 L157.7,508.4 L158.4,508.5 L159.1,508.5 L159.8,508.8 L160.5,509.1 L161.2,509.7 L161.9,510.5 L162.6,510.7 L163.3,511.5 L164.0,511.8 L164.7,512.4 L165.4,511.9 L166.1,510.6 L166.8,508.3 L167.5,505.0 L168.2,502.1 L168.9,500.5 L169.6,502.1 L170.3,504.0 L171.0,506.4 L171.7,509.6 L172.4,511.5 L173.1,513.0 L173.8,514.1 L174.5,514.6 L175.2,514.8 L175.9,514.9 L176.6,514.9 L177.3,514.9 L178.0,514.9 L178.7,514.9 L179.4,514.9 L180.1,514.9 L180.8,514.9 L181.3,514.9 Z" fill="#98C9EC" stroke="#66ABDD" stroke-width="0.45" stroke-linejoin="round" fill-opacity="0.9"/>
<line x1="104.00" y1="526.00" x2="181.80" y2="526.00" stroke="#CFE2F0" stroke-width="0.8" />
<path d="M104.5,526.0 L104.5,526.0 L105.2,526.0 L105.9,526.0 L106.6,526.0 L107.3,526.0 L108.0,526.0 L108.7,526.0 L109.4,526.0 L110.1,526.0 L110.8,526.0 L111.5,526.0 L112.2,526.0 L112.9,526.0 L113.6,526.0 L114.3,526.0 L115.0,526.0 L115.7,526.0 L116.4,526.0 L117.1,526.0 L117.8,526.0 L118.5,526.0 L119.2,526.0 L119.9,526.0 L120.6,526.0 L121.3,526.0 L122.0,526.0 L122.7,526.0 L123.4,526.0 L124.1,526.0 L124.8,526.0 L125.5,526.0 L126.2,526.0 L126.9,526.0 L127.6,526.0 L128.3,526.0 L129.0,526.0 L129.7,526.0 L130.4,526.0 L131.1,526.0 L131.8,526.0 L132.5,526.0 L133.2,526.0 L133.9,526.0 L134.6,526.0 L135.3,526.0 L136.0,526.0 L136.7,526.0 L137.4,526.0 L138.1,526.0 L138.8,526.0 L139.5,526.0 L140.2,526.0 L140.9,526.0 L141.6,526.0 L142.3,526.0 L143.0,526.0 L143.7,526.0 L144.4,526.0 L145.1,526.0 L145.8,526.0 L146.5,526.0 L147.2,525.9 L147.9,525.9 L148.6,525.8 L149.3,525.7 L150.0,525.6 L150.7,525.3 L151.4,525.3 L152.1,525.2 L152.8,524.7 L153.5,524.5 L154.2,524.2 L154.9,523.6 L155.6,523.2 L156.3,522.3 L157.0,522.0 L157.7,521.0 L158.4,520.6 L159.1,519.9 L159.8,518.9 L160.5,518.2 L161.2,517.2 L161.9,516.6 L162.6,516.6 L163.3,515.4 L164.0,514.8 L164.7,514.6 L165.4,514.5 L166.1,513.5 L166.8,513.2 L167.5,512.7 L168.2,513.3 L168.9,515.0 L169.6,518.0 L170.3,520.7 L171.0,522.9 L171.7,524.5 L172.4,525.2 L173.1,525.7 L173.8,525.9 L174.5,526.0 L175.2,526.0 L175.9,526.0 L176.6,526.0 L177.3,526.0 L178.0,526.0 L178.7,526.0 L179.4,526.0 L180.1,526.0 L180.8,526.0 L181.3,526.0 Z" fill="#C6E1F4" stroke="#9CC8EA" stroke-width="0.45" stroke-linejoin="round" fill-opacity="0.9"/>
<line x1="104.00" y1="537.10" x2="181.80" y2="537.10" stroke="#7E808C" stroke-width="0.8" />
<path d="M104.5,537.1 L104.5,535.5 L105.2,535.2 L105.9,534.9 L106.6,534.9 L107.3,534.6 L108.0,534.4 L108.7,534.1 L109.4,534.0 L110.1,533.8 L110.8,533.4 L111.5,533.1 L112.2,532.7 L112.9,532.6 L113.6,532.3 L114.3,531.5 L115.0,531.0 L115.7,530.4 L116.4,529.6 L117.1,529.1 L117.8,528.8 L118.5,527.4 L119.2,526.4 L119.9,525.3 L120.6,524.3 L121.3,522.7 L122.0,522.3 L122.7,520.9 L123.4,520.4 L124.1,519.4 L124.8,518.4 L125.5,518.2 L126.2,518.5 L126.9,517.7 L127.6,516.8 L128.3,516.7 L129.0,517.1 L129.7,517.1 L130.4,518.4 L131.1,519.3 L131.8,519.9 L132.5,519.7 L133.2,521.2 L133.9,522.5 L134.6,523.6 L135.3,524.8 L136.0,525.5 L136.7,526.0 L137.4,526.4 L138.1,527.7 L138.8,528.7 L139.5,529.6 L140.2,530.4 L140.9,530.8 L141.6,531.4 L142.3,532.2 L143.0,532.9 L143.7,533.1 L144.4,533.3 L145.1,533.6 L145.8,534.1 L146.5,534.3 L147.2,534.4 L147.9,534.6 L148.6,534.6 L149.3,535.0 L150.0,534.9 L150.7,535.3 L151.4,535.4 L152.1,535.7 L152.8,535.5 L153.5,535.5 L154.2,535.5 L154.9,535.6 L155.6,535.6 L156.3,535.8 L157.0,535.8 L157.7,535.9 L158.4,536.2 L159.1,536.1 L159.8,536.3 L160.5,536.5 L161.2,536.6 L161.9,536.6 L162.6,536.6 L163.3,536.4 L164.0,536.2 L164.7,536.3 L165.4,536.3 L166.1,536.1 L166.8,536.2 L167.5,536.0 L168.2,535.9 L168.9,536.1 L169.6,536.2 L170.3,536.2 L171.0,536.4 L171.7,536.6 L172.4,536.7 L173.1,536.8 L173.8,536.9 L174.5,537.0 L175.2,537.0 L175.9,537.1 L176.6,537.1 L177.3,537.1 L178.0,537.1 L178.7,537.1 L179.4,537.1 L180.1,537.1 L180.8,537.1 L181.3,537.1 Z" fill="#85899C" stroke="#585C70" stroke-width="0.45" stroke-linejoin="round" fill-opacity="0.9"/>
<line x1="104.00" y1="548.20" x2="181.80" y2="548.20" stroke="#C8C8CE" stroke-width="0.8" />
<path d="M104.5,548.2 L104.5,548.2 L105.2,548.2 L105.9,548.2 L106.6,548.2 L107.3,548.2 L108.0,548.2 L108.7,548.2 L109.4,548.2 L110.1,548.2 L110.8,548.2 L111.5,548.2 L112.2,548.2 L112.9,548.2 L113.6,548.2 L114.3,548.2 L115.0,548.2 L115.7,548.2 L116.4,548.2 L117.1,548.2 L117.8,548.2 L118.5,548.2 L119.2,548.2 L119.9,548.2 L120.6,548.2 L121.3,548.2 L122.0,548.2 L122.7,548.2 L123.4,548.2 L124.1,548.2 L124.8,548.2 L125.5,548.2 L126.2,548.2 L126.9,548.2 L127.6,548.2 L128.3,548.2 L129.0,548.2 L129.7,548.2 L130.4,548.2 L131.1,548.2 L131.8,548.2 L132.5,548.2 L133.2,548.2 L133.9,548.2 L134.6,548.2 L135.3,548.2 L136.0,548.2 L136.7,548.2 L137.4,548.2 L138.1,548.2 L138.8,548.2 L139.5,548.2 L140.2,548.2 L140.9,548.2 L141.6,548.2 L142.3,548.2 L143.0,548.2 L143.7,548.2 L144.4,548.2 L145.1,548.2 L145.8,548.2 L146.5,548.2 L147.2,548.2 L147.9,548.1 L148.6,548.1 L149.3,548.1 L150.0,548.0 L150.7,547.9 L151.4,547.7 L152.1,547.5 L152.8,547.4 L153.5,547.0 L154.2,546.9 L154.9,546.5 L155.6,546.3 L156.3,545.6 L157.0,545.4 L157.7,544.7 L158.4,543.9 L159.1,543.2 L159.8,542.6 L160.5,541.4 L161.2,540.1 L161.9,539.6 L162.6,538.3 L163.3,536.3 L164.0,534.7 L164.7,533.7 L165.4,532.7 L166.1,530.6 L166.8,530.8 L167.5,529.5 L168.2,528.8 L168.9,530.5 L169.6,532.8 L170.3,536.0 L171.0,539.1 L171.7,542.2 L172.4,544.3 L173.1,545.9 L173.8,547.1 L174.5,547.6 L175.2,548.0 L175.9,548.1 L176.6,548.2 L177.3,548.2 L178.0,548.2 L178.7,548.2 L179.4,548.2 L180.1,548.2 L180.8,548.2 L181.3,548.2 Z" fill="#ADAEBA" stroke="#8E8F9C" stroke-width="0.45" stroke-linejoin="round" fill-opacity="0.9"/>
<line x1="167.50" y1="470.00" x2="167.50" y2="548.20" stroke="#666" stroke-width="1.0" />
<rect x="104.00" y="470.00" width="77.80" height="78.20" fill="none" stroke="#111" stroke-width="1.0" rx="0" />
<line x1="104.10" y1="548.20" x2="104.10" y2="550.20" stroke="#222" stroke-width="0.6" />
<text x="0" y="0" font-size="6.55" text-anchor="middle" fill="#222" stroke="#222" stroke-width="0.15" dominant-baseline="central" transform="translate(104.10 557.80) scale(0.8850 1)">10<tspan font-size="3.93" dy="-2.29">1</tspan></text>
<line x1="122.00" y1="548.20" x2="122.00" y2="550.20" stroke="#222" stroke-width="0.6" />
<text x="0" y="0" font-size="6.55" text-anchor="middle" fill="#222" stroke="#222" stroke-width="0.15" dominant-baseline="central" transform="translate(122.00 557.80) scale(0.8850 1)">10<tspan font-size="3.93" dy="-2.29">2</tspan></text>
<line x1="139.80" y1="548.20" x2="139.80" y2="550.20" stroke="#222" stroke-width="0.6" />
<text x="0" y="0" font-size="6.55" text-anchor="middle" fill="#222" stroke="#222" stroke-width="0.15" dominant-baseline="central" transform="translate(139.80 557.80) scale(0.8850 1)">10<tspan font-size="3.93" dy="-2.29">3</tspan></text>
<line x1="158.00" y1="548.20" x2="158.00" y2="550.20" stroke="#222" stroke-width="0.6" />
<text x="0" y="0" font-size="6.55" text-anchor="middle" fill="#222" stroke="#222" stroke-width="0.15" dominant-baseline="central" transform="translate(158.00 557.80) scale(0.8850 1)">10<tspan font-size="3.93" dy="-2.29">4</tspan></text>
<line x1="174.50" y1="548.20" x2="174.50" y2="550.20" stroke="#222" stroke-width="0.6" />
<text x="0" y="0" font-size="6.55" text-anchor="middle" fill="#222" stroke="#222" stroke-width="0.15" dominant-baseline="central" transform="translate(174.50 557.80) scale(0.8850 1)">10<tspan font-size="3.93" dy="-2.29">5</tspan></text>
<line x1="109.40" y1="548.20" x2="109.40" y2="549.30" stroke="#222" stroke-width="0.4" />
<line x1="112.50" y1="548.20" x2="112.50" y2="549.30" stroke="#222" stroke-width="0.4" />
<line x1="114.70" y1="548.20" x2="114.70" y2="549.30" stroke="#222" stroke-width="0.4" />
<line x1="116.40" y1="548.20" x2="116.40" y2="549.30" stroke="#222" stroke-width="0.4" />
<line x1="117.80" y1="548.20" x2="117.80" y2="549.30" stroke="#222" stroke-width="0.4" />
<line x1="118.97" y1="548.20" x2="118.97" y2="549.30" stroke="#222" stroke-width="0.4" />
<line x1="119.99" y1="548.20" x2="119.99" y2="549.30" stroke="#222" stroke-width="0.4" />
<line x1="120.89" y1="548.20" x2="120.89" y2="549.30" stroke="#222" stroke-width="0.4" />
<line x1="127.00" y1="548.20" x2="127.00" y2="549.30" stroke="#222" stroke-width="0.4" />
<line x1="130.10" y1="548.20" x2="130.10" y2="549.30" stroke="#222" stroke-width="0.4" />
<line x1="132.30" y1="548.20" x2="132.30" y2="549.30" stroke="#222" stroke-width="0.4" />
<line x1="134.00" y1="548.20" x2="134.00" y2="549.30" stroke="#222" stroke-width="0.4" />
<line x1="135.40" y1="548.20" x2="135.40" y2="549.30" stroke="#222" stroke-width="0.4" />
<line x1="136.57" y1="548.20" x2="136.57" y2="549.30" stroke="#222" stroke-width="0.4" />
<line x1="137.59" y1="548.20" x2="137.59" y2="549.30" stroke="#222" stroke-width="0.4" />
<line x1="138.49" y1="548.20" x2="138.49" y2="549.30" stroke="#222" stroke-width="0.4" />
<line x1="144.60" y1="548.20" x2="144.60" y2="549.30" stroke="#222" stroke-width="0.4" />
<line x1="147.70" y1="548.20" x2="147.70" y2="549.30" stroke="#222" stroke-width="0.4" />
<line x1="149.90" y1="548.20" x2="149.90" y2="549.30" stroke="#222" stroke-width="0.4" />
<line x1="151.60" y1="548.20" x2="151.60" y2="549.30" stroke="#222" stroke-width="0.4" />
<line x1="153.00" y1="548.20" x2="153.00" y2="549.30" stroke="#222" stroke-width="0.4" />
<line x1="154.17" y1="548.20" x2="154.17" y2="549.30" stroke="#222" stroke-width="0.4" />
<line x1="155.19" y1="548.20" x2="155.19" y2="549.30" stroke="#222" stroke-width="0.4" />
<line x1="156.09" y1="548.20" x2="156.09" y2="549.30" stroke="#222" stroke-width="0.4" />
<line x1="162.20" y1="548.20" x2="162.20" y2="549.30" stroke="#222" stroke-width="0.4" />
<line x1="165.30" y1="548.20" x2="165.30" y2="549.30" stroke="#222" stroke-width="0.4" />
<line x1="167.50" y1="548.20" x2="167.50" y2="549.30" stroke="#222" stroke-width="0.4" />
<line x1="169.20" y1="548.20" x2="169.20" y2="549.30" stroke="#222" stroke-width="0.4" />
<line x1="170.60" y1="548.20" x2="170.60" y2="549.30" stroke="#222" stroke-width="0.4" />
<line x1="171.77" y1="548.20" x2="171.77" y2="549.30" stroke="#222" stroke-width="0.4" />
<line x1="172.79" y1="548.20" x2="172.79" y2="549.30" stroke="#222" stroke-width="0.4" />
<line x1="173.69" y1="548.20" x2="173.69" y2="549.30" stroke="#222" stroke-width="0.4" />
<line x1="179.80" y1="548.20" x2="179.80" y2="549.30" stroke="#222" stroke-width="0.4" />
<text x="0" y="0" font-size="6.33" text-anchor="start" fill="#333" stroke="#333" stroke-width="0.15" textLength="18.08" lengthAdjust="spacingAndGlyphs" transform="translate(187.40 477.00) scale(0.8850 1)" dominant-baseline="central" >Tumor</text>
<line x1="194.10" y1="485.50" x2="196.70" y2="485.50" stroke="#C09060" stroke-width="0.7" />
<line x1="195.40" y1="484.20" x2="195.40" y2="486.80" stroke="#C09060" stroke-width="0.7" />
<line x1="194.10" y1="497.10" x2="196.70" y2="497.10" stroke="#D0B8A0" stroke-width="0.7" />
<line x1="194.10" y1="508.70" x2="196.70" y2="508.70" stroke="#5A98CC" stroke-width="0.7" />
<line x1="195.40" y1="507.40" x2="195.40" y2="510.00" stroke="#5A98CC" stroke-width="0.7" />
<line x1="194.10" y1="520.30" x2="196.70" y2="520.30" stroke="#A0C4E0" stroke-width="0.7" />
<line x1="194.10" y1="531.90" x2="196.70" y2="531.90" stroke="#4a4e5a" stroke-width="0.7" />
<line x1="195.40" y1="530.60" x2="195.40" y2="533.20" stroke="#4a4e5a" stroke-width="0.7" />
<line x1="194.10" y1="543.50" x2="196.70" y2="543.50" stroke="#9a9aa2" stroke-width="0.7" />
<text x="0" y="0" font-size="8.59" text-anchor="start" fill="#222" stroke="#222" stroke-width="0.15" textLength="65.99" lengthAdjust="spacingAndGlyphs" transform="translate(99.60 569.30) scale(0.8850 1)" dominant-baseline="central" >FarRed proliferation</text>
<text x="0" y="0" font-size="8.59" text-anchor="start" fill="#222" stroke="#222" stroke-width="0.15" textLength="11.30" lengthAdjust="spacingAndGlyphs" transform="translate(99.60 579.60) scale(0.8850 1)" dominant-baseline="central" >dye</text>
<line x1="159.90" y1="569.30" x2="178.00" y2="569.30" stroke="#555" stroke-width="0.9" />
<path d="M181.00,569.30 L177.00,567.70 L177.00,570.90 Z" fill="#222" stroke="none" stroke-width="0.8" />
<text x="0" y="0" font-size="6.78" text-anchor="middle" fill="#DDA36E" stroke="#DDA36E" stroke-width="0.15" textLength="30.51" lengthAdjust="spacingAndGlyphs" transform="translate(97.00 479.50) rotate(-90) scale(0.8850 1)" dominant-baseline="central" >CD86-28z</text>
<text x="0" y="0" font-size="6.78" text-anchor="middle" fill="#55B8E8" stroke="#55B8E8" stroke-width="0.15" textLength="32.77" lengthAdjust="spacingAndGlyphs" transform="translate(97.00 510.50) rotate(-90) scale(0.8850 1)" dominant-baseline="central" >CD30-28z</text>
<text x="0" y="0" font-size="6.78" text-anchor="middle" fill="#555" stroke="#555" stroke-width="0.15" textLength="31.07" lengthAdjust="spacingAndGlyphs" transform="translate(97.00 541.20) rotate(-90) scale(0.8850 1)" dominant-baseline="central" >CD19-28z</text>
<line x1="243.20" y1="150.80" x2="243.20" y2="230.40" stroke="#222" stroke-width="1.1" />
<line x1="240.60" y1="153.40" x2="243.20" y2="153.40" stroke="#222" stroke-width="0.8" />
<text x="0" y="0" font-size="6.55" text-anchor="end" fill="#3a3a3a" stroke="#3a3a3a" stroke-width="0.15" transform="translate(237.20 153.40) scale(0.8850 1)" dominant-baseline="central" >100</text>
<line x1="240.60" y1="179.07" x2="243.20" y2="179.07" stroke="#222" stroke-width="0.8" />
<text x="0" y="0" font-size="6.55" text-anchor="end" fill="#3a3a3a" stroke="#3a3a3a" stroke-width="0.15" transform="translate(237.20 179.07) scale(0.8850 1)" dominant-baseline="central" >50</text>
<line x1="240.60" y1="204.73" x2="243.20" y2="204.73" stroke="#222" stroke-width="0.8" />
<text x="0" y="0" font-size="6.55" text-anchor="end" fill="#3a3a3a" stroke="#3a3a3a" stroke-width="0.15" transform="translate(237.20 204.73) scale(0.8850 1)" dominant-baseline="central" >0</text>
<line x1="240.60" y1="230.40" x2="243.20" y2="230.40" stroke="#222" stroke-width="0.8" />
<text x="0" y="0" font-size="6.55" text-anchor="end" fill="#3a3a3a" stroke="#3a3a3a" stroke-width="0.15" transform="translate(237.20 230.40) scale(0.8850 1)" dominant-baseline="central" >−50</text>
<line x1="240.20" y1="230.40" x2="309.80" y2="230.40" stroke="#222" stroke-width="1.0" />
<line x1="253.00" y1="230.40" x2="253.00" y2="232.40" stroke="#222" stroke-width="0.7" />
<rect x="245.15" y="187.79" width="4.10" height="16.94" fill="#C06A1C" stroke="#9A5212" stroke-width="0.4" rx="0" />
<line x1="247.20" y1="187.79" x2="247.20" y2="184.71" stroke="#9A5212" stroke-width="0.5" />
<line x1="246.30" y1="184.71" x2="248.10" y2="184.71" stroke="#9A5212" stroke-width="0.5" />
<circle cx="247.20" cy="179.07" r="1.65" fill="#fff" stroke="#DDA36E" stroke-width="0.65"/>
<circle cx="247.20" cy="184.20" r="1.65" fill="#fff" stroke="#DDA36E" stroke-width="0.65"/>
<circle cx="247.20" cy="189.33" r="1.2" fill="#fff" stroke="none" stroke-width="0"/>
<circle cx="247.20" cy="191.39" r="1.2" fill="#fff" stroke="none" stroke-width="0"/>
<rect x="251.25" y="204.22" width="4.10" height="0.51" fill="#2BA6DD" stroke="#1C86BD" stroke-width="0.4" rx="0" />
<line x1="253.30" y1="204.22" x2="253.30" y2="201.14" stroke="#1C86BD" stroke-width="0.5" />
<line x1="252.40" y1="201.14" x2="254.20" y2="201.14" stroke="#1C86BD" stroke-width="0.5" />
<circle cx="253.30" cy="200.63" r="1.65" fill="#fff" stroke="#55B8E8" stroke-width="0.65"/>
<circle cx="253.30" cy="203.71" r="1.65" fill="#fff" stroke="#55B8E8" stroke-width="0.65"/>
<circle cx="253.30" cy="206.27" r="1.65" fill="#fff" stroke="#55B8E8" stroke-width="0.65"/>
<rect x="257.45" y="204.73" width="4.10" height="15.40" fill="#465064" stroke="#323a4c" stroke-width="0.4" rx="0" />
<line x1="259.50" y1="220.13" x2="259.50" y2="223.21" stroke="#323a4c" stroke-width="0.5" />
<line x1="258.60" y1="223.21" x2="260.40" y2="223.21" stroke="#323a4c" stroke-width="0.5" />
<circle cx="259.50" cy="218.08" r="1.2" fill="#fff" stroke="none" stroke-width="0"/>
<circle cx="259.50" cy="221.16" r="1.65" fill="#fff" stroke="#7a8294" stroke-width="0.65"/>
<circle cx="259.50" cy="223.21" r="1.65" fill="#fff" stroke="#7a8294" stroke-width="0.65"/>
<circle cx="259.50" cy="224.24" r="1.65" fill="#fff" stroke="#7a8294" stroke-width="0.65"/>
<line x1="246.30" y1="155.40" x2="259.70" y2="155.40" stroke="#666" stroke-width="0.8" />
<text x="253.00" y="156.00" font-size="6.6" text-anchor="middle" fill="#333" font-weight="bold">***</text>
<line x1="276.00" y1="230.40" x2="276.00" y2="232.40" stroke="#222" stroke-width="0.7" />
<rect x="268.15" y="180.09" width="4.10" height="24.64" fill="#C06A1C" stroke="#9A5212" stroke-width="0.4" rx="0" />
<line x1="270.20" y1="180.09" x2="270.20" y2="177.01" stroke="#9A5212" stroke-width="0.5" />
<line x1="269.30" y1="177.01" x2="271.10" y2="177.01" stroke="#9A5212" stroke-width="0.5" />
<circle cx="270.20" cy="170.85" r="1.65" fill="#fff" stroke="#DDA36E" stroke-width="0.65"/>
<circle cx="270.20" cy="178.04" r="1.65" fill="#fff" stroke="#DDA36E" stroke-width="0.65"/>
<circle cx="270.20" cy="181.63" r="1.2" fill="#fff" stroke="none" stroke-width="0"/>
<rect x="274.25" y="186.77" width="4.10" height="17.97" fill="#2BA6DD" stroke="#1C86BD" stroke-width="0.4" rx="0" />
<line x1="276.30" y1="186.77" x2="276.30" y2="183.69" stroke="#1C86BD" stroke-width="0.5" />
<line x1="275.40" y1="183.69" x2="277.20" y2="183.69" stroke="#1C86BD" stroke-width="0.5" />
<circle cx="276.30" cy="181.12" r="1.65" fill="#fff" stroke="#55B8E8" stroke-width="0.65"/>
<circle cx="276.30" cy="185.23" r="1.65" fill="#fff" stroke="#55B8E8" stroke-width="0.65"/>
<circle cx="276.30" cy="189.33" r="1.2" fill="#fff" stroke="none" stroke-width="0"/>
<rect x="280.45" y="204.73" width="4.10" height="4.11" fill="#465064" stroke="#323a4c" stroke-width="0.4" rx="0" />
<line x1="282.50" y1="208.84" x2="282.50" y2="211.92" stroke="#323a4c" stroke-width="0.5" />
<line x1="281.60" y1="211.92" x2="283.40" y2="211.92" stroke="#323a4c" stroke-width="0.5" />
<circle cx="282.50" cy="198.57" r="1.65" fill="#fff" stroke="#7a8294" stroke-width="0.65"/>
<circle cx="282.50" cy="207.30" r="1.2" fill="#fff" stroke="none" stroke-width="0"/>
<circle cx="282.50" cy="209.87" r="1.65" fill="#fff" stroke="#7a8294" stroke-width="0.65"/>
<circle cx="282.50" cy="217.05" r="1.65" fill="#fff" stroke="#7a8294" stroke-width="0.65"/>
<line x1="269.30" y1="155.40" x2="282.70" y2="155.40" stroke="#666" stroke-width="0.8" />
<text x="276.00" y="156.00" font-size="6.6" text-anchor="middle" fill="#333" font-weight="bold">**</text>
<line x1="299.00" y1="230.40" x2="299.00" y2="232.40" stroke="#222" stroke-width="0.7" />
<rect x="291.15" y="170.34" width="4.10" height="34.39" fill="#C06A1C" stroke="#9A5212" stroke-width="0.4" rx="0" />
<line x1="293.20" y1="170.34" x2="293.20" y2="167.26" stroke="#9A5212" stroke-width="0.5" />
<line x1="292.30" y1="167.26" x2="294.10" y2="167.26" stroke="#9A5212" stroke-width="0.5" />
<circle cx="293.20" cy="158.53" r="1.65" fill="#fff" stroke="#DDA36E" stroke-width="0.65"/>
<circle cx="293.20" cy="163.67" r="1.65" fill="#fff" stroke="#DDA36E" stroke-width="0.65"/>
<circle cx="293.20" cy="167.77" r="1.65" fill="#fff" stroke="#DDA36E" stroke-width="0.65"/>
<circle cx="293.20" cy="174.96" r="1.2" fill="#fff" stroke="none" stroke-width="0"/>
<rect x="297.25" y="172.91" width="4.10" height="31.83" fill="#2BA6DD" stroke="#1C86BD" stroke-width="0.4" rx="0" />
<line x1="299.30" y1="172.91" x2="299.30" y2="169.83" stroke="#1C86BD" stroke-width="0.5" />
<line x1="298.40" y1="169.83" x2="300.20" y2="169.83" stroke="#1C86BD" stroke-width="0.5" />
<circle cx="299.30" cy="158.53" r="1.65" fill="#fff" stroke="#55B8E8" stroke-width="0.65"/>
<circle cx="299.30" cy="167.77" r="1.65" fill="#fff" stroke="#55B8E8" stroke-width="0.65"/>
<circle cx="299.30" cy="173.93" r="1.65" fill="#fff" stroke="#55B8E8" stroke-width="0.65"/>
<circle cx="299.30" cy="179.07" r="1.2" fill="#fff" stroke="none" stroke-width="0"/>
<rect x="303.45" y="204.73" width="4.10" height="5.13" fill="#465064" stroke="#323a4c" stroke-width="0.4" rx="0" />
<line x1="305.50" y1="209.87" x2="305.50" y2="212.95" stroke="#323a4c" stroke-width="0.5" />
<line x1="304.60" y1="212.95" x2="306.40" y2="212.95" stroke="#323a4c" stroke-width="0.5" />
<circle cx="305.50" cy="202.17" r="1.65" fill="#fff" stroke="#7a8294" stroke-width="0.65"/>
<circle cx="305.50" cy="205.76" r="1.2" fill="#fff" stroke="none" stroke-width="0"/>
<circle cx="305.50" cy="210.89" r="1.65" fill="#fff" stroke="#7a8294" stroke-width="0.65"/>
<circle cx="305.50" cy="223.21" r="1.65" fill="#fff" stroke="#7a8294" stroke-width="0.65"/>
<line x1="292.30" y1="155.40" x2="305.70" y2="155.40" stroke="#666" stroke-width="0.8" />
<text x="299.00" y="156.00" font-size="6.6" text-anchor="middle" fill="#333" font-weight="bold">****</text>
<line x1="243.20" y1="204.73" x2="309.80" y2="204.73" stroke="#222" stroke-width="1.0" />
<text x="0" y="0" font-size="6.78" text-anchor="middle" fill="#222" stroke="#222" stroke-width="0.15" textLength="19.21" lengthAdjust="spacingAndGlyphs" transform="translate(253.00 239.80) scale(0.8850 1)" dominant-baseline="central" >0.25:1</text>
<text x="0" y="0" font-size="6.78" text-anchor="middle" fill="#222" stroke="#222" stroke-width="0.15" textLength="15.25" lengthAdjust="spacingAndGlyphs" transform="translate(276.00 239.80) scale(0.8850 1)" dominant-baseline="central" >0.5:1</text>
<text x="0" y="0" font-size="6.78" text-anchor="middle" fill="#222" stroke="#222" stroke-width="0.15" textLength="9.04" lengthAdjust="spacingAndGlyphs" transform="translate(299.00 239.80) scale(0.8850 1)" dominant-baseline="central" >1:1</text>
<line x1="243.20" y1="258.50" x2="243.20" y2="337.50" stroke="#222" stroke-width="1.1" />
<line x1="240.60" y1="261.10" x2="243.20" y2="261.10" stroke="#222" stroke-width="0.8" />
<text x="0" y="0" font-size="6.55" text-anchor="end" fill="#3a3a3a" stroke="#3a3a3a" stroke-width="0.15" transform="translate(237.20 261.10) scale(0.8850 1)" dominant-baseline="central" >100</text>
<line x1="240.60" y1="286.57" x2="243.20" y2="286.57" stroke="#222" stroke-width="0.8" />
<text x="0" y="0" font-size="6.55" text-anchor="end" fill="#3a3a3a" stroke="#3a3a3a" stroke-width="0.15" transform="translate(237.20 286.57) scale(0.8850 1)" dominant-baseline="central" >50</text>
<line x1="240.60" y1="312.03" x2="243.20" y2="312.03" stroke="#222" stroke-width="0.8" />
<text x="0" y="0" font-size="6.55" text-anchor="end" fill="#3a3a3a" stroke="#3a3a3a" stroke-width="0.15" transform="translate(237.20 312.03) scale(0.8850 1)" dominant-baseline="central" >0</text>
<line x1="240.60" y1="337.50" x2="243.20" y2="337.50" stroke="#222" stroke-width="0.8" />
<text x="0" y="0" font-size="6.55" text-anchor="end" fill="#3a3a3a" stroke="#3a3a3a" stroke-width="0.15" transform="translate(237.20 337.50) scale(0.8850 1)" dominant-baseline="central" >−50</text>
<line x1="240.20" y1="337.50" x2="309.80" y2="337.50" stroke="#222" stroke-width="1.0" />
<line x1="253.00" y1="337.50" x2="253.00" y2="339.50" stroke="#222" stroke-width="0.7" />
<rect x="245.15" y="290.64" width="4.10" height="21.39" fill="#C06A1C" stroke="#9A5212" stroke-width="0.4" rx="0" />
<line x1="247.20" y1="290.64" x2="247.20" y2="287.59" stroke="#9A5212" stroke-width="0.5" />
<line x1="246.30" y1="287.59" x2="248.10" y2="287.59" stroke="#9A5212" stroke-width="0.5" />
<circle cx="247.20" cy="278.42" r="1.65" fill="#fff" stroke="#DDA36E" stroke-width="0.65"/>
<circle cx="247.20" cy="289.11" r="1.65" fill="#fff" stroke="#DDA36E" stroke-width="0.65"/>
<circle cx="247.20" cy="294.21" r="1.2" fill="#fff" stroke="none" stroke-width="0"/>
<circle cx="247.20" cy="297.77" r="1.2" fill="#fff" stroke="none" stroke-width="0"/>
<rect x="251.25" y="298.79" width="4.10" height="13.24" fill="#2BA6DD" stroke="#1C86BD" stroke-width="0.4" rx="0" />
<line x1="253.30" y1="298.79" x2="253.30" y2="295.73" stroke="#1C86BD" stroke-width="0.5" />
<line x1="252.40" y1="295.73" x2="254.20" y2="295.73" stroke="#1C86BD" stroke-width="0.5" />
<circle cx="253.30" cy="290.13" r="1.65" fill="#fff" stroke="#55B8E8" stroke-width="0.65"/>
<circle cx="253.30" cy="296.75" r="1.65" fill="#fff" stroke="#55B8E8" stroke-width="0.65"/>
<circle cx="253.30" cy="302.87" r="1.2" fill="#fff" stroke="none" stroke-width="0"/>
<rect x="257.45" y="310.76" width="4.10" height="1.27" fill="#465064" stroke="#323a4c" stroke-width="0.4" rx="0" />
<line x1="259.50" y1="310.76" x2="259.50" y2="307.70" stroke="#323a4c" stroke-width="0.5" />
<line x1="258.60" y1="307.70" x2="260.40" y2="307.70" stroke="#323a4c" stroke-width="0.5" />
<circle cx="259.50" cy="305.92" r="1.65" fill="#fff" stroke="#7a8294" stroke-width="0.65"/>
<circle cx="259.50" cy="309.49" r="1.65" fill="#fff" stroke="#7a8294" stroke-width="0.65"/>
<circle cx="259.50" cy="312.03" r="1.65" fill="#fff" stroke="#7a8294" stroke-width="0.65"/>
<line x1="246.30" y1="258.50" x2="259.70" y2="258.50" stroke="#666" stroke-width="0.8" />
<text x="253.00" y="259.10" font-size="6.6" text-anchor="middle" fill="#333" font-weight="bold">***</text>
<line x1="276.00" y1="337.50" x2="276.00" y2="339.50" stroke="#222" stroke-width="0.7" />
<rect x="268.15" y="277.40" width="4.10" height="34.63" fill="#C06A1C" stroke="#9A5212" stroke-width="0.4" rx="0" />
<line x1="270.20" y1="277.40" x2="270.20" y2="274.34" stroke="#9A5212" stroke-width="0.5" />
<line x1="269.30" y1="274.34" x2="271.10" y2="274.34" stroke="#9A5212" stroke-width="0.5" />
<circle cx="270.20" cy="272.31" r="1.65" fill="#fff" stroke="#DDA36E" stroke-width="0.65"/>
<circle cx="270.20" cy="276.38" r="1.65" fill="#fff" stroke="#DDA36E" stroke-width="0.65"/>
<circle cx="270.20" cy="281.47" r="1.2" fill="#fff" stroke="none" stroke-width="0"/>
<rect x="274.25" y="289.11" width="4.10" height="22.92" fill="#2BA6DD" stroke="#1C86BD" stroke-width="0.4" rx="0" />
<line x1="276.30" y1="289.11" x2="276.30" y2="286.06" stroke="#1C86BD" stroke-width="0.5" />
<line x1="275.40" y1="286.06" x2="277.20" y2="286.06" stroke="#1C86BD" stroke-width="0.5" />
<circle cx="276.30" cy="284.53" r="1.65" fill="#fff" stroke="#55B8E8" stroke-width="0.65"/>
<circle cx="276.30" cy="287.59" r="1.65" fill="#fff" stroke="#55B8E8" stroke-width="0.65"/>
<circle cx="276.30" cy="295.73" r="1.2" fill="#fff" stroke="none" stroke-width="0"/>
<rect x="280.45" y="311.52" width="4.10" height="0.51" fill="#465064" stroke="#323a4c" stroke-width="0.4" rx="0" />
<line x1="282.50" y1="311.52" x2="282.50" y2="308.47" stroke="#323a4c" stroke-width="0.5" />
<line x1="281.60" y1="308.47" x2="283.40" y2="308.47" stroke="#323a4c" stroke-width="0.5" />
<circle cx="282.50" cy="304.90" r="1.65" fill="#fff" stroke="#7a8294" stroke-width="0.65"/>
<circle cx="282.50" cy="309.49" r="1.65" fill="#fff" stroke="#7a8294" stroke-width="0.65"/>
<circle cx="282.50" cy="318.15" r="1.65" fill="#fff" stroke="#7a8294" stroke-width="0.65"/>
<line x1="269.30" y1="258.50" x2="282.70" y2="258.50" stroke="#666" stroke-width="0.8" />
<text x="276.00" y="259.10" font-size="6.6" text-anchor="middle" fill="#333" font-weight="bold">****</text>
<line x1="299.00" y1="337.50" x2="299.00" y2="339.50" stroke="#222" stroke-width="0.7" />
<rect x="291.15" y="265.68" width="4.10" height="46.35" fill="#C06A1C" stroke="#9A5212" stroke-width="0.4" rx="0" />
<line x1="293.20" y1="265.68" x2="293.20" y2="262.63" stroke="#9A5212" stroke-width="0.5" />
<line x1="292.30" y1="262.63" x2="294.10" y2="262.63" stroke="#9A5212" stroke-width="0.5" />
<circle cx="293.20" cy="261.61" r="1.65" fill="#fff" stroke="#DDA36E" stroke-width="0.65"/>
<circle cx="293.20" cy="263.65" r="1.65" fill="#fff" stroke="#DDA36E" stroke-width="0.65"/>
<circle cx="293.20" cy="268.74" r="1.2" fill="#fff" stroke="none" stroke-width="0"/>
<rect x="297.25" y="276.38" width="4.10" height="35.65" fill="#2BA6DD" stroke="#1C86BD" stroke-width="0.4" rx="0" />
<line x1="299.30" y1="276.38" x2="299.30" y2="273.32" stroke="#1C86BD" stroke-width="0.5" />
<line x1="298.40" y1="273.32" x2="300.20" y2="273.32" stroke="#1C86BD" stroke-width="0.5" />
<circle cx="299.30" cy="267.72" r="1.65" fill="#fff" stroke="#55B8E8" stroke-width="0.65"/>
<circle cx="299.30" cy="276.38" r="1.65" fill="#fff" stroke="#55B8E8" stroke-width="0.65"/>
<circle cx="299.30" cy="285.55" r="1.2" fill="#fff" stroke="none" stroke-width="0"/>
<rect x="303.45" y="310.51" width="4.10" height="1.53" fill="#465064" stroke="#323a4c" stroke-width="0.4" rx="0" />
<line x1="305.50" y1="310.51" x2="305.50" y2="307.45" stroke="#323a4c" stroke-width="0.5" />
<line x1="304.60" y1="307.45" x2="306.40" y2="307.45" stroke="#323a4c" stroke-width="0.5" />
<circle cx="305.50" cy="303.88" r="1.65" fill="#fff" stroke="#7a8294" stroke-width="0.65"/>
<circle cx="305.50" cy="307.96" r="1.65" fill="#fff" stroke="#7a8294" stroke-width="0.65"/>
<circle cx="305.50" cy="310.51" r="1.65" fill="#fff" stroke="#7a8294" stroke-width="0.65"/>
<line x1="292.30" y1="258.50" x2="305.70" y2="258.50" stroke="#666" stroke-width="0.8" />
<text x="299.00" y="259.10" font-size="6.6" text-anchor="middle" fill="#333" font-weight="bold">****</text>
<line x1="243.20" y1="312.03" x2="309.80" y2="312.03" stroke="#222" stroke-width="1.0" />
<text x="0" y="0" font-size="6.78" text-anchor="middle" fill="#222" stroke="#222" stroke-width="0.15" textLength="19.21" lengthAdjust="spacingAndGlyphs" transform="translate(253.00 346.90) scale(0.8850 1)" dominant-baseline="central" >0.25:1</text>
<text x="0" y="0" font-size="6.78" text-anchor="middle" fill="#222" stroke="#222" stroke-width="0.15" textLength="15.25" lengthAdjust="spacingAndGlyphs" transform="translate(276.00 346.90) scale(0.8850 1)" dominant-baseline="central" >0.5:1</text>
<text x="0" y="0" font-size="6.78" text-anchor="middle" fill="#222" stroke="#222" stroke-width="0.15" textLength="9.04" lengthAdjust="spacingAndGlyphs" transform="translate(299.00 346.90) scale(0.8850 1)" dominant-baseline="central" >1:1</text>
<line x1="243.20" y1="365.80" x2="243.20" y2="445.40" stroke="#222" stroke-width="1.1" />
<line x1="240.60" y1="368.40" x2="243.20" y2="368.40" stroke="#222" stroke-width="0.8" />
<text x="0" y="0" font-size="6.55" text-anchor="end" fill="#3a3a3a" stroke="#3a3a3a" stroke-width="0.15" transform="translate(237.20 368.40) scale(0.8850 1)" dominant-baseline="central" >100</text>
<line x1="240.60" y1="394.07" x2="243.20" y2="394.07" stroke="#222" stroke-width="0.8" />
<text x="0" y="0" font-size="6.55" text-anchor="end" fill="#3a3a3a" stroke="#3a3a3a" stroke-width="0.15" transform="translate(237.20 394.07) scale(0.8850 1)" dominant-baseline="central" >50</text>
<line x1="240.60" y1="419.73" x2="243.20" y2="419.73" stroke="#222" stroke-width="0.8" />
<text x="0" y="0" font-size="6.55" text-anchor="end" fill="#3a3a3a" stroke="#3a3a3a" stroke-width="0.15" transform="translate(237.20 419.73) scale(0.8850 1)" dominant-baseline="central" >0</text>
<line x1="240.60" y1="445.40" x2="243.20" y2="445.40" stroke="#222" stroke-width="0.8" />
<text x="0" y="0" font-size="6.55" text-anchor="end" fill="#3a3a3a" stroke="#3a3a3a" stroke-width="0.15" transform="translate(237.20 445.40) scale(0.8850 1)" dominant-baseline="central" >−50</text>
<line x1="240.20" y1="445.40" x2="309.80" y2="445.40" stroke="#222" stroke-width="1.0" />
<line x1="253.00" y1="445.40" x2="253.00" y2="447.40" stroke="#222" stroke-width="0.7" />
<rect x="245.15" y="396.12" width="4.10" height="23.61" fill="#C06A1C" stroke="#9A5212" stroke-width="0.4" rx="0" />
<line x1="247.20" y1="396.12" x2="247.20" y2="393.04" stroke="#9A5212" stroke-width="0.5" />
<line x1="246.30" y1="393.04" x2="248.10" y2="393.04" stroke="#9A5212" stroke-width="0.5" />
<circle cx="247.20" cy="387.39" r="1.65" fill="#fff" stroke="#DDA36E" stroke-width="0.65"/>
<circle cx="247.20" cy="394.07" r="1.65" fill="#fff" stroke="#DDA36E" stroke-width="0.65"/>
<circle cx="247.20" cy="399.20" r="1.2" fill="#fff" stroke="none" stroke-width="0"/>
<circle cx="247.20" cy="408.44" r="1.2" fill="#fff" stroke="none" stroke-width="0"/>
<rect x="251.25" y="398.17" width="4.10" height="21.56" fill="#2BA6DD" stroke="#1C86BD" stroke-width="0.4" rx="0" />
<line x1="253.30" y1="398.17" x2="253.30" y2="395.09" stroke="#1C86BD" stroke-width="0.5" />
<line x1="252.40" y1="395.09" x2="254.20" y2="395.09" stroke="#1C86BD" stroke-width="0.5" />
<circle cx="253.30" cy="387.39" r="1.65" fill="#fff" stroke="#55B8E8" stroke-width="0.65"/>
<circle cx="253.30" cy="396.63" r="1.65" fill="#fff" stroke="#55B8E8" stroke-width="0.65"/>
<circle cx="253.30" cy="405.36" r="1.2" fill="#fff" stroke="none" stroke-width="0"/>
<rect x="257.45" y="419.73" width="4.10" height="1.54" fill="#465064" stroke="#323a4c" stroke-width="0.4" rx="0" />
<line x1="259.50" y1="421.27" x2="259.50" y2="424.35" stroke="#323a4c" stroke-width="0.5" />
<line x1="258.60" y1="424.35" x2="260.40" y2="424.35" stroke="#323a4c" stroke-width="0.5" />
<circle cx="259.50" cy="420.76" r="1.65" fill="#fff" stroke="#7a8294" stroke-width="0.65"/>
<circle cx="259.50" cy="422.81" r="1.65" fill="#fff" stroke="#7a8294" stroke-width="0.65"/>
<circle cx="259.50" cy="424.87" r="1.65" fill="#fff" stroke="#7a8294" stroke-width="0.65"/>
<line x1="246.30" y1="367.20" x2="259.70" y2="367.20" stroke="#666" stroke-width="0.8" />
<text x="253.00" y="367.80" font-size="6.6" text-anchor="middle" fill="#333" font-weight="bold">**</text>
<line x1="276.00" y1="445.40" x2="276.00" y2="447.40" stroke="#222" stroke-width="0.7" />
<rect x="268.15" y="386.88" width="4.10" height="32.85" fill="#C06A1C" stroke="#9A5212" stroke-width="0.4" rx="0" />
<line x1="270.20" y1="386.88" x2="270.20" y2="383.80" stroke="#9A5212" stroke-width="0.5" />
<line x1="269.30" y1="383.80" x2="271.10" y2="383.80" stroke="#9A5212" stroke-width="0.5" />
<circle cx="270.20" cy="376.10" r="1.65" fill="#fff" stroke="#DDA36E" stroke-width="0.65"/>
<circle cx="270.20" cy="382.77" r="1.65" fill="#fff" stroke="#DDA36E" stroke-width="0.65"/>
<circle cx="270.20" cy="388.93" r="1.2" fill="#fff" stroke="none" stroke-width="0"/>
<circle cx="270.20" cy="396.63" r="1.2" fill="#fff" stroke="none" stroke-width="0"/>
<rect x="274.25" y="389.96" width="4.10" height="29.77" fill="#2BA6DD" stroke="#1C86BD" stroke-width="0.4" rx="0" />
<line x1="276.30" y1="389.96" x2="276.30" y2="386.88" stroke="#1C86BD" stroke-width="0.5" />
<line x1="275.40" y1="386.88" x2="277.20" y2="386.88" stroke="#1C86BD" stroke-width="0.5" />
<circle cx="276.30" cy="375.59" r="1.65" fill="#fff" stroke="#55B8E8" stroke-width="0.65"/>
<circle cx="276.30" cy="387.91" r="1.65" fill="#fff" stroke="#55B8E8" stroke-width="0.65"/>
<circle cx="276.30" cy="393.04" r="1.2" fill="#fff" stroke="none" stroke-width="0"/>
<circle cx="276.30" cy="398.17" r="1.2" fill="#fff" stroke="none" stroke-width="0"/>
<rect x="280.45" y="419.73" width="4.10" height="1.03" fill="#465064" stroke="#323a4c" stroke-width="0.4" rx="0" />
<line x1="282.50" y1="420.76" x2="282.50" y2="423.84" stroke="#323a4c" stroke-width="0.5" />
<line x1="281.60" y1="423.84" x2="283.40" y2="423.84" stroke="#323a4c" stroke-width="0.5" />
<circle cx="282.50" cy="421.27" r="1.65" fill="#fff" stroke="#7a8294" stroke-width="0.65"/>
<circle cx="282.50" cy="422.30" r="1.65" fill="#fff" stroke="#7a8294" stroke-width="0.65"/>
<line x1="269.30" y1="367.20" x2="282.70" y2="367.20" stroke="#666" stroke-width="0.8" />
<text x="276.00" y="367.80" font-size="6.6" text-anchor="middle" fill="#333" font-weight="bold">***</text>
<line x1="299.00" y1="445.40" x2="299.00" y2="447.40" stroke="#222" stroke-width="0.7" />
<rect x="291.15" y="378.15" width="4.10" height="41.58" fill="#C06A1C" stroke="#9A5212" stroke-width="0.4" rx="0" />
<line x1="293.20" y1="378.15" x2="293.20" y2="375.07" stroke="#9A5212" stroke-width="0.5" />
<line x1="292.30" y1="375.07" x2="294.10" y2="375.07" stroke="#9A5212" stroke-width="0.5" />
<circle cx="293.20" cy="369.94" r="1.65" fill="#fff" stroke="#DDA36E" stroke-width="0.65"/>
<circle cx="293.20" cy="374.56" r="1.65" fill="#fff" stroke="#DDA36E" stroke-width="0.65"/>
<circle cx="293.20" cy="378.67" r="1.65" fill="#fff" stroke="#DDA36E" stroke-width="0.65"/>
<circle cx="293.20" cy="384.83" r="1.2" fill="#fff" stroke="none" stroke-width="0"/>
<rect x="297.25" y="379.69" width="4.10" height="40.04" fill="#2BA6DD" stroke="#1C86BD" stroke-width="0.4" rx="0" />
<line x1="299.30" y1="379.69" x2="299.30" y2="376.61" stroke="#1C86BD" stroke-width="0.5" />
<line x1="298.40" y1="376.61" x2="300.20" y2="376.61" stroke="#1C86BD" stroke-width="0.5" />
<circle cx="299.30" cy="370.45" r="1.65" fill="#fff" stroke="#55B8E8" stroke-width="0.65"/>
<circle cx="299.30" cy="379.69" r="1.65" fill="#fff" stroke="#55B8E8" stroke-width="0.65"/>
<circle cx="299.30" cy="383.80" r="1.2" fill="#fff" stroke="none" stroke-width="0"/>
<rect x="303.45" y="419.73" width="4.10" height="1.03" fill="#465064" stroke="#323a4c" stroke-width="0.4" rx="0" />
<line x1="305.50" y1="420.76" x2="305.50" y2="423.84" stroke="#323a4c" stroke-width="0.5" />
<line x1="304.60" y1="423.84" x2="306.40" y2="423.84" stroke="#323a4c" stroke-width="0.5" />
<circle cx="305.50" cy="418.71" r="1.65" fill="#fff" stroke="#7a8294" stroke-width="0.65"/>
<circle cx="305.50" cy="420.76" r="1.65" fill="#fff" stroke="#7a8294" stroke-width="0.65"/>
<circle cx="305.50" cy="423.84" r="1.65" fill="#fff" stroke="#7a8294" stroke-width="0.65"/>
<circle cx="305.50" cy="427.43" r="1.65" fill="#fff" stroke="#7a8294" stroke-width="0.65"/>
<line x1="292.30" y1="367.20" x2="305.70" y2="367.20" stroke="#666" stroke-width="0.8" />
<text x="299.00" y="367.80" font-size="6.6" text-anchor="middle" fill="#333" font-weight="bold">****</text>
<line x1="243.20" y1="419.73" x2="309.80" y2="419.73" stroke="#222" stroke-width="1.0" />
<text x="0" y="0" font-size="6.78" text-anchor="middle" fill="#222" stroke="#222" stroke-width="0.15" textLength="19.21" lengthAdjust="spacingAndGlyphs" transform="translate(253.00 454.80) scale(0.8850 1)" dominant-baseline="central" >0.25:1</text>
<text x="0" y="0" font-size="6.78" text-anchor="middle" fill="#222" stroke="#222" stroke-width="0.15" textLength="15.25" lengthAdjust="spacingAndGlyphs" transform="translate(276.00 454.80) scale(0.8850 1)" dominant-baseline="central" >0.5:1</text>
<text x="0" y="0" font-size="6.78" text-anchor="middle" fill="#222" stroke="#222" stroke-width="0.15" textLength="9.04" lengthAdjust="spacingAndGlyphs" transform="translate(299.00 454.80) scale(0.8850 1)" dominant-baseline="central" >1:1</text>
<line x1="243.20" y1="469.10" x2="243.20" y2="548.40" stroke="#222" stroke-width="1.1" />
<line x1="240.60" y1="471.70" x2="243.20" y2="471.70" stroke="#222" stroke-width="0.8" />
<text x="0" y="0" font-size="6.55" text-anchor="end" fill="#3a3a3a" stroke="#3a3a3a" stroke-width="0.15" transform="translate(237.20 471.70) scale(0.8850 1)" dominant-baseline="central" >100</text>
<line x1="240.60" y1="497.27" x2="243.20" y2="497.27" stroke="#222" stroke-width="0.8" />
<text x="0" y="0" font-size="6.55" text-anchor="end" fill="#3a3a3a" stroke="#3a3a3a" stroke-width="0.15" transform="translate(237.20 497.27) scale(0.8850 1)" dominant-baseline="central" >50</text>
<line x1="240.60" y1="522.83" x2="243.20" y2="522.83" stroke="#222" stroke-width="0.8" />
<text x="0" y="0" font-size="6.55" text-anchor="end" fill="#3a3a3a" stroke="#3a3a3a" stroke-width="0.15" transform="translate(237.20 522.83) scale(0.8850 1)" dominant-baseline="central" >0</text>
<line x1="240.60" y1="548.40" x2="243.20" y2="548.40" stroke="#222" stroke-width="0.8" />
<text x="0" y="0" font-size="6.55" text-anchor="end" fill="#3a3a3a" stroke="#3a3a3a" stroke-width="0.15" transform="translate(237.20 548.40) scale(0.8850 1)" dominant-baseline="central" >−50</text>
<line x1="240.20" y1="548.40" x2="309.80" y2="548.40" stroke="#222" stroke-width="1.0" />
<line x1="253.00" y1="548.40" x2="253.00" y2="550.40" stroke="#222" stroke-width="0.7" />
<line x1="247.20" y1="522.83" x2="247.20" y2="519.77" stroke="#DDA36E" stroke-width="0.5" />
<line x1="246.30" y1="519.77" x2="248.10" y2="519.77" stroke="#DDA36E" stroke-width="0.5" />
<circle cx="247.20" cy="520.28" r="1.65" fill="#fff" stroke="#DDA36E" stroke-width="0.65"/>
<circle cx="247.20" cy="522.32" r="1.65" fill="#fff" stroke="#DDA36E" stroke-width="0.65"/>
<circle cx="247.20" cy="524.88" r="1.65" fill="#fff" stroke="#DDA36E" stroke-width="0.65"/>
<rect x="251.25" y="503.91" width="4.10" height="18.92" fill="#2BA6DD" stroke="#1C86BD" stroke-width="0.4" rx="0" />
<line x1="253.30" y1="503.91" x2="253.30" y2="500.85" stroke="#1C86BD" stroke-width="0.5" />
<line x1="252.40" y1="500.85" x2="254.20" y2="500.85" stroke="#1C86BD" stroke-width="0.5" />
<circle cx="253.30" cy="500.33" r="1.65" fill="#fff" stroke="#55B8E8" stroke-width="0.65"/>
<circle cx="253.30" cy="503.40" r="1.65" fill="#fff" stroke="#55B8E8" stroke-width="0.65"/>
<circle cx="253.30" cy="504.94" r="1.65" fill="#fff" stroke="#55B8E8" stroke-width="0.65"/>
<rect x="257.45" y="500.85" width="4.10" height="21.99" fill="#465064" stroke="#323a4c" stroke-width="0.4" rx="0" />
<line x1="259.50" y1="500.85" x2="259.50" y2="497.78" stroke="#323a4c" stroke-width="0.5" />
<line x1="258.60" y1="497.78" x2="260.40" y2="497.78" stroke="#323a4c" stroke-width="0.5" />
<circle cx="259.50" cy="495.73" r="1.65" fill="#fff" stroke="#7a8294" stroke-width="0.65"/>
<circle cx="259.50" cy="498.29" r="1.65" fill="#fff" stroke="#7a8294" stroke-width="0.65"/>
<circle cx="259.50" cy="500.85" r="1.65" fill="#fff" stroke="#7a8294" stroke-width="0.65"/>
<circle cx="259.50" cy="507.49" r="1.2" fill="#fff" stroke="none" stroke-width="0"/>
<line x1="246.30" y1="474.50" x2="259.70" y2="474.50" stroke="#666" stroke-width="0.8" />
<text x="253.00" y="475.10" font-size="6.6" text-anchor="middle" fill="#333" font-weight="bold">***</text>
<line x1="276.00" y1="548.40" x2="276.00" y2="550.40" stroke="#222" stroke-width="0.7" />
<line x1="270.20" y1="522.83" x2="270.20" y2="519.77" stroke="#DDA36E" stroke-width="0.5" />
<line x1="269.30" y1="519.77" x2="271.10" y2="519.77" stroke="#DDA36E" stroke-width="0.5" />
<circle cx="270.20" cy="521.30" r="1.65" fill="#fff" stroke="#DDA36E" stroke-width="0.65"/>
<circle cx="270.20" cy="522.83" r="1.65" fill="#fff" stroke="#DDA36E" stroke-width="0.65"/>
<circle cx="270.20" cy="523.34" r="1.65" fill="#fff" stroke="#DDA36E" stroke-width="0.65"/>
<rect x="274.25" y="499.31" width="4.10" height="23.52" fill="#2BA6DD" stroke="#1C86BD" stroke-width="0.4" rx="0" />
<line x1="276.30" y1="499.31" x2="276.30" y2="496.24" stroke="#1C86BD" stroke-width="0.5" />
<line x1="275.40" y1="496.24" x2="277.20" y2="496.24" stroke="#1C86BD" stroke-width="0.5" />
<circle cx="276.30" cy="497.78" r="1.65" fill="#fff" stroke="#55B8E8" stroke-width="0.65"/>
<circle cx="276.30" cy="499.31" r="1.65" fill="#fff" stroke="#55B8E8" stroke-width="0.65"/>
<circle cx="276.30" cy="501.36" r="1.2" fill="#fff" stroke="none" stroke-width="0"/>
<rect x="280.45" y="496.24" width="4.10" height="26.59" fill="#465064" stroke="#323a4c" stroke-width="0.4" rx="0" />
<line x1="282.50" y1="496.24" x2="282.50" y2="493.18" stroke="#323a4c" stroke-width="0.5" />
<line x1="281.60" y1="493.18" x2="283.40" y2="493.18" stroke="#323a4c" stroke-width="0.5" />
<circle cx="282.50" cy="484.48" r="1.65" fill="#fff" stroke="#7a8294" stroke-width="0.65"/>
<circle cx="282.50" cy="496.24" r="1.65" fill="#fff" stroke="#7a8294" stroke-width="0.65"/>
<circle cx="282.50" cy="499.82" r="1.2" fill="#fff" stroke="none" stroke-width="0"/>
<circle cx="282.50" cy="503.40" r="1.2" fill="#fff" stroke="none" stroke-width="0"/>
<line x1="269.30" y1="474.50" x2="282.70" y2="474.50" stroke="#666" stroke-width="0.8" />
<text x="276.00" y="475.10" font-size="6.6" text-anchor="middle" fill="#333" font-weight="bold">****</text>
<line x1="299.00" y1="548.40" x2="299.00" y2="550.40" stroke="#222" stroke-width="0.7" />
<line x1="293.20" y1="522.83" x2="293.20" y2="519.77" stroke="#DDA36E" stroke-width="0.5" />
<line x1="292.30" y1="519.77" x2="294.10" y2="519.77" stroke="#DDA36E" stroke-width="0.5" />
<circle cx="293.20" cy="521.30" r="1.65" fill="#fff" stroke="#DDA36E" stroke-width="0.65"/>
<circle cx="293.20" cy="523.86" r="1.65" fill="#fff" stroke="#DDA36E" stroke-width="0.65"/>
<circle cx="293.20" cy="526.41" r="1.65" fill="#fff" stroke="#DDA36E" stroke-width="0.65"/>
<rect x="297.25" y="493.69" width="4.10" height="29.15" fill="#2BA6DD" stroke="#1C86BD" stroke-width="0.4" rx="0" />
<line x1="299.30" y1="493.69" x2="299.30" y2="490.62" stroke="#1C86BD" stroke-width="0.5" />
<line x1="298.40" y1="490.62" x2="300.20" y2="490.62" stroke="#1C86BD" stroke-width="0.5" />
<circle cx="299.30" cy="492.15" r="1.65" fill="#fff" stroke="#55B8E8" stroke-width="0.65"/>
<circle cx="299.30" cy="493.69" r="1.65" fill="#fff" stroke="#55B8E8" stroke-width="0.65"/>
<circle cx="299.30" cy="494.71" r="1.65" fill="#fff" stroke="#55B8E8" stroke-width="0.65"/>
<rect x="303.45" y="487.04" width="4.10" height="35.79" fill="#465064" stroke="#323a4c" stroke-width="0.4" rx="0" />
<line x1="305.50" y1="487.04" x2="305.50" y2="483.97" stroke="#323a4c" stroke-width="0.5" />
<line x1="304.60" y1="483.97" x2="306.40" y2="483.97" stroke="#323a4c" stroke-width="0.5" />
<circle cx="305.50" cy="478.35" r="1.65" fill="#fff" stroke="#7a8294" stroke-width="0.65"/>
<circle cx="305.50" cy="481.93" r="1.65" fill="#fff" stroke="#7a8294" stroke-width="0.65"/>
<circle cx="305.50" cy="487.04" r="1.65" fill="#fff" stroke="#7a8294" stroke-width="0.65"/>
<circle cx="305.50" cy="498.29" r="1.2" fill="#fff" stroke="none" stroke-width="0"/>
<line x1="292.30" y1="474.50" x2="305.70" y2="474.50" stroke="#666" stroke-width="0.8" />
<text x="299.00" y="475.10" font-size="6.6" text-anchor="middle" fill="#333" font-weight="bold">****</text>
<line x1="243.20" y1="522.83" x2="309.80" y2="522.83" stroke="#222" stroke-width="1.0" />
<text x="0" y="0" font-size="6.78" text-anchor="middle" fill="#222" stroke="#222" stroke-width="0.15" textLength="19.21" lengthAdjust="spacingAndGlyphs" transform="translate(253.00 557.80) scale(0.8850 1)" dominant-baseline="central" >0.25:1</text>
<text x="0" y="0" font-size="6.78" text-anchor="middle" fill="#222" stroke="#222" stroke-width="0.15" textLength="15.25" lengthAdjust="spacingAndGlyphs" transform="translate(276.00 557.80) scale(0.8850 1)" dominant-baseline="central" >0.5:1</text>
<text x="0" y="0" font-size="6.78" text-anchor="middle" fill="#222" stroke="#222" stroke-width="0.15" textLength="9.04" lengthAdjust="spacingAndGlyphs" transform="translate(299.00 557.80) scale(0.8850 1)" dominant-baseline="central" >1:1</text>
<line x1="219.30" y1="161.20" x2="219.30" y2="476.00" stroke="#777" stroke-width="0.9" />
<path d="M219.30,158.20 L217.70,162.20 L220.90,162.20 Z" fill="#222" stroke="none" stroke-width="0.8" />
<text x="0" y="0" font-size="7.91" text-anchor="middle" fill="#222" stroke="#222" stroke-width="0.15" textLength="80.00" lengthAdjust="spacingAndGlyphs" transform="translate(218.40 513.40) rotate(-90) scale(0.8850 1)" dominant-baseline="central" >Lysis of tumor cells [%]</text>
<text x="0" y="0" font-size="8.59" text-anchor="start" fill="#222" stroke="#222" stroke-width="0.15" textLength="44.63" lengthAdjust="spacingAndGlyphs" transform="translate(242.50 569.30) scale(0.8850 1)" dominant-baseline="central" >T cell : Tumor</text>
<text x="0" y="0" font-size="8.59" text-anchor="start" fill="#222" stroke="#222" stroke-width="0.15" textLength="27.68" lengthAdjust="spacingAndGlyphs" transform="translate(242.50 579.60) scale(0.8850 1)" dominant-baseline="central" >cell ratio</text>
<line x1="284.50" y1="569.30" x2="306.50" y2="569.30" stroke="#555" stroke-width="0.9" />
<path d="M309.50,569.30 L305.50,567.70 L305.50,570.90 Z" fill="#222" stroke="none" stroke-width="0.8" />
<text x="0" y="0" font-size="6.78" text-anchor="middle" fill="#DDA36E" stroke="#DDA36E" stroke-width="0.15" textLength="32.54" lengthAdjust="spacingAndGlyphs" transform="translate(212.70 376.00) rotate(-90) scale(0.8850 1)" dominant-baseline="central" >CD86-28z</text>
<text x="0" y="0" font-size="6.78" text-anchor="middle" fill="#55B8E8" stroke="#55B8E8" stroke-width="0.15" textLength="31.19" lengthAdjust="spacingAndGlyphs" transform="translate(212.70 407.50) rotate(-90) scale(0.8850 1)" dominant-baseline="central" >CD30-28z</text>
<text x="0" y="0" font-size="6.78" text-anchor="middle" fill="#555" stroke="#555" stroke-width="0.15" textLength="33.67" lengthAdjust="spacingAndGlyphs" transform="translate(212.70 438.50) rotate(-90) scale(0.8850 1)" dominant-baseline="central" >CD19-28z</text>
<line x1="344.50" y1="149.40" x2="344.50" y2="230.40" stroke="#222" stroke-width="1.1" />
<line x1="341.90" y1="152.10" x2="344.50" y2="152.10" stroke="#222" stroke-width="0.8" />
<text x="0" y="0" font-size="6.44" text-anchor="end" fill="#3a3a3a" stroke="#3a3a3a" stroke-width="0.15" transform="translate(338.30 152.10) scale(0.8850 1)" dominant-baseline="central" >150</text>
<line x1="341.90" y1="178.20" x2="344.50" y2="178.20" stroke="#222" stroke-width="0.8" />
<text x="0" y="0" font-size="6.44" text-anchor="end" fill="#3a3a3a" stroke="#3a3a3a" stroke-width="0.15" transform="translate(338.30 178.20) scale(0.8850 1)" dominant-baseline="central" >100</text>
<line x1="341.90" y1="204.30" x2="344.50" y2="204.30" stroke="#222" stroke-width="0.8" />
<text x="0" y="0" font-size="6.44" text-anchor="end" fill="#3a3a3a" stroke="#3a3a3a" stroke-width="0.15" transform="translate(338.30 204.30) scale(0.8850 1)" dominant-baseline="central" >50</text>
<line x1="341.90" y1="230.40" x2="344.50" y2="230.40" stroke="#222" stroke-width="0.8" />
<text x="0" y="0" font-size="6.44" text-anchor="end" fill="#3a3a3a" stroke="#3a3a3a" stroke-width="0.15" transform="translate(338.30 230.40) scale(0.8850 1)" dominant-baseline="central" >0</text>
<rect x="346.70" y="174.00" width="4.10" height="56.40" fill="#C06A1C" stroke="#9A5212" stroke-width="0.4" rx="0" />
<circle cx="348.75" cy="169.00" r="1.65" fill="#fff" stroke="#DDA36E" stroke-width="0.65"/>
<circle cx="348.75" cy="172.00" r="1.65" fill="#fff" stroke="#DDA36E" stroke-width="0.65"/>
<circle cx="348.75" cy="178.00" r="1.0" fill="#fff" stroke="none" stroke-width="0"/>
<rect x="353.40" y="205.20" width="3.60" height="25.20" fill="#2BA6DD" stroke="#1C86BD" stroke-width="0.4" rx="0" />
<circle cx="355.20" cy="201.50" r="1.65" fill="#fff" stroke="#55B8E8" stroke-width="0.65"/>
<circle cx="355.20" cy="204.00" r="1.65" fill="#fff" stroke="#55B8E8" stroke-width="0.65"/>
<circle cx="355.20" cy="209.20" r="1.0" fill="#fff" stroke="none" stroke-width="0"/>
<line x1="341.70" y1="230.40" x2="366.00" y2="230.40" stroke="#222" stroke-width="1.1" />
<circle cx="362.00" cy="229.20" r="1.6" fill="#fff" stroke="#555" stroke-width="0.65"/>
<line x1="354.90" y1="154.80" x2="363.00" y2="154.80" stroke="#666" stroke-width="0.8" />
<text x="358.95" y="155.40" font-size="6.6" text-anchor="middle" fill="#333" font-weight="bold">***</text>
<line x1="348.80" y1="160.00" x2="357.00" y2="160.00" stroke="#666" stroke-width="0.8" />
<text x="352.90" y="160.60" font-size="6.6" text-anchor="middle" fill="#333" font-weight="bold">***</text>
<line x1="348.80" y1="166.60" x2="361.00" y2="166.60" stroke="#666" stroke-width="0.8" />
<text x="354.90" y="167.20" font-size="6.6" text-anchor="middle" fill="#333" font-weight="bold">****</text>
<line x1="344.50" y1="257.50" x2="344.50" y2="337.10" stroke="#222" stroke-width="1.1" />
<line x1="341.90" y1="259.00" x2="344.50" y2="259.00" stroke="#222" stroke-width="0.8" />
<text x="0" y="0" font-size="6.44" text-anchor="end" fill="#3a3a3a" stroke="#3a3a3a" stroke-width="0.15" transform="translate(338.30 259.00) scale(0.8850 1)" dominant-baseline="central" >150</text>
<line x1="341.90" y1="284.70" x2="344.50" y2="284.70" stroke="#222" stroke-width="0.8" />
<text x="0" y="0" font-size="6.44" text-anchor="end" fill="#3a3a3a" stroke="#3a3a3a" stroke-width="0.15" transform="translate(338.30 284.70) scale(0.8850 1)" dominant-baseline="central" >100</text>
<line x1="341.90" y1="311.10" x2="344.50" y2="311.10" stroke="#222" stroke-width="0.8" />
<text x="0" y="0" font-size="6.44" text-anchor="end" fill="#3a3a3a" stroke="#3a3a3a" stroke-width="0.15" transform="translate(338.30 311.10) scale(0.8850 1)" dominant-baseline="central" >50</text>
<line x1="341.90" y1="337.10" x2="344.50" y2="337.10" stroke="#222" stroke-width="0.8" />
<text x="0" y="0" font-size="6.44" text-anchor="end" fill="#3a3a3a" stroke="#3a3a3a" stroke-width="0.15" transform="translate(338.30 337.10) scale(0.8850 1)" dominant-baseline="central" >0</text>
<rect x="346.70" y="273.60" width="4.10" height="63.50" fill="#C06A1C" stroke="#9A5212" stroke-width="0.4" rx="0" />
<circle cx="348.75" cy="266.00" r="1.65" fill="#fff" stroke="#DDA36E" stroke-width="0.65"/>
<circle cx="348.75" cy="271.50" r="1.65" fill="#fff" stroke="#DDA36E" stroke-width="0.65"/>
<circle cx="348.75" cy="274.00" r="1.65" fill="#fff" stroke="#DDA36E" stroke-width="0.65"/>
<circle cx="348.75" cy="277.60" r="1.0" fill="#fff" stroke="none" stroke-width="0"/>
<rect x="353.40" y="300.40" width="3.60" height="36.70" fill="#2BA6DD" stroke="#1C86BD" stroke-width="0.4" rx="0" />
<circle cx="355.20" cy="298.00" r="1.65" fill="#fff" stroke="#55B8E8" stroke-width="0.65"/>
<circle cx="355.20" cy="300.50" r="1.65" fill="#fff" stroke="#55B8E8" stroke-width="0.65"/>
<circle cx="355.20" cy="304.40" r="1.0" fill="#fff" stroke="none" stroke-width="0"/>
<line x1="341.70" y1="337.10" x2="366.00" y2="337.10" stroke="#222" stroke-width="1.1" />
<circle cx="362.00" cy="335.90" r="1.6" fill="#fff" stroke="#555" stroke-width="0.65"/>
<line x1="353.70" y1="252.90" x2="363.80" y2="252.90" stroke="#666" stroke-width="0.8" />
<text x="358.75" y="253.50" font-size="6.6" text-anchor="middle" fill="#333" font-weight="bold">****</text>
<line x1="348.60" y1="256.90" x2="356.70" y2="256.90" stroke="#666" stroke-width="0.8" />
<text x="352.65" y="257.50" font-size="6.6" text-anchor="middle" fill="#333" font-weight="bold">***</text>
<line x1="348.60" y1="263.40" x2="361.50" y2="263.40" stroke="#666" stroke-width="0.8" />
<text x="355.05" y="264.00" font-size="6.6" text-anchor="middle" fill="#333" font-weight="bold">****</text>
<line x1="352.20" y1="345.70" x2="363.80" y2="345.70" stroke="#666" stroke-width="0.8" />
<text x="358.00" y="346.30" font-size="6.6" text-anchor="middle" fill="#333" font-weight="bold">****</text>
<line x1="344.50" y1="366.40" x2="344.50" y2="445.10" stroke="#222" stroke-width="1.1" />
<line x1="341.90" y1="367.90" x2="344.50" y2="367.90" stroke="#222" stroke-width="0.8" />
<text x="0" y="0" font-size="6.44" text-anchor="end" fill="#3a3a3a" stroke="#3a3a3a" stroke-width="0.15" transform="translate(338.30 367.90) scale(0.8850 1)" dominant-baseline="central" >400</text>
<line x1="341.90" y1="387.20" x2="344.50" y2="387.20" stroke="#222" stroke-width="0.8" />
<text x="0" y="0" font-size="6.44" text-anchor="end" fill="#3a3a3a" stroke="#3a3a3a" stroke-width="0.15" transform="translate(338.30 387.20) scale(0.8850 1)" dominant-baseline="central" >300</text>
<line x1="341.90" y1="406.50" x2="344.50" y2="406.50" stroke="#222" stroke-width="0.8" />
<text x="0" y="0" font-size="6.44" text-anchor="end" fill="#3a3a3a" stroke="#3a3a3a" stroke-width="0.15" transform="translate(338.30 406.50) scale(0.8850 1)" dominant-baseline="central" >200</text>
<line x1="341.90" y1="425.80" x2="344.50" y2="425.80" stroke="#222" stroke-width="0.8" />
<text x="0" y="0" font-size="6.44" text-anchor="end" fill="#3a3a3a" stroke="#3a3a3a" stroke-width="0.15" transform="translate(338.30 425.80) scale(0.8850 1)" dominant-baseline="central" >100</text>
<line x1="341.90" y1="445.10" x2="344.50" y2="445.10" stroke="#222" stroke-width="0.8" />
<text x="0" y="0" font-size="6.44" text-anchor="end" fill="#3a3a3a" stroke="#3a3a3a" stroke-width="0.15" transform="translate(338.30 445.10) scale(0.8850 1)" dominant-baseline="central" >0</text>
<rect x="346.70" y="404.40" width="4.10" height="40.70" fill="#C06A1C" stroke="#9A5212" stroke-width="0.4" rx="0" />
<circle cx="348.75" cy="398.00" r="1.65" fill="#fff" stroke="#DDA36E" stroke-width="0.65"/>
<circle cx="348.75" cy="402.00" r="1.65" fill="#fff" stroke="#DDA36E" stroke-width="0.65"/>
<circle cx="348.75" cy="406.00" r="1.65" fill="#fff" stroke="#DDA36E" stroke-width="0.65"/>
<circle cx="348.75" cy="408.40" r="1.0" fill="#fff" stroke="none" stroke-width="0"/>
<rect x="353.40" y="382.50" width="3.60" height="62.60" fill="#2BA6DD" stroke="#1C86BD" stroke-width="0.4" rx="0" />
<circle cx="355.20" cy="377.00" r="1.65" fill="#fff" stroke="#55B8E8" stroke-width="0.65"/>
<circle cx="355.20" cy="380.50" r="1.65" fill="#fff" stroke="#55B8E8" stroke-width="0.65"/>
<circle cx="355.20" cy="383.50" r="1.65" fill="#fff" stroke="#55B8E8" stroke-width="0.65"/>
<circle cx="355.20" cy="386.50" r="1.0" fill="#fff" stroke="none" stroke-width="0"/>
<line x1="341.70" y1="445.10" x2="366.00" y2="445.10" stroke="#222" stroke-width="1.1" />
<circle cx="362.00" cy="443.90" r="1.6" fill="#fff" stroke="#555" stroke-width="0.65"/>
<line x1="349.20" y1="366.70" x2="354.40" y2="366.70" stroke="#666" stroke-width="0.8" />
<text x="351.80" y="367.30" font-size="6.6" text-anchor="middle" fill="#333" font-weight="bold">**</text>
<line x1="349.20" y1="373.40" x2="361.00" y2="373.40" stroke="#666" stroke-width="0.8" />
<text x="355.10" y="374.00" font-size="6.6" text-anchor="middle" fill="#333" font-weight="bold">***</text>
<line x1="344.50" y1="467.80" x2="344.50" y2="548.00" stroke="#222" stroke-width="1.1" />
<line x1="341.90" y1="469.30" x2="344.50" y2="469.30" stroke="#222" stroke-width="0.8" />
<text x="0" y="0" font-size="6.44" text-anchor="end" fill="#3a3a3a" stroke="#3a3a3a" stroke-width="0.15" transform="translate(338.30 469.30) scale(0.8850 1)" dominant-baseline="central" >3</text>
<line x1="341.90" y1="495.50" x2="344.50" y2="495.50" stroke="#222" stroke-width="0.8" />
<text x="0" y="0" font-size="6.44" text-anchor="end" fill="#3a3a3a" stroke="#3a3a3a" stroke-width="0.15" transform="translate(338.30 495.50) scale(0.8850 1)" dominant-baseline="central" >2</text>
<line x1="341.90" y1="522.10" x2="344.50" y2="522.10" stroke="#222" stroke-width="0.8" />
<text x="0" y="0" font-size="6.44" text-anchor="end" fill="#3a3a3a" stroke="#3a3a3a" stroke-width="0.15" transform="translate(338.30 522.10) scale(0.8850 1)" dominant-baseline="central" >1</text>
<line x1="341.90" y1="548.00" x2="344.50" y2="548.00" stroke="#222" stroke-width="0.8" />
<text x="0" y="0" font-size="6.44" text-anchor="end" fill="#3a3a3a" stroke="#3a3a3a" stroke-width="0.15" transform="translate(338.30 548.00) scale(0.8850 1)" dominant-baseline="central" >0</text>
<rect x="363.20" y="481.70" width="4.40" height="66.30" fill="#465064" stroke="#323a4c" stroke-width="0.4" rx="0" />
<circle cx="365.40" cy="480.50" r="1.65" fill="#fff" stroke="#7a8294" stroke-width="0.65"/>
<circle cx="365.40" cy="485.70" r="1.0" fill="#fff" stroke="none" stroke-width="0"/>
<line x1="341.70" y1="548.00" x2="369.00" y2="548.00" stroke="#222" stroke-width="1.1" />
<circle cx="349.50" cy="548.00" r="1.6" fill="#fff" stroke="#DDA36E" stroke-width="0.65"/>
<text x="0" y="0" font-size="6.78" text-anchor="middle" fill="#222" stroke="#222" stroke-width="0.15" textLength="10.85" lengthAdjust="spacingAndGlyphs" transform="translate(357.70 543.20) scale(0.8850 1)" dominant-baseline="central" >n.d</text>
<line x1="352.10" y1="473.30" x2="364.30" y2="473.30" stroke="#666" stroke-width="0.8" />
<text x="358.20" y="473.90" font-size="6.6" text-anchor="middle" fill="#333" font-weight="bold">****</text>
<line x1="325.00" y1="161.50" x2="325.00" y2="501.00" stroke="#777" stroke-width="0.9" />
<path d="M325.00,158.50 L323.40,162.50 L326.60,162.50 Z" fill="#222" stroke="none" stroke-width="0.8" />
<text x="0" y="0" font-size="7.0" text-anchor="middle" dominant-baseline="central" fill="#222" textLength="46.6" lengthAdjust="spacingAndGlyphs" transform="translate(323.6 527.0) rotate(-90)">hIFN-γ [ng/ml]</text>
<text x="0" y="0" font-size="6.78" text-anchor="middle" fill="#DDA36E" stroke="#DDA36E" stroke-width="0.15" textLength="29.83" lengthAdjust="spacingAndGlyphs" transform="translate(318.30 375.40) rotate(-90) scale(0.8850 1)" dominant-baseline="central" >CD86-28z</text>
<text x="0" y="0" font-size="6.78" text-anchor="middle" fill="#55B8E8" stroke="#55B8E8" stroke-width="0.15" textLength="31.64" lengthAdjust="spacingAndGlyphs" transform="translate(318.30 406.00) rotate(-90) scale(0.8850 1)" dominant-baseline="central" >CD30-28z</text>
<text x="0" y="0" font-size="6.78" text-anchor="middle" fill="#555" stroke="#555" stroke-width="0.15" textLength="32.32" lengthAdjust="spacingAndGlyphs" transform="translate(318.30 437.30) rotate(-90) scale(0.8850 1)" dominant-baseline="central" >CD19-28z</text>
<line x1="387.50" y1="169.80" x2="465.60" y2="169.80" stroke="#CDB49A" stroke-width="0.8" />
<path d="M388.0,169.8 L388.0,169.8 L388.7,169.8 L389.4,169.8 L390.1,169.8 L390.8,169.8 L391.5,169.8 L392.2,169.8 L392.9,169.8 L393.6,169.8 L394.3,169.8 L395.0,169.8 L395.7,169.8 L396.4,169.8 L397.1,169.8 L397.8,169.8 L398.5,169.8 L399.2,169.8 L399.9,169.8 L400.6,169.8 L401.3,169.8 L402.0,169.8 L402.7,169.8 L403.4,169.8 L404.1,169.8 L404.8,169.8 L405.5,169.7 L406.2,169.7 L406.9,169.7 L407.6,169.6 L408.3,169.5 L409.0,169.4 L409.7,169.1 L410.4,168.8 L411.1,168.7 L411.8,168.3 L412.5,168.0 L413.2,167.9 L413.9,167.3 L414.6,167.1 L415.3,167.0 L416.0,166.7 L416.7,166.5 L417.4,166.6 L418.1,166.3 L418.8,166.0 L419.5,166.0 L420.2,165.6 L420.9,165.3 L421.6,164.7 L422.3,164.4 L423.0,163.8 L423.7,162.9 L424.4,162.4 L425.1,161.0 L425.8,160.5 L426.5,160.9 L427.2,160.8 L427.9,161.2 L428.6,162.1 L429.3,163.0 L430.0,163.5 L430.7,164.4 L431.4,164.5 L432.1,164.6 L432.8,164.7 L433.5,163.9 L434.2,163.7 L434.9,163.1 L435.6,161.8 L436.3,161.3 L437.0,160.5 L437.7,159.5 L438.4,158.8 L439.1,157.9 L439.8,157.0 L440.5,156.3 L441.2,156.3 L441.9,155.0 L442.6,155.2 L443.3,155.9 L444.0,156.0 L444.7,155.8 L445.4,156.6 L446.1,157.7 L446.8,158.9 L447.5,160.4 L448.2,161.4 L448.9,162.7 L449.6,164.1 L450.3,165.2 L451.0,166.2 L451.7,166.7 L452.4,167.2 L453.1,167.7 L453.8,168.4 L454.5,168.9 L455.2,169.0 L455.9,169.3 L456.6,169.4 L457.3,169.6 L458.0,169.6 L458.7,169.7 L459.4,169.7 L460.1,169.8 L460.8,169.8 L461.5,169.8 L462.2,169.8 L462.9,169.8 L463.6,169.8 L464.3,169.8 L465.0,169.8 L465.1,169.8 Z" fill="#D99C5E" stroke="#BE8040" stroke-width="0.45" stroke-linejoin="round" fill-opacity="0.9"/>
<line x1="387.50" y1="177.30" x2="465.60" y2="177.30" stroke="#DCC8B4" stroke-width="0.8" />
<path d="M388.0,177.3 L388.0,177.3 L388.7,177.3 L389.4,177.3 L390.1,177.3 L390.8,177.3 L391.5,177.3 L392.2,177.3 L392.9,177.3 L393.6,177.3 L394.3,177.3 L395.0,177.3 L395.7,177.3 L396.4,177.3 L397.1,177.3 L397.8,177.3 L398.5,177.3 L399.2,177.3 L399.9,177.3 L400.6,177.3 L401.3,177.3 L402.0,177.3 L402.7,177.3 L403.4,177.3 L404.1,177.3 L404.8,177.3 L405.5,177.3 L406.2,177.3 L406.9,177.3 L407.6,177.3 L408.3,177.3 L409.0,177.3 L409.7,177.3 L410.4,177.3 L411.1,177.3 L411.8,177.3 L412.5,177.3 L413.2,177.3 L413.9,177.3 L414.6,177.2 L415.3,177.2 L416.0,177.1 L416.7,177.0 L417.4,176.7 L418.1,176.6 L418.8,176.3 L419.5,175.7 L420.2,175.3 L420.9,174.3 L421.6,173.4 L422.3,172.9 L423.0,171.9 L423.7,171.2 L424.4,170.5 L425.1,169.9 L425.8,169.6 L426.5,170.3 L427.2,170.6 L427.9,171.2 L428.6,171.7 L429.3,173.0 L430.0,173.2 L430.7,173.9 L431.4,174.3 L432.1,174.1 L432.8,173.9 L433.5,173.6 L434.2,173.7 L434.9,173.5 L435.6,173.9 L436.3,173.6 L437.0,174.0 L437.7,174.1 L438.4,174.3 L439.1,174.3 L439.8,174.1 L440.5,173.3 L441.2,172.5 L441.9,171.4 L442.6,170.3 L443.3,169.7 L444.0,168.6 L444.7,168.5 L445.4,167.7 L446.1,168.1 L446.8,167.7 L447.5,168.4 L448.2,169.1 L448.9,169.7 L449.6,170.9 L450.3,171.9 L451.0,172.5 L451.7,173.1 L452.4,174.1 L453.1,174.8 L453.8,175.4 L454.5,175.7 L455.2,176.0 L455.9,176.5 L456.6,176.7 L457.3,176.9 L458.0,177.0 L458.7,177.1 L459.4,177.2 L460.1,177.2 L460.8,177.3 L461.5,177.3 L462.2,177.3 L462.9,177.3 L463.6,177.3 L464.3,177.3 L465.0,177.3 L465.1,177.3 Z" fill="#EAC6A6" stroke="#D8AC86" stroke-width="0.45" stroke-linejoin="round" fill-opacity="0.9"/>
<line x1="387.50" y1="184.80" x2="465.60" y2="184.80" stroke="#E4D4C4" stroke-width="0.8" />
<path d="M388.0,184.8 L388.0,184.8 L388.7,184.8 L389.4,184.8 L390.1,184.8 L390.8,184.8 L391.5,184.8 L392.2,184.8 L392.9,184.8 L393.6,184.8 L394.3,184.8 L395.0,184.8 L395.7,184.8 L396.4,184.8 L397.1,184.8 L397.8,184.8 L398.5,184.8 L399.2,184.8 L399.9,184.8 L400.6,184.8 L401.3,184.8 L402.0,184.8 L402.7,184.8 L403.4,184.8 L404.1,184.7 L404.8,184.5 L405.5,184.1 L406.2,183.4 L406.9,182.1 L407.6,180.7 L408.3,178.8 L409.0,175.8 L409.7,173.6 L410.4,171.9 L411.1,170.5 L411.8,171.6 L412.5,172.5 L413.2,175.0 L413.9,178.1 L414.6,179.9 L415.3,181.8 L416.0,183.3 L416.7,183.9 L417.4,184.4 L418.1,184.6 L418.8,184.7 L419.5,184.8 L420.2,184.8 L420.9,184.8 L421.6,184.8 L422.3,184.8 L423.0,184.8 L423.7,184.8 L424.4,184.8 L425.1,184.8 L425.8,184.8 L426.5,184.8 L427.2,184.8 L427.9,184.8 L428.6,184.8 L429.3,184.8 L430.0,184.8 L430.7,184.8 L431.4,184.8 L432.1,184.8 L432.8,184.8 L433.5,184.8 L434.2,184.8 L434.9,184.8 L435.6,184.8 L436.3,184.8 L437.0,184.8 L437.7,184.8 L438.4,184.8 L439.1,184.8 L439.8,184.8 L440.5,184.8 L441.2,184.8 L441.9,184.8 L442.6,184.8 L443.3,184.8 L444.0,184.8 L444.7,184.8 L445.4,184.8 L446.1,184.8 L446.8,184.8 L447.5,184.8 L448.2,184.8 L448.9,184.8 L449.6,184.8 L450.3,184.8 L451.0,184.8 L451.7,184.8 L452.4,184.8 L453.1,184.8 L453.8,184.8 L454.5,184.8 L455.2,184.8 L455.9,184.8 L456.6,184.8 L457.3,184.8 L458.0,184.8 L458.7,184.8 L459.4,184.8 L460.1,184.8 L460.8,184.8 L461.5,184.8 L462.2,184.8 L462.9,184.8 L463.6,184.8 L464.3,184.8 L465.0,184.8 L465.1,184.8 Z" fill="#F2DAC4" stroke="#E2C0A2" stroke-width="0.45" stroke-linejoin="round" fill-opacity="0.9"/>
<line x1="387.50" y1="192.30" x2="465.60" y2="192.30" stroke="#9CC2DE" stroke-width="0.8" />
<path d="M388.0,192.3 L388.0,192.3 L388.7,192.3 L389.4,192.3 L390.1,192.3 L390.8,192.3 L391.5,192.3 L392.2,192.3 L392.9,192.3 L393.6,192.3 L394.3,192.3 L395.0,192.3 L395.7,192.3 L396.4,192.3 L397.1,192.3 L397.8,192.3 L398.5,192.3 L399.2,192.3 L399.9,192.3 L400.6,192.3 L401.3,192.3 L402.0,192.3 L402.7,192.3 L403.4,192.3 L404.1,192.3 L404.8,192.3 L405.5,192.3 L406.2,192.3 L406.9,192.3 L407.6,192.3 L408.3,192.3 L409.0,192.3 L409.7,192.3 L410.4,192.3 L411.1,192.3 L411.8,192.3 L412.5,192.3 L413.2,192.2 L413.9,192.2 L414.6,192.0 L415.3,192.0 L416.0,191.8 L416.7,191.3 L417.4,190.8 L418.1,190.2 L418.8,189.1 L419.5,188.0 L420.2,186.9 L420.9,185.5 L421.6,183.7 L422.3,183.1 L423.0,182.4 L423.7,182.1 L424.4,181.8 L425.1,182.0 L425.8,181.3 L426.5,182.2 L427.2,182.1 L427.9,183.1 L428.6,182.8 L429.3,182.9 L430.0,182.5 L430.7,181.9 L431.4,181.8 L432.1,181.6 L432.8,180.6 L433.5,180.7 L434.2,180.7 L434.9,179.4 L435.6,178.7 L436.3,178.6 L437.0,177.9 L437.7,176.9 L438.4,177.4 L439.1,178.1 L439.8,178.3 L440.5,179.1 L441.2,179.7 L441.9,181.0 L442.6,181.3 L443.3,182.0 L444.0,183.6 L444.7,184.9 L445.4,186.2 L446.1,186.8 L446.8,187.7 L447.5,188.7 L448.2,189.7 L448.9,190.4 L449.6,190.7 L450.3,191.3 L451.0,191.5 L451.7,191.7 L452.4,191.9 L453.1,192.0 L453.8,192.1 L454.5,192.2 L455.2,192.2 L455.9,192.3 L456.6,192.3 L457.3,192.3 L458.0,192.3 L458.7,192.3 L459.4,192.3 L460.1,192.3 L460.8,192.3 L461.5,192.3 L462.2,192.3 L462.9,192.3 L463.6,192.3 L464.3,192.3 L465.0,192.3 L465.1,192.3 Z" fill="#8DC4EC" stroke="#5FA8DC" stroke-width="0.45" stroke-linejoin="round" fill-opacity="0.9"/>
<line x1="387.50" y1="199.80" x2="465.60" y2="199.80" stroke="#BCD6EA" stroke-width="0.8" />
<path d="M388.0,199.8 L388.0,199.8 L388.7,199.8 L389.4,199.8 L390.1,199.8 L390.8,199.8 L391.5,199.8 L392.2,199.8 L392.9,199.8 L393.6,199.8 L394.3,199.8 L395.0,199.8 L395.7,199.8 L396.4,199.8 L397.1,199.8 L397.8,199.8 L398.5,199.8 L399.2,199.8 L399.9,199.8 L400.6,199.8 L401.3,199.8 L402.0,199.8 L402.7,199.8 L403.4,199.8 L404.1,199.8 L404.8,199.8 L405.5,199.8 L406.2,199.8 L406.9,199.8 L407.6,199.8 L408.3,199.8 L409.0,199.8 L409.7,199.8 L410.4,199.8 L411.1,199.8 L411.8,199.8 L412.5,199.7 L413.2,199.7 L413.9,199.5 L414.6,199.4 L415.3,199.2 L416.0,198.6 L416.7,198.2 L417.4,197.5 L418.1,196.7 L418.8,195.7 L419.5,194.1 L420.2,193.4 L420.9,192.2 L421.6,191.4 L422.3,190.6 L423.0,189.5 L423.7,189.8 L424.4,190.1 L425.1,190.9 L425.8,191.6 L426.5,192.9 L427.2,194.3 L427.9,195.3 L428.6,196.1 L429.3,196.5 L430.0,196.9 L430.7,197.2 L431.4,196.8 L432.1,196.6 L432.8,196.1 L433.5,195.9 L434.2,195.5 L434.9,195.1 L435.6,195.3 L436.3,195.5 L437.0,195.9 L437.7,196.5 L438.4,197.0 L439.1,197.5 L439.8,197.7 L440.5,197.6 L441.2,197.6 L441.9,196.7 L442.6,196.0 L443.3,195.2 L444.0,194.0 L444.7,192.6 L445.4,191.5 L446.1,190.1 L446.8,189.0 L447.5,188.1 L448.2,188.1 L448.9,187.8 L449.6,188.7 L450.3,190.3 L451.0,191.3 L451.7,192.7 L452.4,194.0 L453.1,195.4 L453.8,196.4 L454.5,197.7 L455.2,198.4 L455.9,198.7 L456.6,199.3 L457.3,199.5 L458.0,199.6 L458.7,199.7 L459.4,199.7 L460.1,199.8 L460.8,199.8 L461.5,199.8 L462.2,199.8 L462.9,199.8 L463.6,199.8 L464.3,199.8 L465.0,199.8 L465.1,199.8 Z" fill="#B9DAF2" stroke="#90C2EA" stroke-width="0.45" stroke-linejoin="round" fill-opacity="0.9"/>
<line x1="387.50" y1="207.30" x2="465.60" y2="207.30" stroke="#D4E4F0" stroke-width="0.8" />
<path d="M388.0,207.3 L388.0,207.3 L388.7,207.3 L389.4,207.3 L390.1,207.3 L390.8,207.3 L391.5,207.3 L392.2,207.3 L392.9,207.3 L393.6,207.3 L394.3,207.3 L395.0,207.3 L395.7,207.3 L396.4,207.3 L397.1,207.3 L397.8,207.3 L398.5,207.3 L399.2,207.3 L399.9,207.3 L400.6,207.3 L401.3,207.3 L402.0,207.3 L402.7,207.3 L403.4,207.2 L404.1,207.0 L404.8,206.7 L405.5,206.0 L406.2,205.0 L406.9,203.0 L407.6,200.8 L408.3,198.2 L409.0,195.6 L409.7,193.4 L410.4,192.2 L411.1,193.5 L411.8,195.1 L412.5,197.7 L413.2,201.2 L413.9,203.7 L414.6,205.4 L415.3,206.2 L416.0,206.8 L416.7,207.1 L417.4,207.2 L418.1,207.3 L418.8,207.3 L419.5,207.3 L420.2,207.3 L420.9,207.3 L421.6,207.3 L422.3,207.3 L423.0,207.3 L423.7,207.3 L424.4,207.3 L425.1,207.3 L425.8,207.3 L426.5,207.3 L427.2,207.3 L427.9,207.3 L428.6,207.3 L429.3,207.3 L430.0,207.3 L430.7,207.3 L431.4,207.3 L432.1,207.3 L432.8,207.3 L433.5,207.3 L434.2,207.3 L434.9,207.3 L435.6,207.3 L436.3,207.3 L437.0,207.3 L437.7,207.3 L438.4,207.3 L439.1,207.3 L439.8,207.3 L440.5,207.3 L441.2,207.3 L441.9,207.3 L442.6,207.3 L443.3,207.3 L444.0,207.3 L444.7,207.3 L445.4,207.3 L446.1,207.3 L446.8,207.3 L447.5,207.3 L448.2,207.3 L448.9,207.3 L449.6,207.3 L450.3,207.3 L451.0,207.3 L451.7,207.3 L452.4,207.3 L453.1,207.3 L453.8,207.3 L454.5,207.3 L455.2,207.3 L455.9,207.3 L456.6,207.3 L457.3,207.3 L458.0,207.3 L458.7,207.3 L459.4,207.3 L460.1,207.3 L460.8,207.3 L461.5,207.3 L462.2,207.3 L462.9,207.3 L463.6,207.3 L464.3,207.3 L465.0,207.3 L465.1,207.3 Z" fill="#D6E8F6" stroke="#B0D2EE" stroke-width="0.45" stroke-linejoin="round" fill-opacity="0.9"/>
<line x1="387.50" y1="214.80" x2="465.60" y2="214.80" stroke="#80828E" stroke-width="0.8" />
<path d="M388.0,214.8 L388.0,214.7 L388.7,214.7 L389.4,214.7 L390.1,214.7 L390.8,214.7 L391.5,214.7 L392.2,214.7 L392.9,214.7 L393.6,214.7 L394.3,214.6 L395.0,214.6 L395.7,214.6 L396.4,214.6 L397.1,214.6 L397.8,214.5 L398.5,214.5 L399.2,214.5 L399.9,214.4 L400.6,214.4 L401.3,214.5 L402.0,214.5 L402.7,214.4 L403.4,214.2 L404.1,214.2 L404.8,214.0 L405.5,213.5 L406.2,212.4 L406.9,210.9 L407.6,208.3 L408.3,205.2 L409.0,202.9 L409.7,200.6 L410.4,199.9 L411.1,200.3 L411.8,200.5 L412.5,202.8 L413.2,204.9 L413.9,205.9 L414.6,207.8 L415.3,209.5 L416.0,210.7 L416.7,211.6 L417.4,211.9 L418.1,212.6 L418.8,212.9 L419.5,212.9 L420.2,213.0 L420.9,212.8 L421.6,212.8 L422.3,213.0 L423.0,213.1 L423.7,212.9 L424.4,212.8 L425.1,213.1 L425.8,212.9 L426.5,212.8 L427.2,212.9 L427.9,213.1 L428.6,213.0 L429.3,212.9 L430.0,213.2 L430.7,213.1 L431.4,213.3 L432.1,213.4 L432.8,213.4 L433.5,213.5 L434.2,213.5 L434.9,213.4 L435.6,213.3 L436.3,213.3 L437.0,213.3 L437.7,213.3 L438.4,213.4 L439.1,213.7 L439.8,213.9 L440.5,213.8 L441.2,213.9 L441.9,213.9 L442.6,214.1 L443.3,214.2 L444.0,214.0 L444.7,214.1 L445.4,214.1 L446.1,214.3 L446.8,214.3 L447.5,214.2 L448.2,214.3 L448.9,214.2 L449.6,214.4 L450.3,214.4 L451.0,214.5 L451.7,214.5 L452.4,214.5 L453.1,214.6 L453.8,214.6 L454.5,214.6 L455.2,214.6 L455.9,214.6 L456.6,214.7 L457.3,214.7 L458.0,214.7 L458.7,214.7 L459.4,214.7 L460.1,214.7 L460.8,214.7 L461.5,214.7 L462.2,214.7 L462.9,214.8 L463.6,214.8 L464.3,214.8 L465.0,214.8 L465.1,214.8 Z" fill="#8A8DA0" stroke="#5a5e72" stroke-width="0.45" stroke-linejoin="round" fill-opacity="0.9"/>
<line x1="387.50" y1="222.30" x2="465.60" y2="222.30" stroke="#A8A9B4" stroke-width="0.8" />
<path d="M388.0,222.3 L388.0,222.3 L388.7,222.3 L389.4,222.3 L390.1,222.3 L390.8,222.3 L391.5,222.3 L392.2,222.3 L392.9,222.3 L393.6,222.3 L394.3,222.3 L395.0,222.3 L395.7,222.3 L396.4,222.3 L397.1,222.3 L397.8,222.3 L398.5,222.3 L399.2,222.3 L399.9,222.3 L400.6,222.3 L401.3,222.3 L402.0,222.3 L402.7,222.3 L403.4,222.3 L404.1,222.3 L404.8,222.3 L405.5,222.3 L406.2,222.3 L406.9,222.3 L407.6,222.3 L408.3,222.3 L409.0,222.3 L409.7,222.3 L410.4,222.3 L411.1,222.3 L411.8,222.3 L412.5,222.3 L413.2,222.3 L413.9,222.3 L414.6,222.3 L415.3,222.3 L416.0,222.2 L416.7,222.2 L417.4,222.1 L418.1,222.0 L418.8,221.9 L419.5,221.6 L420.2,221.1 L420.9,220.2 L421.6,219.4 L422.3,218.2 L423.0,217.3 L423.7,215.8 L424.4,214.0 L425.1,212.7 L425.8,211.1 L426.5,210.0 L427.2,210.1 L427.9,210.8 L428.6,210.6 L429.3,211.8 L430.0,213.1 L430.7,213.5 L431.4,214.2 L432.1,215.0 L432.8,215.7 L433.5,216.8 L434.2,217.6 L434.9,217.9 L435.6,217.6 L436.3,218.0 L437.0,218.2 L437.7,218.5 L438.4,218.7 L439.1,218.9 L439.8,218.9 L440.5,219.0 L441.2,218.9 L441.9,218.3 L442.6,218.1 L443.3,217.2 L444.0,216.3 L444.7,215.5 L445.4,214.6 L446.1,213.6 L446.8,213.0 L447.5,213.1 L448.2,213.2 L448.9,213.7 L449.6,214.2 L450.3,214.5 L451.0,215.8 L451.7,217.3 L452.4,218.2 L453.1,219.0 L453.8,219.9 L454.5,220.6 L455.2,221.3 L455.9,221.8 L456.6,221.9 L457.3,222.0 L458.0,222.1 L458.7,222.2 L459.4,222.3 L460.1,222.3 L460.8,222.3 L461.5,222.3 L462.2,222.3 L462.9,222.3 L463.6,222.3 L464.3,222.3 L465.0,222.3 L465.1,222.3 Z" fill="#A8A9B8" stroke="#84869a" stroke-width="0.45" stroke-linejoin="round" fill-opacity="0.9"/>
<line x1="387.50" y1="229.80" x2="465.60" y2="229.80" stroke="#CACAD0" stroke-width="0.8" />
<path d="M388.0,229.8 L388.0,229.8 L388.7,229.8 L389.4,229.8 L390.1,229.8 L390.8,229.8 L391.5,229.8 L392.2,229.8 L392.9,229.8 L393.6,229.8 L394.3,229.8 L395.0,229.8 L395.7,229.8 L396.4,229.8 L397.1,229.8 L397.8,229.8 L398.5,229.8 L399.2,229.8 L399.9,229.8 L400.6,229.8 L401.3,229.8 L402.0,229.8 L402.7,229.7 L403.4,229.6 L404.1,229.3 L404.8,228.7 L405.5,227.6 L406.2,226.5 L406.9,224.6 L407.6,222.2 L408.3,219.9 L409.0,219.1 L409.7,218.2 L410.4,218.5 L411.1,220.0 L411.8,221.5 L412.5,223.9 L413.2,225.9 L413.9,227.2 L414.6,228.4 L415.3,229.1 L416.0,229.5 L416.7,229.7 L417.4,229.8 L418.1,229.8 L418.8,229.8 L419.5,229.8 L420.2,229.8 L420.9,229.8 L421.6,229.8 L422.3,229.8 L423.0,229.8 L423.7,229.8 L424.4,229.8 L425.1,229.8 L425.8,229.8 L426.5,229.8 L427.2,229.8 L427.9,229.8 L428.6,229.8 L429.3,229.8 L430.0,229.8 L430.7,229.8 L431.4,229.8 L432.1,229.8 L432.8,229.8 L433.5,229.8 L434.2,229.8 L434.9,229.8 L435.6,229.8 L436.3,229.8 L437.0,229.8 L437.7,229.8 L438.4,229.8 L439.1,229.8 L439.8,229.8 L440.5,229.8 L441.2,229.8 L441.9,229.8 L442.6,229.8 L443.3,229.8 L444.0,229.8 L444.7,229.8 L445.4,229.8 L446.1,229.8 L446.8,229.8 L447.5,229.8 L448.2,229.8 L448.9,229.8 L449.6,229.8 L450.3,229.8 L451.0,229.8 L451.7,229.8 L452.4,229.8 L453.1,229.8 L453.8,229.8 L454.5,229.8 L455.2,229.8 L455.9,229.8 L456.6,229.8 L457.3,229.8 L458.0,229.8 L458.7,229.8 L459.4,229.8 L460.1,229.8 L460.8,229.8 L461.5,229.8 L462.2,229.8 L462.9,229.8 L463.6,229.8 L464.3,229.8 L465.0,229.8 L465.1,229.8 Z" fill="#CDCDD5" stroke="#A8A9B6" stroke-width="0.45" stroke-linejoin="round" fill-opacity="0.9"/>
<line x1="420.50" y1="152.10" x2="420.50" y2="229.80" stroke="#555" stroke-width="0.9" />
<rect x="387.50" y="152.10" width="78.10" height="77.70" fill="none" stroke="#111" stroke-width="1.0" rx="0" />
<line x1="403.70" y1="229.80" x2="403.70" y2="231.80" stroke="#222" stroke-width="0.6" />
<text x="0" y="0" font-size="6.55" text-anchor="middle" fill="#222" stroke="#222" stroke-width="0.15" transform="translate(403.70 239.20) scale(0.8850 1)" dominant-baseline="central" >0</text>
<line x1="430.60" y1="229.80" x2="430.60" y2="231.80" stroke="#222" stroke-width="0.6" />
<text x="0" y="0" font-size="6.55" text-anchor="middle" fill="#222" stroke="#222" stroke-width="0.15" dominant-baseline="central" transform="translate(430.60 239.20) scale(0.8850 1)">10<tspan font-size="3.93" dy="-2.29">4</tspan></text>
<line x1="445.40" y1="229.80" x2="445.40" y2="231.80" stroke="#222" stroke-width="0.6" />
<text x="0" y="0" font-size="6.55" text-anchor="middle" fill="#222" stroke="#222" stroke-width="0.15" dominant-baseline="central" transform="translate(445.40 239.20) scale(0.8850 1)">10<tspan font-size="3.93" dy="-2.29">5</tspan></text>
<line x1="460.20" y1="229.80" x2="460.20" y2="231.80" stroke="#222" stroke-width="0.6" />
<text x="0" y="0" font-size="6.55" text-anchor="middle" fill="#222" stroke="#222" stroke-width="0.15" dominant-baseline="central" transform="translate(460.20 239.20) scale(0.8850 1)">10<tspan font-size="3.93" dy="-2.29">6</tspan></text>
<line x1="392.00" y1="229.80" x2="392.00" y2="230.90" stroke="#222" stroke-width="0.4" />
<line x1="395.00" y1="229.80" x2="395.00" y2="230.90" stroke="#222" stroke-width="0.4" />
<line x1="397.00" y1="229.80" x2="397.00" y2="230.90" stroke="#222" stroke-width="0.4" />
<line x1="399.00" y1="229.80" x2="399.00" y2="230.90" stroke="#222" stroke-width="0.4" />
<line x1="401.00" y1="229.80" x2="401.00" y2="230.90" stroke="#222" stroke-width="0.4" />
<line x1="406.00" y1="229.80" x2="406.00" y2="230.90" stroke="#222" stroke-width="0.4" />
<line x1="408.00" y1="229.80" x2="408.00" y2="230.90" stroke="#222" stroke-width="0.4" />
<line x1="410.00" y1="229.80" x2="410.00" y2="230.90" stroke="#222" stroke-width="0.4" />
<line x1="412.00" y1="229.80" x2="412.00" y2="230.90" stroke="#222" stroke-width="0.4" />
<line x1="414.00" y1="229.80" x2="414.00" y2="230.90" stroke="#222" stroke-width="0.4" />
<line x1="420.00" y1="229.80" x2="420.00" y2="230.90" stroke="#222" stroke-width="0.4" />
<line x1="423.00" y1="229.80" x2="423.00" y2="230.90" stroke="#222" stroke-width="0.4" />
<line x1="425.00" y1="229.80" x2="425.00" y2="230.90" stroke="#222" stroke-width="0.4" />
<line x1="427.00" y1="229.80" x2="427.00" y2="230.90" stroke="#222" stroke-width="0.4" />
<line x1="429.00" y1="229.80" x2="429.00" y2="230.90" stroke="#222" stroke-width="0.4" />
<line x1="435.00" y1="229.80" x2="435.00" y2="230.90" stroke="#222" stroke-width="0.4" />
<line x1="438.00" y1="229.80" x2="438.00" y2="230.90" stroke="#222" stroke-width="0.4" />
<line x1="440.00" y1="229.80" x2="440.00" y2="230.90" stroke="#222" stroke-width="0.4" />
<line x1="442.00" y1="229.80" x2="442.00" y2="230.90" stroke="#222" stroke-width="0.4" />
<line x1="444.00" y1="229.80" x2="444.00" y2="230.90" stroke="#222" stroke-width="0.4" />
<line x1="450.00" y1="229.80" x2="450.00" y2="230.90" stroke="#222" stroke-width="0.4" />
<line x1="453.00" y1="229.80" x2="453.00" y2="230.90" stroke="#222" stroke-width="0.4" />
<line x1="455.00" y1="229.80" x2="455.00" y2="230.90" stroke="#222" stroke-width="0.4" />
<line x1="457.00" y1="229.80" x2="457.00" y2="230.90" stroke="#222" stroke-width="0.4" />
<line x1="459.00" y1="229.80" x2="459.00" y2="230.90" stroke="#222" stroke-width="0.4" />
<line x1="463.00" y1="229.80" x2="463.00" y2="230.90" stroke="#222" stroke-width="0.4" />
<rect x="398.80" y="229.80" width="1.80" height="1.80" fill="#111" stroke="none" stroke-width="0.8" rx="0" />
<text x="0" y="0" font-size="6.33" text-anchor="start" fill="#333" stroke="#333" stroke-width="0.15" textLength="19.77" lengthAdjust="spacingAndGlyphs" transform="translate(471.00 149.60) scale(0.8850 1)" dominant-baseline="central" >Tumor</text>
<text x="0" y="0" font-size="6.33" text-anchor="start" fill="#333" stroke="#333" stroke-width="0.15" textLength="20.11" lengthAdjust="spacingAndGlyphs" transform="translate(495.40 149.60) scale(0.8850 1)" dominant-baseline="central" >Beads</text>
<line x1="478.50" y1="161.90" x2="481.10" y2="161.90" stroke="#B08050" stroke-width="0.7" />
<line x1="479.80" y1="160.60" x2="479.80" y2="163.20" stroke="#B08050" stroke-width="0.7" />
<line x1="500.50" y1="161.90" x2="503.10" y2="161.90" stroke="#B08050" stroke-width="0.7" />
<line x1="478.50" y1="170.15" x2="481.10" y2="170.15" stroke="#C8A080" stroke-width="0.7" />
<line x1="500.50" y1="170.15" x2="503.10" y2="170.15" stroke="#C8A080" stroke-width="0.7" />
<line x1="501.80" y1="168.85" x2="501.80" y2="171.45" stroke="#C8A080" stroke-width="0.7" />
<line x1="478.50" y1="178.40" x2="481.10" y2="178.40" stroke="#D0B8A0" stroke-width="0.7" />
<line x1="500.50" y1="178.40" x2="503.10" y2="178.40" stroke="#D0B8A0" stroke-width="0.7" />
<line x1="478.50" y1="186.65" x2="481.10" y2="186.65" stroke="#5A98CC" stroke-width="0.7" />
<line x1="479.80" y1="185.35" x2="479.80" y2="187.95" stroke="#5A98CC" stroke-width="0.7" />
<line x1="500.50" y1="186.65" x2="503.10" y2="186.65" stroke="#5A98CC" stroke-width="0.7" />
<line x1="478.50" y1="194.90" x2="481.10" y2="194.90" stroke="#88B8DC" stroke-width="0.7" />
<line x1="500.50" y1="194.90" x2="503.10" y2="194.90" stroke="#88B8DC" stroke-width="0.7" />
<line x1="501.80" y1="193.60" x2="501.80" y2="196.20" stroke="#88B8DC" stroke-width="0.7" />
<line x1="478.50" y1="203.15" x2="481.10" y2="203.15" stroke="#A8CCE4" stroke-width="0.7" />
<line x1="500.50" y1="203.15" x2="503.10" y2="203.15" stroke="#A8CCE4" stroke-width="0.7" />
<line x1="478.50" y1="211.40" x2="481.10" y2="211.40" stroke="#4a4e5a" stroke-width="0.7" />
<line x1="479.80" y1="210.10" x2="479.80" y2="212.70" stroke="#4a4e5a" stroke-width="0.7" />
<line x1="500.50" y1="211.40" x2="503.10" y2="211.40" stroke="#4a4e5a" stroke-width="0.7" />
<line x1="478.50" y1="219.65" x2="481.10" y2="219.65" stroke="#7a7c88" stroke-width="0.7" />
<line x1="500.50" y1="219.65" x2="503.10" y2="219.65" stroke="#7a7c88" stroke-width="0.7" />
<line x1="501.80" y1="218.35" x2="501.80" y2="220.95" stroke="#7a7c88" stroke-width="0.7" />
<line x1="478.50" y1="227.90" x2="481.10" y2="227.90" stroke="#A0A0A8" stroke-width="0.7" />
<line x1="500.50" y1="227.90" x2="503.10" y2="227.90" stroke="#A0A0A8" stroke-width="0.7" />
<line x1="387.50" y1="275.88" x2="465.60" y2="275.88" stroke="#CDB49A" stroke-width="0.8" />
<path d="M388.0,275.9 L388.0,275.9 L388.7,275.9 L389.4,275.9 L390.1,275.9 L390.8,275.9 L391.5,275.9 L392.2,275.9 L392.9,275.9 L393.6,275.9 L394.3,275.9 L395.0,275.9 L395.7,275.9 L396.4,275.9 L397.1,275.9 L397.8,275.9 L398.5,275.9 L399.2,275.9 L399.9,275.9 L400.6,275.9 L401.3,275.9 L402.0,275.9 L402.7,275.9 L403.4,275.9 L404.1,275.9 L404.8,275.8 L405.5,275.8 L406.2,275.8 L406.9,275.7 L407.6,275.7 L408.3,275.6 L409.0,275.4 L409.7,275.2 L410.4,274.9 L411.1,274.6 L411.8,274.3 L412.5,274.1 L413.2,273.6 L413.9,273.4 L414.6,273.2 L415.3,273.2 L416.0,272.8 L416.7,272.8 L417.4,272.8 L418.1,272.5 L418.8,272.3 L419.5,272.2 L420.2,272.4 L420.9,272.4 L421.6,272.0 L422.3,271.2 L423.0,270.2 L423.7,269.2 L424.4,268.1 L425.1,267.5 L425.8,266.9 L426.5,266.9 L427.2,267.0 L427.9,267.4 L428.6,267.6 L429.3,268.1 L430.0,268.7 L430.7,269.5 L431.4,270.1 L432.1,270.5 L432.8,270.1 L433.5,269.9 L434.2,269.3 L434.9,268.5 L435.6,268.3 L436.3,268.0 L437.0,267.4 L437.7,266.2 L438.4,265.3 L439.1,264.9 L439.8,263.9 L440.5,263.5 L441.2,262.3 L441.9,262.6 L442.6,261.8 L443.3,261.1 L444.0,261.9 L444.7,262.5 L445.4,263.8 L446.1,264.7 L446.8,265.7 L447.5,266.7 L448.2,268.1 L448.9,269.0 L449.6,270.2 L450.3,271.0 L451.0,271.8 L451.7,272.8 L452.4,273.1 L453.1,273.9 L453.8,274.4 L454.5,274.6 L455.2,274.9 L455.9,275.1 L456.6,275.5 L457.3,275.6 L458.0,275.7 L458.7,275.8 L459.4,275.8 L460.1,275.8 L460.8,275.9 L461.5,275.9 L462.2,275.9 L462.9,275.9 L463.6,275.9 L464.3,275.9 L465.0,275.9 L465.1,275.9 Z" fill="#D99C5E" stroke="#BE8040" stroke-width="0.45" stroke-linejoin="round" fill-opacity="0.9"/>
<line x1="387.50" y1="283.52" x2="465.60" y2="283.52" stroke="#DCC8B4" stroke-width="0.8" />
<path d="M388.0,283.5 L388.0,283.5 L388.7,283.5 L389.4,283.5 L390.1,283.5 L390.8,283.5 L391.5,283.5 L392.2,283.5 L392.9,283.5 L393.6,283.5 L394.3,283.5 L395.0,283.5 L395.7,283.5 L396.4,283.5 L397.1,283.5 L397.8,283.5 L398.5,283.5 L399.2,283.5 L399.9,283.5 L400.6,283.5 L401.3,283.5 L402.0,283.5 L402.7,283.5 L403.4,283.5 L404.1,283.5 L404.8,283.5 L405.5,283.5 L406.2,283.5 L406.9,283.5 L407.6,283.5 L408.3,283.5 L409.0,283.5 L409.7,283.5 L410.4,283.5 L411.1,283.5 L411.8,283.5 L412.5,283.5 L413.2,283.5 L413.9,283.5 L414.6,283.5 L415.3,283.4 L416.0,283.4 L416.7,283.3 L417.4,283.1 L418.1,282.8 L418.8,282.4 L419.5,281.8 L420.2,281.4 L420.9,280.5 L421.6,279.7 L422.3,278.7 L423.0,277.7 L423.7,276.7 L424.4,276.5 L425.1,276.2 L425.8,275.8 L426.5,276.0 L427.2,276.3 L427.9,277.2 L428.6,277.6 L429.3,278.9 L430.0,279.4 L430.7,280.1 L431.4,280.8 L432.1,280.8 L432.8,281.0 L433.5,281.0 L434.2,280.8 L434.9,280.7 L435.6,280.7 L436.3,280.8 L437.0,280.5 L437.7,280.9 L438.4,281.2 L439.1,281.5 L439.8,281.3 L440.5,281.3 L441.2,280.9 L441.9,280.4 L442.6,279.9 L443.3,279.2 L444.0,278.4 L444.7,277.5 L445.4,276.3 L446.1,274.8 L446.8,274.2 L447.5,273.4 L448.2,272.7 L448.9,272.6 L449.6,273.0 L450.3,273.8 L451.0,275.1 L451.7,276.1 L452.4,276.7 L453.1,277.9 L453.8,278.9 L454.5,280.0 L455.2,280.8 L455.9,281.6 L456.6,282.0 L457.3,282.4 L458.0,282.9 L458.7,283.1 L459.4,283.2 L460.1,283.3 L460.8,283.4 L461.5,283.5 L462.2,283.5 L462.9,283.5 L463.6,283.5 L464.3,283.5 L465.0,283.5 L465.1,283.5 Z" fill="#EAC6A6" stroke="#D8AC86" stroke-width="0.45" stroke-linejoin="round" fill-opacity="0.9"/>
<line x1="387.50" y1="291.16" x2="465.60" y2="291.16" stroke="#E4D4C4" stroke-width="0.8" />
<path d="M388.0,291.2 L388.0,291.2 L388.7,291.2 L389.4,291.2 L390.1,291.2 L390.8,291.2 L391.5,291.2 L392.2,291.2 L392.9,291.2 L393.6,291.2 L394.3,291.2 L395.0,291.2 L395.7,291.2 L396.4,291.2 L397.1,291.2 L397.8,291.2 L398.5,291.2 L399.2,291.2 L399.9,291.2 L400.6,291.2 L401.3,291.2 L402.0,291.2 L402.7,291.2 L403.4,291.1 L404.1,291.1 L404.8,291.0 L405.5,290.8 L406.2,290.5 L406.9,289.6 L407.6,288.2 L408.3,286.3 L409.0,283.9 L409.7,281.2 L410.4,279.7 L411.1,277.7 L411.8,277.5 L412.5,277.6 L413.2,279.5 L413.9,281.9 L414.6,284.4 L415.3,286.7 L416.0,288.3 L416.7,289.5 L417.4,290.4 L418.1,290.8 L418.8,291.0 L419.5,291.1 L420.2,291.1 L420.9,291.2 L421.6,291.2 L422.3,291.2 L423.0,291.2 L423.7,291.2 L424.4,291.2 L425.1,291.2 L425.8,291.2 L426.5,291.2 L427.2,291.2 L427.9,291.2 L428.6,291.2 L429.3,291.2 L430.0,291.2 L430.7,291.2 L431.4,291.2 L432.1,291.2 L432.8,291.2 L433.5,291.2 L434.2,291.2 L434.9,291.2 L435.6,291.2 L436.3,291.2 L437.0,291.2 L437.7,291.2 L438.4,291.2 L439.1,291.2 L439.8,291.2 L440.5,291.2 L441.2,291.2 L441.9,291.2 L442.6,291.2 L443.3,291.2 L444.0,291.2 L444.7,291.2 L445.4,291.2 L446.1,291.2 L446.8,291.2 L447.5,291.2 L448.2,291.2 L448.9,291.2 L449.6,291.2 L450.3,291.2 L451.0,291.2 L451.7,291.2 L452.4,291.2 L453.1,291.2 L453.8,291.2 L454.5,291.2 L455.2,291.2 L455.9,291.2 L456.6,291.2 L457.3,291.2 L458.0,291.2 L458.7,291.2 L459.4,291.2 L460.1,291.2 L460.8,291.2 L461.5,291.2 L462.2,291.2 L462.9,291.2 L463.6,291.2 L464.3,291.2 L465.0,291.2 L465.1,291.2 Z" fill="#F2DAC4" stroke="#E2C0A2" stroke-width="0.45" stroke-linejoin="round" fill-opacity="0.9"/>
<line x1="387.50" y1="298.80" x2="465.60" y2="298.80" stroke="#9CC2DE" stroke-width="0.8" />
<path d="M388.0,298.8 L388.0,298.8 L388.7,298.8 L389.4,298.8 L390.1,298.8 L390.8,298.8 L391.5,298.8 L392.2,298.8 L392.9,298.8 L393.6,298.8 L394.3,298.8 L395.0,298.8 L395.7,298.8 L396.4,298.8 L397.1,298.8 L397.8,298.8 L398.5,298.8 L399.2,298.8 L399.9,298.8 L400.6,298.8 L401.3,298.8 L402.0,298.8 L402.7,298.8 L403.4,298.8 L404.1,298.8 L404.8,298.8 L405.5,298.8 L406.2,298.8 L406.9,298.8 L407.6,298.8 L408.3,298.8 L409.0,298.8 L409.7,298.7 L410.4,298.7 L411.1,298.6 L411.8,298.4 L412.5,298.2 L413.2,298.1 L413.9,297.6 L414.6,297.1 L415.3,296.6 L416.0,296.2 L416.7,295.9 L417.4,295.7 L418.1,295.5 L418.8,295.7 L419.5,295.4 L420.2,295.3 L420.9,295.4 L421.6,295.1 L422.3,294.4 L423.0,293.8 L423.7,292.5 L424.4,291.3 L425.1,290.2 L425.8,290.0 L426.5,289.8 L427.2,289.4 L427.9,289.4 L428.6,289.4 L429.3,289.8 L430.0,291.0 L430.7,292.0 L431.4,292.9 L432.1,294.0 L432.8,294.2 L433.5,294.4 L434.2,294.3 L434.9,294.3 L435.6,293.5 L436.3,292.4 L437.0,292.0 L437.7,290.8 L438.4,290.1 L439.1,288.7 L439.8,287.8 L440.5,285.9 L441.2,284.9 L441.9,284.1 L442.6,285.0 L443.3,284.9 L444.0,285.3 L444.7,286.3 L445.4,286.8 L446.1,288.1 L446.8,289.7 L447.5,290.7 L448.2,292.0 L448.9,293.3 L449.6,294.2 L450.3,295.3 L451.0,296.0 L451.7,296.6 L452.4,297.3 L453.1,297.6 L453.8,298.0 L454.5,298.2 L455.2,298.4 L455.9,298.5 L456.6,298.6 L457.3,298.7 L458.0,298.7 L458.7,298.7 L459.4,298.8 L460.1,298.8 L460.8,298.8 L461.5,298.8 L462.2,298.8 L462.9,298.8 L463.6,298.8 L464.3,298.8 L465.0,298.8 L465.1,298.8 Z" fill="#8DC4EC" stroke="#5FA8DC" stroke-width="0.45" stroke-linejoin="round" fill-opacity="0.9"/>
<line x1="387.50" y1="306.44" x2="465.60" y2="306.44" stroke="#BCD6EA" stroke-width="0.8" />
<path d="M388.0,306.4 L388.0,306.4 L388.7,306.4 L389.4,306.4 L390.1,306.4 L390.8,306.4 L391.5,306.4 L392.2,306.4 L392.9,306.4 L393.6,306.4 L394.3,306.4 L395.0,306.4 L395.7,306.4 L396.4,306.4 L397.1,306.4 L397.8,306.4 L398.5,306.4 L399.2,306.4 L399.9,306.4 L400.6,306.4 L401.3,306.4 L402.0,306.4 L402.7,306.4 L403.4,306.4 L404.1,306.4 L404.8,306.4 L405.5,306.4 L406.2,306.4 L406.9,306.4 L407.6,306.4 L408.3,306.4 L409.0,306.4 L409.7,306.4 L410.4,306.4 L411.1,306.4 L411.8,306.4 L412.5,306.4 L413.2,306.4 L413.9,306.4 L414.6,306.3 L415.3,306.2 L416.0,306.1 L416.7,305.9 L417.4,305.6 L418.1,305.1 L418.8,304.7 L419.5,303.8 L420.2,303.0 L420.9,301.9 L421.6,301.1 L422.3,300.1 L423.0,299.2 L423.7,298.5 L424.4,297.6 L425.1,297.5 L425.8,297.3 L426.5,298.0 L427.2,299.2 L427.9,300.0 L428.6,301.0 L429.3,302.1 L430.0,302.8 L430.7,303.5 L431.4,303.7 L432.1,303.7 L432.8,303.4 L433.5,302.9 L434.2,302.6 L434.9,302.7 L435.6,302.4 L436.3,302.5 L437.0,302.4 L437.7,302.5 L438.4,303.1 L439.1,303.2 L439.8,303.5 L440.5,303.5 L441.2,303.1 L441.9,302.5 L442.6,301.7 L443.3,300.7 L444.0,299.5 L444.7,298.1 L445.4,297.6 L446.1,296.9 L446.8,296.7 L447.5,296.3 L448.2,297.1 L448.9,297.5 L449.6,299.1 L450.3,299.8 L451.0,301.1 L451.7,302.0 L452.4,303.1 L453.1,303.9 L453.8,305.0 L454.5,305.4 L455.2,305.8 L455.9,305.9 L456.6,306.2 L457.3,306.3 L458.0,306.4 L458.7,306.4 L459.4,306.4 L460.1,306.4 L460.8,306.4 L461.5,306.4 L462.2,306.4 L462.9,306.4 L463.6,306.4 L464.3,306.4 L465.0,306.4 L465.1,306.4 Z" fill="#B9DAF2" stroke="#90C2EA" stroke-width="0.45" stroke-linejoin="round" fill-opacity="0.9"/>
<line x1="387.50" y1="314.08" x2="465.60" y2="314.08" stroke="#D4E4F0" stroke-width="0.8" />
<path d="M388.0,314.1 L388.0,314.1 L388.7,314.1 L389.4,314.1 L390.1,314.1 L390.8,314.1 L391.5,314.1 L392.2,314.1 L392.9,314.1 L393.6,314.1 L394.3,314.1 L395.0,314.1 L395.7,314.1 L396.4,314.1 L397.1,314.1 L397.8,314.1 L398.5,314.1 L399.2,314.1 L399.9,314.1 L400.6,314.1 L401.3,314.1 L402.0,314.1 L402.7,314.0 L403.4,314.0 L404.1,313.8 L404.8,313.5 L405.5,312.7 L406.2,311.6 L406.9,309.7 L407.6,307.2 L408.3,304.3 L409.0,302.3 L409.7,300.8 L410.4,300.8 L411.1,301.1 L411.8,303.5 L412.5,305.7 L413.2,308.8 L413.9,311.0 L414.6,312.3 L415.3,313.2 L416.0,313.6 L416.7,313.9 L417.4,314.0 L418.1,314.1 L418.8,314.1 L419.5,314.1 L420.2,314.1 L420.9,314.1 L421.6,314.1 L422.3,314.1 L423.0,314.1 L423.7,314.1 L424.4,314.1 L425.1,314.1 L425.8,314.1 L426.5,314.1 L427.2,314.1 L427.9,314.1 L428.6,314.1 L429.3,314.1 L430.0,314.1 L430.7,314.1 L431.4,314.1 L432.1,314.1 L432.8,314.1 L433.5,314.1 L434.2,314.1 L434.9,314.1 L435.6,314.1 L436.3,314.1 L437.0,314.1 L437.7,314.1 L438.4,314.1 L439.1,314.1 L439.8,314.1 L440.5,314.1 L441.2,314.1 L441.9,314.1 L442.6,314.1 L443.3,314.1 L444.0,314.1 L444.7,314.1 L445.4,314.1 L446.1,314.1 L446.8,314.1 L447.5,314.1 L448.2,314.1 L448.9,314.1 L449.6,314.1 L450.3,314.1 L451.0,314.1 L451.7,314.1 L452.4,314.1 L453.1,314.1 L453.8,314.1 L454.5,314.1 L455.2,314.1 L455.9,314.1 L456.6,314.1 L457.3,314.1 L458.0,314.1 L458.7,314.1 L459.4,314.1 L460.1,314.1 L460.8,314.1 L461.5,314.1 L462.2,314.1 L462.9,314.1 L463.6,314.1 L464.3,314.1 L465.0,314.1 L465.1,314.1 Z" fill="#D6E8F6" stroke="#B0D2EE" stroke-width="0.45" stroke-linejoin="round" fill-opacity="0.9"/>
<line x1="387.50" y1="321.72" x2="465.60" y2="321.72" stroke="#80828E" stroke-width="0.8" />
<path d="M388.0,321.7 L388.0,321.7 L388.7,321.7 L389.4,321.7 L390.1,321.7 L390.8,321.7 L391.5,321.7 L392.2,321.7 L392.9,321.6 L393.6,321.6 L394.3,321.6 L395.0,321.6 L395.7,321.6 L396.4,321.6 L397.1,321.6 L397.8,321.6 L398.5,321.6 L399.2,321.5 L399.9,321.5 L400.6,321.5 L401.3,321.5 L402.0,321.5 L402.7,321.4 L403.4,321.4 L404.1,321.3 L404.8,320.9 L405.5,320.6 L406.2,319.6 L406.9,317.5 L407.6,315.0 L408.3,312.6 L409.0,309.9 L409.7,307.2 L410.4,307.1 L411.1,308.3 L411.8,308.5 L412.5,310.6 L413.2,312.0 L413.9,313.7 L414.6,315.5 L415.3,316.7 L416.0,318.2 L416.7,319.1 L417.4,319.9 L418.1,320.1 L418.8,320.5 L419.5,320.6 L420.2,320.6 L420.9,320.5 L421.6,320.8 L422.3,320.6 L423.0,320.6 L423.7,320.7 L424.4,320.6 L425.1,320.8 L425.8,320.9 L426.5,320.9 L427.2,320.9 L427.9,320.7 L428.6,320.7 L429.3,320.6 L430.0,320.6 L430.7,320.8 L431.4,320.8 L432.1,321.0 L432.8,320.9 L433.5,320.9 L434.2,320.9 L434.9,321.1 L435.6,321.0 L436.3,321.1 L437.0,321.0 L437.7,321.0 L438.4,321.2 L439.1,321.0 L439.8,321.0 L440.5,321.1 L441.2,321.1 L441.9,321.2 L442.6,321.3 L443.3,321.3 L444.0,321.3 L444.7,321.3 L445.4,321.4 L446.1,321.4 L446.8,321.4 L447.5,321.4 L448.2,321.5 L448.9,321.5 L449.6,321.5 L450.3,321.5 L451.0,321.5 L451.7,321.6 L452.4,321.6 L453.1,321.6 L453.8,321.6 L454.5,321.6 L455.2,321.6 L455.9,321.6 L456.6,321.6 L457.3,321.7 L458.0,321.7 L458.7,321.7 L459.4,321.7 L460.1,321.7 L460.8,321.7 L461.5,321.7 L462.2,321.7 L462.9,321.7 L463.6,321.7 L464.3,321.7 L465.0,321.7 L465.1,321.7 Z" fill="#8A8DA0" stroke="#5a5e72" stroke-width="0.45" stroke-linejoin="round" fill-opacity="0.9"/>
<line x1="387.50" y1="329.36" x2="465.60" y2="329.36" stroke="#A8A9B4" stroke-width="0.8" />
<path d="M388.0,329.4 L388.0,329.4 L388.7,329.4 L389.4,329.4 L390.1,329.4 L390.8,329.4 L391.5,329.4 L392.2,329.4 L392.9,329.4 L393.6,329.4 L394.3,329.4 L395.0,329.4 L395.7,329.4 L396.4,329.4 L397.1,329.4 L397.8,329.4 L398.5,329.4 L399.2,329.4 L399.9,329.4 L400.6,329.4 L401.3,329.4 L402.0,329.4 L402.7,329.4 L403.4,329.4 L404.1,329.4 L404.8,329.4 L405.5,329.4 L406.2,329.4 L406.9,329.4 L407.6,329.4 L408.3,329.4 L409.0,329.4 L409.7,329.4 L410.4,329.4 L411.1,329.4 L411.8,329.4 L412.5,329.4 L413.2,329.4 L413.9,329.4 L414.6,329.3 L415.3,329.3 L416.0,329.3 L416.7,329.2 L417.4,329.1 L418.1,329.0 L418.8,328.8 L419.5,328.4 L420.2,327.6 L420.9,326.8 L421.6,325.8 L422.3,324.6 L423.0,323.4 L423.7,321.8 L424.4,320.4 L425.1,318.9 L425.8,317.8 L426.5,316.9 L427.2,317.1 L427.9,317.9 L428.6,318.7 L429.3,319.0 L430.0,320.4 L430.7,321.1 L431.4,322.0 L432.1,323.3 L432.8,323.6 L433.5,324.4 L434.2,324.2 L434.9,324.2 L435.6,324.6 L436.3,324.4 L437.0,324.4 L437.7,324.9 L438.4,324.9 L439.1,325.4 L439.8,325.3 L440.5,325.6 L441.2,325.5 L441.9,326.0 L442.6,325.9 L443.3,325.4 L444.0,324.8 L444.7,324.4 L445.4,323.1 L446.1,322.1 L446.8,321.7 L447.5,321.4 L448.2,320.8 L448.9,320.8 L449.6,320.9 L450.3,321.5 L451.0,322.5 L451.7,323.8 L452.4,324.9 L453.1,325.7 L453.8,326.4 L454.5,327.2 L455.2,327.7 L455.9,328.3 L456.6,328.5 L457.3,328.8 L458.0,329.1 L458.7,329.2 L459.4,329.3 L460.1,329.3 L460.8,329.3 L461.5,329.3 L462.2,329.4 L462.9,329.4 L463.6,329.4 L464.3,329.4 L465.0,329.4 L465.1,329.4 Z" fill="#A8A9B8" stroke="#84869a" stroke-width="0.45" stroke-linejoin="round" fill-opacity="0.9"/>
<line x1="387.50" y1="337.00" x2="465.60" y2="337.00" stroke="#CACAD0" stroke-width="0.8" />
<path d="M388.0,337.0 L388.0,337.0 L388.7,337.0 L389.4,337.0 L390.1,337.0 L390.8,337.0 L391.5,337.0 L392.2,337.0 L392.9,337.0 L393.6,337.0 L394.3,337.0 L395.0,337.0 L395.7,337.0 L396.4,337.0 L397.1,337.0 L397.8,337.0 L398.5,337.0 L399.2,337.0 L399.9,337.0 L400.6,337.0 L401.3,337.0 L402.0,337.0 L402.7,336.9 L403.4,336.8 L404.1,336.6 L404.8,336.2 L405.5,335.7 L406.2,334.6 L406.9,333.0 L407.6,330.7 L408.3,328.3 L409.0,326.0 L409.7,325.5 L410.4,325.3 L411.1,326.6 L411.8,328.2 L412.5,330.0 L413.2,332.3 L413.9,334.0 L414.6,335.1 L415.3,336.0 L416.0,336.6 L416.7,336.8 L417.4,336.9 L418.1,337.0 L418.8,337.0 L419.5,337.0 L420.2,337.0 L420.9,337.0 L421.6,337.0 L422.3,337.0 L423.0,337.0 L423.7,337.0 L424.4,337.0 L425.1,337.0 L425.8,337.0 L426.5,337.0 L427.2,337.0 L427.9,337.0 L428.6,337.0 L429.3,337.0 L430.0,337.0 L430.7,337.0 L431.4,337.0 L432.1,337.0 L432.8,337.0 L433.5,337.0 L434.2,337.0 L434.9,337.0 L435.6,337.0 L436.3,337.0 L437.0,337.0 L437.7,337.0 L438.4,337.0 L439.1,337.0 L439.8,337.0 L440.5,337.0 L441.2,337.0 L441.9,337.0 L442.6,337.0 L443.3,337.0 L444.0,337.0 L444.7,337.0 L445.4,337.0 L446.1,337.0 L446.8,337.0 L447.5,337.0 L448.2,337.0 L448.9,337.0 L449.6,337.0 L450.3,337.0 L451.0,337.0 L451.7,337.0 L452.4,337.0 L453.1,337.0 L453.8,337.0 L454.5,337.0 L455.2,337.0 L455.9,337.0 L456.6,337.0 L457.3,337.0 L458.0,337.0 L458.7,337.0 L459.4,337.0 L460.1,337.0 L460.8,337.0 L461.5,337.0 L462.2,337.0 L462.9,337.0 L463.6,337.0 L464.3,337.0 L465.0,337.0 L465.1,337.0 Z" fill="#CDCDD5" stroke="#A8A9B6" stroke-width="0.45" stroke-linejoin="round" fill-opacity="0.9"/>
<line x1="420.50" y1="258.50" x2="420.50" y2="337.00" stroke="#555" stroke-width="0.9" />
<rect x="387.50" y="258.50" width="78.10" height="78.50" fill="none" stroke="#111" stroke-width="1.0" rx="0" />
<line x1="403.70" y1="337.00" x2="403.70" y2="339.00" stroke="#222" stroke-width="0.6" />
<text x="0" y="0" font-size="6.55" text-anchor="middle" fill="#222" stroke="#222" stroke-width="0.15" transform="translate(403.70 346.40) scale(0.8850 1)" dominant-baseline="central" >0</text>
<line x1="430.60" y1="337.00" x2="430.60" y2="339.00" stroke="#222" stroke-width="0.6" />
<text x="0" y="0" font-size="6.55" text-anchor="middle" fill="#222" stroke="#222" stroke-width="0.15" dominant-baseline="central" transform="translate(430.60 346.40) scale(0.8850 1)">10<tspan font-size="3.93" dy="-2.29">4</tspan></text>
<line x1="445.40" y1="337.00" x2="445.40" y2="339.00" stroke="#222" stroke-width="0.6" />
<text x="0" y="0" font-size="6.55" text-anchor="middle" fill="#222" stroke="#222" stroke-width="0.15" dominant-baseline="central" transform="translate(445.40 346.40) scale(0.8850 1)">10<tspan font-size="3.93" dy="-2.29">5</tspan></text>
<line x1="460.20" y1="337.00" x2="460.20" y2="339.00" stroke="#222" stroke-width="0.6" />
<text x="0" y="0" font-size="6.55" text-anchor="middle" fill="#222" stroke="#222" stroke-width="0.15" dominant-baseline="central" transform="translate(460.20 346.40) scale(0.8850 1)">10<tspan font-size="3.93" dy="-2.29">6</tspan></text>
<line x1="392.00" y1="337.00" x2="392.00" y2="338.10" stroke="#222" stroke-width="0.4" />
<line x1="395.00" y1="337.00" x2="395.00" y2="338.10" stroke="#222" stroke-width="0.4" />
<line x1="397.00" y1="337.00" x2="397.00" y2="338.10" stroke="#222" stroke-width="0.4" />
<line x1="399.00" y1="337.00" x2="399.00" y2="338.10" stroke="#222" stroke-width="0.4" />
<line x1="401.00" y1="337.00" x2="401.00" y2="338.10" stroke="#222" stroke-width="0.4" />
<line x1="406.00" y1="337.00" x2="406.00" y2="338.10" stroke="#222" stroke-width="0.4" />
<line x1="408.00" y1="337.00" x2="408.00" y2="338.10" stroke="#222" stroke-width="0.4" />
<line x1="410.00" y1="337.00" x2="410.00" y2="338.10" stroke="#222" stroke-width="0.4" />
<line x1="412.00" y1="337.00" x2="412.00" y2="338.10" stroke="#222" stroke-width="0.4" />
<line x1="414.00" y1="337.00" x2="414.00" y2="338.10" stroke="#222" stroke-width="0.4" />
<line x1="420.00" y1="337.00" x2="420.00" y2="338.10" stroke="#222" stroke-width="0.4" />
<line x1="423.00" y1="337.00" x2="423.00" y2="338.10" stroke="#222" stroke-width="0.4" />
<line x1="425.00" y1="337.00" x2="425.00" y2="338.10" stroke="#222" stroke-width="0.4" />
<line x1="427.00" y1="337.00" x2="427.00" y2="338.10" stroke="#222" stroke-width="0.4" />
<line x1="429.00" y1="337.00" x2="429.00" y2="338.10" stroke="#222" stroke-width="0.4" />
<line x1="435.00" y1="337.00" x2="435.00" y2="338.10" stroke="#222" stroke-width="0.4" />
<line x1="438.00" y1="337.00" x2="438.00" y2="338.10" stroke="#222" stroke-width="0.4" />
<line x1="440.00" y1="337.00" x2="440.00" y2="338.10" stroke="#222" stroke-width="0.4" />
<line x1="442.00" y1="337.00" x2="442.00" y2="338.10" stroke="#222" stroke-width="0.4" />
<line x1="444.00" y1="337.00" x2="444.00" y2="338.10" stroke="#222" stroke-width="0.4" />
<line x1="450.00" y1="337.00" x2="450.00" y2="338.10" stroke="#222" stroke-width="0.4" />
<line x1="453.00" y1="337.00" x2="453.00" y2="338.10" stroke="#222" stroke-width="0.4" />
<line x1="455.00" y1="337.00" x2="455.00" y2="338.10" stroke="#222" stroke-width="0.4" />
<line x1="457.00" y1="337.00" x2="457.00" y2="338.10" stroke="#222" stroke-width="0.4" />
<line x1="459.00" y1="337.00" x2="459.00" y2="338.10" stroke="#222" stroke-width="0.4" />
<line x1="463.00" y1="337.00" x2="463.00" y2="338.10" stroke="#222" stroke-width="0.4" />
<rect x="398.80" y="337.00" width="1.80" height="1.80" fill="#111" stroke="none" stroke-width="0.8" rx="0" />
<text x="0" y="0" font-size="6.33" text-anchor="start" fill="#333" stroke="#333" stroke-width="0.15" textLength="19.77" lengthAdjust="spacingAndGlyphs" transform="translate(471.00 256.00) scale(0.8850 1)" dominant-baseline="central" >Tumor</text>
<text x="0" y="0" font-size="6.33" text-anchor="start" fill="#333" stroke="#333" stroke-width="0.15" textLength="20.11" lengthAdjust="spacingAndGlyphs" transform="translate(495.40 256.00) scale(0.8850 1)" dominant-baseline="central" >Beads</text>
<line x1="478.50" y1="268.30" x2="481.10" y2="268.30" stroke="#B08050" stroke-width="0.7" />
<line x1="479.80" y1="267.00" x2="479.80" y2="269.60" stroke="#B08050" stroke-width="0.7" />
<line x1="500.50" y1="268.30" x2="503.10" y2="268.30" stroke="#B08050" stroke-width="0.7" />
<line x1="478.50" y1="276.55" x2="481.10" y2="276.55" stroke="#C8A080" stroke-width="0.7" />
<line x1="500.50" y1="276.55" x2="503.10" y2="276.55" stroke="#C8A080" stroke-width="0.7" />
<line x1="501.80" y1="275.25" x2="501.80" y2="277.85" stroke="#C8A080" stroke-width="0.7" />
<line x1="478.50" y1="284.80" x2="481.10" y2="284.80" stroke="#D0B8A0" stroke-width="0.7" />
<line x1="500.50" y1="284.80" x2="503.10" y2="284.80" stroke="#D0B8A0" stroke-width="0.7" />
<line x1="478.50" y1="293.05" x2="481.10" y2="293.05" stroke="#5A98CC" stroke-width="0.7" />
<line x1="479.80" y1="291.75" x2="479.80" y2="294.35" stroke="#5A98CC" stroke-width="0.7" />
<line x1="500.50" y1="293.05" x2="503.10" y2="293.05" stroke="#5A98CC" stroke-width="0.7" />
<line x1="478.50" y1="301.30" x2="481.10" y2="301.30" stroke="#88B8DC" stroke-width="0.7" />
<line x1="500.50" y1="301.30" x2="503.10" y2="301.30" stroke="#88B8DC" stroke-width="0.7" />
<line x1="501.80" y1="300.00" x2="501.80" y2="302.60" stroke="#88B8DC" stroke-width="0.7" />
<line x1="478.50" y1="309.55" x2="481.10" y2="309.55" stroke="#A8CCE4" stroke-width="0.7" />
<line x1="500.50" y1="309.55" x2="503.10" y2="309.55" stroke="#A8CCE4" stroke-width="0.7" />
<line x1="478.50" y1="317.80" x2="481.10" y2="317.80" stroke="#4a4e5a" stroke-width="0.7" />
<line x1="479.80" y1="316.50" x2="479.80" y2="319.10" stroke="#4a4e5a" stroke-width="0.7" />
<line x1="500.50" y1="317.80" x2="503.10" y2="317.80" stroke="#4a4e5a" stroke-width="0.7" />
<line x1="478.50" y1="326.05" x2="481.10" y2="326.05" stroke="#7a7c88" stroke-width="0.7" />
<line x1="500.50" y1="326.05" x2="503.10" y2="326.05" stroke="#7a7c88" stroke-width="0.7" />
<line x1="501.80" y1="324.75" x2="501.80" y2="327.35" stroke="#7a7c88" stroke-width="0.7" />
<line x1="478.50" y1="334.30" x2="481.10" y2="334.30" stroke="#A0A0A8" stroke-width="0.7" />
<line x1="500.50" y1="334.30" x2="503.10" y2="334.30" stroke="#A0A0A8" stroke-width="0.7" />
<line x1="387.50" y1="383.28" x2="465.60" y2="383.28" stroke="#CDB49A" stroke-width="0.8" />
<path d="M388.0,383.3 L388.0,383.3 L388.7,383.3 L389.4,383.3 L390.1,383.3 L390.8,383.3 L391.5,383.3 L392.2,383.3 L392.9,383.3 L393.6,383.3 L394.3,383.3 L395.0,383.3 L395.7,383.3 L396.4,383.3 L397.1,383.3 L397.8,383.3 L398.5,383.3 L399.2,383.3 L399.9,383.3 L400.6,383.3 L401.3,383.3 L402.0,383.3 L402.7,383.3 L403.4,383.3 L404.1,383.3 L404.8,383.3 L405.5,383.3 L406.2,383.3 L406.9,383.3 L407.6,383.3 L408.3,383.3 L409.0,383.3 L409.7,383.3 L410.4,383.2 L411.1,383.2 L411.8,383.2 L412.5,383.1 L413.2,383.0 L413.9,382.9 L414.6,382.6 L415.3,382.5 L416.0,382.1 L416.7,381.7 L417.4,381.3 L418.1,381.1 L418.8,381.0 L419.5,381.1 L420.2,380.9 L420.9,380.9 L421.6,380.5 L422.3,380.3 L423.0,379.9 L423.7,379.6 L424.4,379.3 L425.1,378.3 L425.8,377.5 L426.5,377.0 L427.2,376.8 L427.9,376.2 L428.6,375.9 L429.3,375.6 L430.0,375.9 L430.7,376.6 L431.4,377.5 L432.1,378.7 L432.8,379.9 L433.5,380.8 L434.2,381.0 L434.9,381.3 L435.6,381.6 L436.3,381.2 L437.0,380.8 L437.7,380.4 L438.4,379.2 L439.1,378.0 L439.8,376.5 L440.5,375.1 L441.2,374.3 L441.9,372.7 L442.6,371.1 L443.3,369.8 L444.0,369.8 L444.7,369.7 L445.4,369.6 L446.1,370.6 L446.8,370.6 L447.5,371.2 L448.2,373.0 L448.9,373.8 L449.6,375.1 L450.3,376.4 L451.0,377.2 L451.7,377.9 L452.4,379.0 L453.1,380.1 L453.8,380.8 L454.5,381.2 L455.2,381.6 L455.9,382.0 L456.6,382.6 L457.3,382.6 L458.0,382.9 L458.7,383.0 L459.4,383.1 L460.1,383.2 L460.8,383.2 L461.5,383.2 L462.2,383.3 L462.9,383.3 L463.6,383.3 L464.3,383.3 L465.0,383.3 L465.1,383.3 Z" fill="#D99C5E" stroke="#BE8040" stroke-width="0.45" stroke-linejoin="round" fill-opacity="0.9"/>
<line x1="387.50" y1="391.02" x2="465.60" y2="391.02" stroke="#DCC8B4" stroke-width="0.8" />
<path d="M388.0,391.0 L388.0,391.0 L388.7,391.0 L389.4,391.0 L390.1,391.0 L390.8,391.0 L391.5,391.0 L392.2,391.0 L392.9,391.0 L393.6,391.0 L394.3,391.0 L395.0,391.0 L395.7,391.0 L396.4,391.0 L397.1,391.0 L397.8,391.0 L398.5,391.0 L399.2,391.0 L399.9,391.0 L400.6,391.0 L401.3,391.0 L402.0,391.0 L402.7,391.0 L403.4,391.0 L404.1,391.0 L404.8,391.0 L405.5,391.0 L406.2,391.0 L406.9,391.0 L407.6,391.0 L408.3,391.0 L409.0,391.0 L409.7,391.0 L410.4,391.0 L411.1,391.0 L411.8,391.0 L412.5,391.0 L413.2,391.0 L413.9,391.0 L414.6,391.0 L415.3,391.0 L416.0,391.0 L416.7,390.9 L417.4,390.9 L418.1,390.8 L418.8,390.6 L419.5,390.3 L420.2,389.9 L420.9,389.6 L421.6,389.1 L422.3,388.6 L423.0,387.9 L423.7,387.3 L424.4,386.5 L425.1,385.5 L425.8,384.4 L426.5,384.1 L427.2,384.3 L427.9,384.6 L428.6,384.8 L429.3,385.6 L430.0,386.5 L430.7,386.8 L431.4,387.4 L432.1,388.1 L432.8,388.5 L433.5,388.6 L434.2,388.2 L434.9,388.3 L435.6,388.0 L436.3,387.6 L437.0,387.9 L437.7,388.0 L438.4,388.0 L439.1,388.0 L439.8,388.4 L440.5,388.5 L441.2,388.5 L441.9,388.4 L442.6,387.7 L443.3,386.8 L444.0,386.1 L444.7,385.6 L445.4,384.3 L446.1,383.2 L446.8,382.4 L447.5,382.2 L448.2,381.5 L448.9,381.4 L449.6,381.7 L450.3,382.3 L451.0,383.3 L451.7,384.1 L452.4,384.8 L453.1,385.7 L453.8,386.9 L454.5,387.6 L455.2,388.3 L455.9,389.3 L456.6,389.9 L457.3,390.3 L458.0,390.6 L458.7,390.6 L459.4,390.8 L460.1,390.9 L460.8,390.9 L461.5,391.0 L462.2,391.0 L462.9,391.0 L463.6,391.0 L464.3,391.0 L465.0,391.0 L465.1,391.0 Z" fill="#EAC6A6" stroke="#D8AC86" stroke-width="0.45" stroke-linejoin="round" fill-opacity="0.9"/>
<line x1="387.50" y1="398.76" x2="465.60" y2="398.76" stroke="#E4D4C4" stroke-width="0.8" />
<path d="M388.0,398.8 L388.0,398.8 L388.7,398.8 L389.4,398.8 L390.1,398.8 L390.8,398.8 L391.5,398.8 L392.2,398.8 L392.9,398.8 L393.6,398.8 L394.3,398.8 L395.0,398.8 L395.7,398.8 L396.4,398.8 L397.1,398.8 L397.8,398.8 L398.5,398.8 L399.2,398.8 L399.9,398.8 L400.6,398.8 L401.3,398.8 L402.0,398.8 L402.7,398.8 L403.4,398.7 L404.1,398.7 L404.8,398.6 L405.5,398.5 L406.2,398.2 L406.9,397.5 L407.6,396.6 L408.3,395.0 L409.0,393.1 L409.7,391.1 L410.4,388.8 L411.1,387.4 L411.8,386.6 L412.5,386.5 L413.2,388.6 L413.9,390.4 L414.6,393.0 L415.3,394.7 L416.0,396.2 L416.7,397.5 L417.4,398.0 L418.1,398.5 L418.8,398.6 L419.5,398.7 L420.2,398.7 L420.9,398.8 L421.6,398.8 L422.3,398.8 L423.0,398.8 L423.7,398.8 L424.4,398.8 L425.1,398.8 L425.8,398.8 L426.5,398.8 L427.2,398.8 L427.9,398.8 L428.6,398.8 L429.3,398.8 L430.0,398.8 L430.7,398.8 L431.4,398.8 L432.1,398.8 L432.8,398.8 L433.5,398.8 L434.2,398.8 L434.9,398.8 L435.6,398.8 L436.3,398.8 L437.0,398.8 L437.7,398.8 L438.4,398.8 L439.1,398.8 L439.8,398.8 L440.5,398.8 L441.2,398.8 L441.9,398.8 L442.6,398.8 L443.3,398.8 L444.0,398.8 L444.7,398.8 L445.4,398.8 L446.1,398.8 L446.8,398.8 L447.5,398.8 L448.2,398.8 L448.9,398.8 L449.6,398.8 L450.3,398.8 L451.0,398.8 L451.7,398.8 L452.4,398.8 L453.1,398.8 L453.8,398.8 L454.5,398.8 L455.2,398.8 L455.9,398.8 L456.6,398.8 L457.3,398.8 L458.0,398.8 L458.7,398.8 L459.4,398.8 L460.1,398.8 L460.8,398.8 L461.5,398.8 L462.2,398.8 L462.9,398.8 L463.6,398.8 L464.3,398.8 L465.0,398.8 L465.1,398.8 Z" fill="#F2DAC4" stroke="#E2C0A2" stroke-width="0.45" stroke-linejoin="round" fill-opacity="0.9"/>
<line x1="387.50" y1="406.50" x2="465.60" y2="406.50" stroke="#9CC2DE" stroke-width="0.8" />
<path d="M388.0,406.5 L388.0,406.5 L388.7,406.5 L389.4,406.5 L390.1,406.5 L390.8,406.5 L391.5,406.5 L392.2,406.5 L392.9,406.5 L393.6,406.5 L394.3,406.5 L395.0,406.5 L395.7,406.5 L396.4,406.5 L397.1,406.5 L397.8,406.5 L398.5,406.5 L399.2,406.5 L399.9,406.5 L400.6,406.5 L401.3,406.5 L402.0,406.5 L402.7,406.5 L403.4,406.5 L404.1,406.5 L404.8,406.5 L405.5,406.5 L406.2,406.5 L406.9,406.5 L407.6,406.5 L408.3,406.5 L409.0,406.5 L409.7,406.5 L410.4,406.5 L411.1,406.5 L411.8,406.5 L412.5,406.5 L413.2,406.5 L413.9,406.4 L414.6,406.3 L415.3,406.2 L416.0,405.9 L416.7,405.7 L417.4,405.2 L418.1,404.5 L418.8,403.8 L419.5,402.7 L420.2,401.4 L420.9,399.5 L421.6,398.6 L422.3,397.4 L423.0,396.0 L423.7,394.2 L424.4,393.1 L425.1,393.6 L425.8,393.1 L426.5,394.0 L427.2,394.5 L427.9,395.5 L428.6,397.5 L429.3,398.0 L430.0,399.0 L430.7,400.0 L431.4,400.2 L432.1,400.7 L432.8,400.3 L433.5,400.2 L434.2,400.4 L434.9,400.3 L435.6,399.8 L436.3,399.0 L437.0,398.7 L437.7,398.3 L438.4,397.4 L439.1,397.0 L439.8,396.2 L440.5,394.9 L441.2,395.2 L441.9,395.4 L442.6,395.1 L443.3,395.8 L444.0,396.6 L444.7,397.2 L445.4,397.4 L446.1,397.9 L446.8,398.6 L447.5,399.9 L448.2,400.7 L448.9,401.6 L449.6,402.1 L450.3,402.8 L451.0,403.2 L451.7,403.8 L452.4,404.3 L453.1,404.9 L453.8,405.2 L454.5,405.6 L455.2,405.9 L455.9,405.9 L456.6,406.1 L457.3,406.2 L458.0,406.2 L458.7,406.3 L459.4,406.4 L460.1,406.4 L460.8,406.4 L461.5,406.5 L462.2,406.5 L462.9,406.5 L463.6,406.5 L464.3,406.5 L465.0,406.5 L465.1,406.5 Z" fill="#8DC4EC" stroke="#5FA8DC" stroke-width="0.45" stroke-linejoin="round" fill-opacity="0.9"/>
<line x1="387.50" y1="414.24" x2="465.60" y2="414.24" stroke="#BCD6EA" stroke-width="0.8" />
<path d="M388.0,414.2 L388.0,414.2 L388.7,414.2 L389.4,414.2 L390.1,414.2 L390.8,414.2 L391.5,414.2 L392.2,414.2 L392.9,414.2 L393.6,414.2 L394.3,414.2 L395.0,414.2 L395.7,414.2 L396.4,414.2 L397.1,414.2 L397.8,414.2 L398.5,414.2 L399.2,414.2 L399.9,414.2 L400.6,414.2 L401.3,414.2 L402.0,414.2 L402.7,414.2 L403.4,414.2 L404.1,414.2 L404.8,414.2 L405.5,414.2 L406.2,414.2 L406.9,414.2 L407.6,414.2 L408.3,414.2 L409.0,414.2 L409.7,414.2 L410.4,414.2 L411.1,414.2 L411.8,414.2 L412.5,414.2 L413.2,414.2 L413.9,414.2 L414.6,414.2 L415.3,414.1 L416.0,414.0 L416.7,413.9 L417.4,413.7 L418.1,413.4 L418.8,412.9 L419.5,412.4 L420.2,411.5 L420.9,410.6 L421.6,409.7 L422.3,408.5 L423.0,407.6 L423.7,406.6 L424.4,405.7 L425.1,404.2 L425.8,404.2 L426.5,404.3 L427.2,404.5 L427.9,405.2 L428.6,406.5 L429.3,408.1 L430.0,409.1 L430.7,410.0 L431.4,410.4 L432.1,411.1 L432.8,411.2 L433.5,410.8 L434.2,410.4 L434.9,409.9 L435.6,409.3 L436.3,409.3 L437.0,408.9 L437.7,408.9 L438.4,409.7 L439.1,410.2 L439.8,410.8 L440.5,411.2 L441.2,411.4 L441.9,411.6 L442.6,411.2 L443.3,410.4 L444.0,409.5 L444.7,408.4 L445.4,407.7 L446.1,406.4 L446.8,405.2 L447.5,404.5 L448.2,404.0 L448.9,404.3 L449.6,404.3 L450.3,405.4 L451.0,406.2 L451.7,407.5 L452.4,408.6 L453.1,410.0 L453.8,411.0 L454.5,411.7 L455.2,412.5 L455.9,413.0 L456.6,413.3 L457.3,413.7 L458.0,413.9 L458.7,414.1 L459.4,414.1 L460.1,414.2 L460.8,414.2 L461.5,414.2 L462.2,414.2 L462.9,414.2 L463.6,414.2 L464.3,414.2 L465.0,414.2 L465.1,414.2 Z" fill="#B9DAF2" stroke="#90C2EA" stroke-width="0.45" stroke-linejoin="round" fill-opacity="0.9"/>
<line x1="387.50" y1="421.98" x2="465.60" y2="421.98" stroke="#D4E4F0" stroke-width="0.8" />
<path d="M388.0,422.0 L388.0,422.0 L388.7,422.0 L389.4,422.0 L390.1,422.0 L390.8,422.0 L391.5,422.0 L392.2,422.0 L392.9,422.0 L393.6,422.0 L394.3,422.0 L395.0,422.0 L395.7,422.0 L396.4,422.0 L397.1,422.0 L397.8,422.0 L398.5,422.0 L399.2,422.0 L399.9,422.0 L400.6,422.0 L401.3,422.0 L402.0,422.0 L402.7,421.9 L403.4,421.9 L404.1,421.7 L404.8,421.3 L405.5,420.7 L406.2,419.4 L406.9,417.7 L407.6,415.0 L408.3,412.8 L409.0,410.1 L409.7,409.2 L410.4,408.0 L411.1,408.8 L411.8,411.8 L412.5,414.1 L413.2,416.8 L413.9,418.8 L414.6,420.0 L415.3,421.1 L416.0,421.7 L416.7,421.8 L417.4,421.9 L418.1,422.0 L418.8,422.0 L419.5,422.0 L420.2,422.0 L420.9,422.0 L421.6,422.0 L422.3,422.0 L423.0,422.0 L423.7,422.0 L424.4,422.0 L425.1,422.0 L425.8,422.0 L426.5,422.0 L427.2,422.0 L427.9,422.0 L428.6,422.0 L429.3,422.0 L430.0,422.0 L430.7,422.0 L431.4,422.0 L432.1,422.0 L432.8,422.0 L433.5,422.0 L434.2,422.0 L434.9,422.0 L435.6,422.0 L436.3,422.0 L437.0,422.0 L437.7,422.0 L438.4,422.0 L439.1,422.0 L439.8,422.0 L440.5,422.0 L441.2,422.0 L441.9,422.0 L442.6,422.0 L443.3,422.0 L444.0,422.0 L444.7,422.0 L445.4,422.0 L446.1,422.0 L446.8,422.0 L447.5,422.0 L448.2,422.0 L448.9,422.0 L449.6,422.0 L450.3,422.0 L451.0,422.0 L451.7,422.0 L452.4,422.0 L453.1,422.0 L453.8,422.0 L454.5,422.0 L455.2,422.0 L455.9,422.0 L456.6,422.0 L457.3,422.0 L458.0,422.0 L458.7,422.0 L459.4,422.0 L460.1,422.0 L460.8,422.0 L461.5,422.0 L462.2,422.0 L462.9,422.0 L463.6,422.0 L464.3,422.0 L465.0,422.0 L465.1,422.0 Z" fill="#D6E8F6" stroke="#B0D2EE" stroke-width="0.45" stroke-linejoin="round" fill-opacity="0.9"/>
<line x1="387.50" y1="429.72" x2="465.60" y2="429.72" stroke="#80828E" stroke-width="0.8" />
<path d="M388.0,429.7 L388.0,429.7 L388.7,429.7 L389.4,429.7 L390.1,429.6 L390.8,429.6 L391.5,429.6 L392.2,429.6 L392.9,429.6 L393.6,429.6 L394.3,429.6 L395.0,429.6 L395.7,429.5 L396.4,429.5 L397.1,429.5 L397.8,429.5 L398.5,429.5 L399.2,429.4 L399.9,429.4 L400.6,429.4 L401.3,429.3 L402.0,429.4 L402.7,429.4 L403.4,429.4 L404.1,429.2 L404.8,429.0 L405.5,429.0 L406.2,428.6 L406.9,427.4 L407.6,426.0 L408.3,423.5 L409.0,420.5 L409.7,417.8 L410.4,415.3 L411.1,414.8 L411.8,415.3 L412.5,416.5 L413.2,418.3 L413.9,420.2 L414.6,421.7 L415.3,423.2 L416.0,424.3 L416.7,425.7 L417.4,426.6 L418.1,427.0 L418.8,427.4 L419.5,427.7 L420.2,427.9 L420.9,427.8 L421.6,428.1 L422.3,428.0 L423.0,428.2 L423.7,428.3 L424.4,428.2 L425.1,428.2 L425.8,428.2 L426.5,428.3 L427.2,428.3 L427.9,428.3 L428.6,428.2 L429.3,428.1 L430.0,428.2 L430.7,428.3 L431.4,428.1 L432.1,428.1 L432.8,428.2 L433.5,428.3 L434.2,428.5 L434.9,428.6 L435.6,428.7 L436.3,428.5 L437.0,428.5 L437.7,428.7 L438.4,428.7 L439.1,428.8 L439.8,428.8 L440.5,428.9 L441.2,429.0 L441.9,429.1 L442.6,429.2 L443.3,429.1 L444.0,429.1 L444.7,429.2 L445.4,429.2 L446.1,429.1 L446.8,429.3 L447.5,429.3 L448.2,429.2 L448.9,429.3 L449.6,429.4 L450.3,429.4 L451.0,429.4 L451.7,429.5 L452.4,429.5 L453.1,429.5 L453.8,429.5 L454.5,429.5 L455.2,429.6 L455.9,429.6 L456.6,429.6 L457.3,429.6 L458.0,429.6 L458.7,429.6 L459.4,429.6 L460.1,429.7 L460.8,429.7 L461.5,429.7 L462.2,429.7 L462.9,429.7 L463.6,429.7 L464.3,429.7 L465.0,429.7 L465.1,429.7 Z" fill="#8A8DA0" stroke="#5a5e72" stroke-width="0.45" stroke-linejoin="round" fill-opacity="0.9"/>
<line x1="387.50" y1="437.46" x2="465.60" y2="437.46" stroke="#A8A9B4" stroke-width="0.8" />
<path d="M388.0,437.5 L388.0,437.5 L388.7,437.5 L389.4,437.5 L390.1,437.5 L390.8,437.5 L391.5,437.5 L392.2,437.5 L392.9,437.5 L393.6,437.5 L394.3,437.5 L395.0,437.5 L395.7,437.5 L396.4,437.5 L397.1,437.5 L397.8,437.5 L398.5,437.5 L399.2,437.5 L399.9,437.5 L400.6,437.5 L401.3,437.5 L402.0,437.5 L402.7,437.5 L403.4,437.5 L404.1,437.5 L404.8,437.5 L405.5,437.5 L406.2,437.5 L406.9,437.5 L407.6,437.5 L408.3,437.5 L409.0,437.5 L409.7,437.5 L410.4,437.5 L411.1,437.5 L411.8,437.5 L412.5,437.5 L413.2,437.5 L413.9,437.5 L414.6,437.5 L415.3,437.5 L416.0,437.5 L416.7,437.4 L417.4,437.4 L418.1,437.4 L418.8,437.3 L419.5,437.2 L420.2,437.0 L420.9,436.7 L421.6,436.1 L422.3,435.4 L423.0,434.3 L423.7,432.7 L424.4,431.6 L425.1,430.0 L425.8,428.1 L426.5,427.4 L427.2,426.7 L427.9,425.6 L428.6,425.2 L429.3,426.3 L430.0,427.5 L430.7,427.8 L431.4,429.3 L432.1,430.1 L432.8,430.9 L433.5,431.5 L434.2,431.6 L434.9,431.7 L435.6,431.8 L436.3,431.7 L437.0,431.5 L437.7,431.3 L438.4,431.3 L439.1,431.2 L439.8,431.0 L440.5,430.2 L441.2,429.8 L441.9,429.9 L442.6,429.1 L443.3,429.2 L444.0,428.7 L444.7,428.7 L445.4,428.9 L446.1,429.1 L446.8,429.1 L447.5,429.7 L448.2,430.4 L448.9,431.2 L449.6,432.1 L450.3,433.1 L451.0,434.2 L451.7,434.9 L452.4,435.7 L453.1,436.2 L453.8,436.6 L454.5,436.8 L455.2,437.2 L455.9,437.3 L456.6,437.4 L457.3,437.4 L458.0,437.4 L458.7,437.4 L459.4,437.5 L460.1,437.5 L460.8,437.5 L461.5,437.5 L462.2,437.5 L462.9,437.5 L463.6,437.5 L464.3,437.5 L465.0,437.5 L465.1,437.5 Z" fill="#A8A9B8" stroke="#84869a" stroke-width="0.45" stroke-linejoin="round" fill-opacity="0.9"/>
<line x1="387.50" y1="445.20" x2="465.60" y2="445.20" stroke="#CACAD0" stroke-width="0.8" />
<path d="M388.0,445.2 L388.0,445.2 L388.7,445.2 L389.4,445.2 L390.1,445.2 L390.8,445.2 L391.5,445.2 L392.2,445.2 L392.9,445.2 L393.6,445.2 L394.3,445.2 L395.0,445.2 L395.7,445.2 L396.4,445.2 L397.1,445.2 L397.8,445.2 L398.5,445.2 L399.2,445.2 L399.9,445.2 L400.6,445.2 L401.3,445.2 L402.0,445.2 L402.7,445.1 L403.4,445.0 L404.1,444.8 L404.8,444.5 L405.5,443.7 L406.2,442.7 L406.9,440.8 L407.6,438.9 L408.3,436.6 L409.0,434.1 L409.7,433.2 L410.4,432.4 L411.1,433.3 L411.8,435.3 L412.5,437.5 L413.2,439.8 L413.9,441.9 L414.6,443.0 L415.3,444.1 L416.0,444.5 L416.7,445.0 L417.4,445.1 L418.1,445.2 L418.8,445.2 L419.5,445.2 L420.2,445.2 L420.9,445.2 L421.6,445.2 L422.3,445.2 L423.0,445.2 L423.7,445.2 L424.4,445.2 L425.1,445.2 L425.8,445.2 L426.5,445.2 L427.2,445.2 L427.9,445.2 L428.6,445.2 L429.3,445.2 L430.0,445.2 L430.7,445.2 L431.4,445.2 L432.1,445.2 L432.8,445.2 L433.5,445.2 L434.2,445.2 L434.9,445.2 L435.6,445.2 L436.3,445.2 L437.0,445.2 L437.7,445.2 L438.4,445.2 L439.1,445.2 L439.8,445.2 L440.5,445.2 L441.2,445.2 L441.9,445.2 L442.6,445.2 L443.3,445.2 L444.0,445.2 L444.7,445.2 L445.4,445.2 L446.1,445.2 L446.8,445.2 L447.5,445.2 L448.2,445.2 L448.9,445.2 L449.6,445.2 L450.3,445.2 L451.0,445.2 L451.7,445.2 L452.4,445.2 L453.1,445.2 L453.8,445.2 L454.5,445.2 L455.2,445.2 L455.9,445.2 L456.6,445.2 L457.3,445.2 L458.0,445.2 L458.7,445.2 L459.4,445.2 L460.1,445.2 L460.8,445.2 L461.5,445.2 L462.2,445.2 L462.9,445.2 L463.6,445.2 L464.3,445.2 L465.0,445.2 L465.1,445.2 Z" fill="#CDCDD5" stroke="#A8A9B6" stroke-width="0.45" stroke-linejoin="round" fill-opacity="0.9"/>
<line x1="420.50" y1="367.10" x2="420.50" y2="445.20" stroke="#555" stroke-width="0.9" />
<rect x="387.50" y="367.10" width="78.10" height="78.10" fill="none" stroke="#111" stroke-width="1.0" rx="0" />
<line x1="403.70" y1="445.20" x2="403.70" y2="447.20" stroke="#222" stroke-width="0.6" />
<text x="0" y="0" font-size="6.55" text-anchor="middle" fill="#222" stroke="#222" stroke-width="0.15" transform="translate(403.70 454.60) scale(0.8850 1)" dominant-baseline="central" >0</text>
<line x1="430.60" y1="445.20" x2="430.60" y2="447.20" stroke="#222" stroke-width="0.6" />
<text x="0" y="0" font-size="6.55" text-anchor="middle" fill="#222" stroke="#222" stroke-width="0.15" dominant-baseline="central" transform="translate(430.60 454.60) scale(0.8850 1)">10<tspan font-size="3.93" dy="-2.29">4</tspan></text>
<line x1="445.40" y1="445.20" x2="445.40" y2="447.20" stroke="#222" stroke-width="0.6" />
<text x="0" y="0" font-size="6.55" text-anchor="middle" fill="#222" stroke="#222" stroke-width="0.15" dominant-baseline="central" transform="translate(445.40 454.60) scale(0.8850 1)">10<tspan font-size="3.93" dy="-2.29">5</tspan></text>
<line x1="460.20" y1="445.20" x2="460.20" y2="447.20" stroke="#222" stroke-width="0.6" />
<text x="0" y="0" font-size="6.55" text-anchor="middle" fill="#222" stroke="#222" stroke-width="0.15" dominant-baseline="central" transform="translate(460.20 454.60) scale(0.8850 1)">10<tspan font-size="3.93" dy="-2.29">6</tspan></text>
<line x1="392.00" y1="445.20" x2="392.00" y2="446.30" stroke="#222" stroke-width="0.4" />
<line x1="395.00" y1="445.20" x2="395.00" y2="446.30" stroke="#222" stroke-width="0.4" />
<line x1="397.00" y1="445.20" x2="397.00" y2="446.30" stroke="#222" stroke-width="0.4" />
<line x1="399.00" y1="445.20" x2="399.00" y2="446.30" stroke="#222" stroke-width="0.4" />
<line x1="401.00" y1="445.20" x2="401.00" y2="446.30" stroke="#222" stroke-width="0.4" />
<line x1="406.00" y1="445.20" x2="406.00" y2="446.30" stroke="#222" stroke-width="0.4" />
<line x1="408.00" y1="445.20" x2="408.00" y2="446.30" stroke="#222" stroke-width="0.4" />
<line x1="410.00" y1="445.20" x2="410.00" y2="446.30" stroke="#222" stroke-width="0.4" />
<line x1="412.00" y1="445.20" x2="412.00" y2="446.30" stroke="#222" stroke-width="0.4" />
<line x1="414.00" y1="445.20" x2="414.00" y2="446.30" stroke="#222" stroke-width="0.4" />
<line x1="420.00" y1="445.20" x2="420.00" y2="446.30" stroke="#222" stroke-width="0.4" />
<line x1="423.00" y1="445.20" x2="423.00" y2="446.30" stroke="#222" stroke-width="0.4" />
<line x1="425.00" y1="445.20" x2="425.00" y2="446.30" stroke="#222" stroke-width="0.4" />
<line x1="427.00" y1="445.20" x2="427.00" y2="446.30" stroke="#222" stroke-width="0.4" />
<line x1="429.00" y1="445.20" x2="429.00" y2="446.30" stroke="#222" stroke-width="0.4" />
<line x1="435.00" y1="445.20" x2="435.00" y2="446.30" stroke="#222" stroke-width="0.4" />
<line x1="438.00" y1="445.20" x2="438.00" y2="446.30" stroke="#222" stroke-width="0.4" />
<line x1="440.00" y1="445.20" x2="440.00" y2="446.30" stroke="#222" stroke-width="0.4" />
<line x1="442.00" y1="445.20" x2="442.00" y2="446.30" stroke="#222" stroke-width="0.4" />
<line x1="444.00" y1="445.20" x2="444.00" y2="446.30" stroke="#222" stroke-width="0.4" />
<line x1="450.00" y1="445.20" x2="450.00" y2="446.30" stroke="#222" stroke-width="0.4" />
<line x1="453.00" y1="445.20" x2="453.00" y2="446.30" stroke="#222" stroke-width="0.4" />
<line x1="455.00" y1="445.20" x2="455.00" y2="446.30" stroke="#222" stroke-width="0.4" />
<line x1="457.00" y1="445.20" x2="457.00" y2="446.30" stroke="#222" stroke-width="0.4" />
<line x1="459.00" y1="445.20" x2="459.00" y2="446.30" stroke="#222" stroke-width="0.4" />
<line x1="463.00" y1="445.20" x2="463.00" y2="446.30" stroke="#222" stroke-width="0.4" />
<rect x="398.80" y="445.20" width="1.80" height="1.80" fill="#111" stroke="none" stroke-width="0.8" rx="0" />
<text x="0" y="0" font-size="6.33" text-anchor="start" fill="#333" stroke="#333" stroke-width="0.15" textLength="19.77" lengthAdjust="spacingAndGlyphs" transform="translate(471.00 364.60) scale(0.8850 1)" dominant-baseline="central" >Tumor</text>
<text x="0" y="0" font-size="6.33" text-anchor="start" fill="#333" stroke="#333" stroke-width="0.15" textLength="20.11" lengthAdjust="spacingAndGlyphs" transform="translate(495.40 364.60) scale(0.8850 1)" dominant-baseline="central" >Beads</text>
<line x1="478.50" y1="376.90" x2="481.10" y2="376.90" stroke="#B08050" stroke-width="0.7" />
<line x1="479.80" y1="375.60" x2="479.80" y2="378.20" stroke="#B08050" stroke-width="0.7" />
<line x1="500.50" y1="376.90" x2="503.10" y2="376.90" stroke="#B08050" stroke-width="0.7" />
<line x1="478.50" y1="385.15" x2="481.10" y2="385.15" stroke="#C8A080" stroke-width="0.7" />
<line x1="500.50" y1="385.15" x2="503.10" y2="385.15" stroke="#C8A080" stroke-width="0.7" />
<line x1="501.80" y1="383.85" x2="501.80" y2="386.45" stroke="#C8A080" stroke-width="0.7" />
<line x1="478.50" y1="393.40" x2="481.10" y2="393.40" stroke="#D0B8A0" stroke-width="0.7" />
<line x1="500.50" y1="393.40" x2="503.10" y2="393.40" stroke="#D0B8A0" stroke-width="0.7" />
<line x1="478.50" y1="401.65" x2="481.10" y2="401.65" stroke="#5A98CC" stroke-width="0.7" />
<line x1="479.80" y1="400.35" x2="479.80" y2="402.95" stroke="#5A98CC" stroke-width="0.7" />
<line x1="500.50" y1="401.65" x2="503.10" y2="401.65" stroke="#5A98CC" stroke-width="0.7" />
<line x1="478.50" y1="409.90" x2="481.10" y2="409.90" stroke="#88B8DC" stroke-width="0.7" />
<line x1="500.50" y1="409.90" x2="503.10" y2="409.90" stroke="#88B8DC" stroke-width="0.7" />
<line x1="501.80" y1="408.60" x2="501.80" y2="411.20" stroke="#88B8DC" stroke-width="0.7" />
<line x1="478.50" y1="418.15" x2="481.10" y2="418.15" stroke="#A8CCE4" stroke-width="0.7" />
<line x1="500.50" y1="418.15" x2="503.10" y2="418.15" stroke="#A8CCE4" stroke-width="0.7" />
<line x1="478.50" y1="426.40" x2="481.10" y2="426.40" stroke="#4a4e5a" stroke-width="0.7" />
<line x1="479.80" y1="425.10" x2="479.80" y2="427.70" stroke="#4a4e5a" stroke-width="0.7" />
<line x1="500.50" y1="426.40" x2="503.10" y2="426.40" stroke="#4a4e5a" stroke-width="0.7" />
<line x1="478.50" y1="434.65" x2="481.10" y2="434.65" stroke="#7a7c88" stroke-width="0.7" />
<line x1="500.50" y1="434.65" x2="503.10" y2="434.65" stroke="#7a7c88" stroke-width="0.7" />
<line x1="501.80" y1="433.35" x2="501.80" y2="435.95" stroke="#7a7c88" stroke-width="0.7" />
<line x1="478.50" y1="442.90" x2="481.10" y2="442.90" stroke="#A0A0A8" stroke-width="0.7" />
<line x1="500.50" y1="442.90" x2="503.10" y2="442.90" stroke="#A0A0A8" stroke-width="0.7" />
<line x1="387.50" y1="487.36" x2="465.60" y2="487.36" stroke="#CDB49A" stroke-width="0.8" />
<path d="M388.0,487.4 L388.0,487.4 L388.7,487.4 L389.4,487.4 L390.1,487.4 L390.8,487.4 L391.5,487.4 L392.2,487.4 L392.9,487.4 L393.6,487.4 L394.3,487.4 L395.0,487.4 L395.7,487.4 L396.4,487.4 L397.1,487.4 L397.8,487.4 L398.5,487.4 L399.2,487.4 L399.9,487.4 L400.6,487.4 L401.3,487.4 L402.0,487.3 L402.7,487.3 L403.4,487.1 L404.1,486.7 L404.8,486.3 L405.5,485.2 L406.2,483.7 L406.9,481.3 L407.6,479.2 L408.3,476.6 L409.0,475.8 L409.7,474.7 L410.4,475.9 L411.1,478.0 L411.8,480.3 L412.5,482.3 L413.2,484.4 L413.9,485.7 L414.6,486.7 L415.3,487.2 L416.0,487.2 L416.7,487.3 L417.4,487.3 L418.1,487.4 L418.8,487.4 L419.5,487.4 L420.2,487.4 L420.9,487.4 L421.6,487.4 L422.3,487.4 L423.0,487.4 L423.7,487.4 L424.4,487.4 L425.1,487.4 L425.8,487.4 L426.5,487.4 L427.2,487.4 L427.9,487.4 L428.6,487.4 L429.3,487.4 L430.0,487.4 L430.7,487.4 L431.4,487.4 L432.1,487.4 L432.8,487.4 L433.5,487.4 L434.2,487.4 L434.9,487.4 L435.6,487.4 L436.3,487.4 L437.0,487.4 L437.7,487.4 L438.4,487.4 L439.1,487.4 L439.8,487.4 L440.5,487.4 L441.2,487.4 L441.9,487.4 L442.6,487.4 L443.3,487.4 L444.0,487.4 L444.7,487.4 L445.4,487.4 L446.1,487.4 L446.8,487.4 L447.5,487.4 L448.2,487.4 L448.9,487.4 L449.6,487.4 L450.3,487.4 L451.0,487.4 L451.7,487.4 L452.4,487.4 L453.1,487.4 L453.8,487.4 L454.5,487.4 L455.2,487.4 L455.9,487.4 L456.6,487.4 L457.3,487.4 L458.0,487.4 L458.7,487.4 L459.4,487.4 L460.1,487.4 L460.8,487.4 L461.5,487.4 L462.2,487.4 L462.9,487.4 L463.6,487.4 L464.3,487.4 L465.0,487.4 L465.1,487.4 Z" fill="#D99C5E" stroke="#BE8040" stroke-width="0.45" stroke-linejoin="round" fill-opacity="0.9"/>
<line x1="387.50" y1="494.94" x2="465.60" y2="494.94" stroke="#DCC8B4" stroke-width="0.8" />
<path d="M388.0,494.9 L388.0,494.9 L388.7,494.9 L389.4,494.9 L390.1,494.9 L390.8,494.9 L391.5,494.9 L392.2,494.9 L392.9,494.9 L393.6,494.9 L394.3,494.9 L395.0,494.9 L395.7,494.9 L396.4,494.9 L397.1,494.9 L397.8,494.9 L398.5,494.9 L399.2,494.9 L399.9,494.9 L400.6,494.9 L401.3,494.9 L402.0,494.9 L402.7,494.9 L403.4,494.9 L404.1,494.9 L404.8,494.9 L405.5,494.9 L406.2,494.9 L406.9,494.9 L407.6,494.9 L408.3,494.9 L409.0,494.9 L409.7,494.9 L410.4,494.9 L411.1,494.9 L411.8,494.9 L412.5,494.9 L413.2,494.9 L413.9,494.9 L414.6,494.9 L415.3,494.9 L416.0,494.9 L416.7,494.8 L417.4,494.7 L418.1,494.4 L418.8,494.0 L419.5,493.5 L420.2,492.6 L420.9,491.3 L421.6,489.9 L422.3,488.2 L423.0,486.3 L423.7,484.3 L424.4,483.6 L425.1,483.0 L425.8,481.5 L426.5,481.6 L427.2,482.9 L427.9,483.8 L428.6,485.7 L429.3,487.1 L430.0,488.3 L430.7,489.4 L431.4,490.1 L432.1,490.3 L432.8,490.2 L433.5,490.4 L434.2,490.2 L434.9,489.9 L435.6,490.4 L436.3,490.6 L437.0,490.9 L437.7,490.7 L438.4,490.8 L439.1,490.7 L439.8,490.6 L440.5,489.8 L441.2,488.9 L441.9,488.1 L442.6,486.8 L443.3,486.1 L444.0,485.2 L444.7,483.7 L445.4,483.8 L446.1,484.1 L446.8,484.7 L447.5,484.8 L448.2,485.4 L448.9,487.2 L449.6,488.4 L450.3,489.8 L451.0,491.0 L451.7,492.1 L452.4,493.0 L453.1,493.7 L453.8,493.9 L454.5,494.4 L455.2,494.6 L455.9,494.7 L456.6,494.8 L457.3,494.9 L458.0,494.9 L458.7,494.9 L459.4,494.9 L460.1,494.9 L460.8,494.9 L461.5,494.9 L462.2,494.9 L462.9,494.9 L463.6,494.9 L464.3,494.9 L465.0,494.9 L465.1,494.9 Z" fill="#EAC6A6" stroke="#D8AC86" stroke-width="0.45" stroke-linejoin="round" fill-opacity="0.9"/>
<line x1="387.50" y1="502.52" x2="465.60" y2="502.52" stroke="#E4D4C4" stroke-width="0.8" />
<path d="M388.0,502.5 L388.0,502.5 L388.7,502.5 L389.4,502.5 L390.1,502.5 L390.8,502.5 L391.5,502.5 L392.2,502.5 L392.9,502.5 L393.6,502.5 L394.3,502.5 L395.0,502.5 L395.7,502.5 L396.4,502.5 L397.1,502.5 L397.8,502.5 L398.5,502.5 L399.2,502.5 L399.9,502.5 L400.6,502.5 L401.3,502.5 L402.0,502.5 L402.7,502.5 L403.4,502.5 L404.1,502.5 L404.8,502.4 L405.5,502.2 L406.2,501.7 L406.9,501.2 L407.6,500.0 L408.3,498.3 L409.0,495.8 L409.7,493.6 L410.4,491.4 L411.1,489.6 L411.8,489.2 L412.5,489.2 L413.2,490.7 L413.9,493.2 L414.6,496.3 L415.3,498.1 L416.0,499.9 L416.7,501.1 L417.4,501.8 L418.1,502.2 L418.8,502.4 L419.5,502.5 L420.2,502.5 L420.9,502.5 L421.6,502.5 L422.3,502.5 L423.0,502.5 L423.7,502.5 L424.4,502.5 L425.1,502.5 L425.8,502.5 L426.5,502.5 L427.2,502.5 L427.9,502.5 L428.6,502.5 L429.3,502.5 L430.0,502.5 L430.7,502.5 L431.4,502.5 L432.1,502.5 L432.8,502.5 L433.5,502.5 L434.2,502.5 L434.9,502.5 L435.6,502.5 L436.3,502.5 L437.0,502.5 L437.7,502.5 L438.4,502.5 L439.1,502.5 L439.8,502.5 L440.5,502.5 L441.2,502.5 L441.9,502.5 L442.6,502.5 L443.3,502.5 L444.0,502.5 L444.7,502.5 L445.4,502.5 L446.1,502.5 L446.8,502.5 L447.5,502.5 L448.2,502.5 L448.9,502.5 L449.6,502.5 L450.3,502.5 L451.0,502.5 L451.7,502.5 L452.4,502.5 L453.1,502.5 L453.8,502.5 L454.5,502.5 L455.2,502.5 L455.9,502.5 L456.6,502.5 L457.3,502.5 L458.0,502.5 L458.7,502.5 L459.4,502.5 L460.1,502.5 L460.8,502.5 L461.5,502.5 L462.2,502.5 L462.9,502.5 L463.6,502.5 L464.3,502.5 L465.0,502.5 L465.1,502.5 Z" fill="#F2DAC4" stroke="#E2C0A2" stroke-width="0.45" stroke-linejoin="round" fill-opacity="0.9"/>
<line x1="387.50" y1="510.10" x2="465.60" y2="510.10" stroke="#9CC2DE" stroke-width="0.8" />
<path d="M388.0,510.1 L388.0,510.1 L388.7,510.1 L389.4,510.1 L390.1,510.1 L390.8,510.1 L391.5,510.1 L392.2,510.1 L392.9,510.1 L393.6,510.1 L394.3,510.1 L395.0,510.1 L395.7,510.1 L396.4,510.1 L397.1,510.1 L397.8,510.1 L398.5,510.1 L399.2,510.1 L399.9,510.1 L400.6,510.1 L401.3,510.1 L402.0,510.0 L402.7,509.9 L403.4,509.7 L404.1,508.8 L404.8,507.9 L405.5,506.0 L406.2,503.4 L406.9,500.6 L407.6,498.4 L408.3,496.7 L409.0,495.6 L409.7,495.7 L410.4,497.9 L411.1,500.8 L411.8,503.7 L412.5,506.1 L413.2,507.7 L413.9,508.9 L414.6,509.5 L415.3,509.9 L416.0,510.0 L416.7,510.1 L417.4,510.1 L418.1,510.1 L418.8,510.1 L419.5,510.1 L420.2,510.1 L420.9,510.1 L421.6,510.1 L422.3,510.1 L423.0,510.1 L423.7,510.1 L424.4,510.1 L425.1,510.1 L425.8,510.1 L426.5,510.1 L427.2,510.1 L427.9,510.1 L428.6,510.1 L429.3,510.1 L430.0,510.1 L430.7,510.1 L431.4,510.1 L432.1,510.1 L432.8,510.1 L433.5,510.1 L434.2,510.1 L434.9,510.1 L435.6,510.1 L436.3,510.1 L437.0,510.1 L437.7,510.1 L438.4,510.1 L439.1,510.1 L439.8,510.1 L440.5,510.1 L441.2,510.1 L441.9,510.1 L442.6,510.1 L443.3,510.1 L444.0,510.1 L444.7,510.1 L445.4,510.1 L446.1,510.1 L446.8,510.1 L447.5,510.1 L448.2,510.1 L448.9,510.1 L449.6,510.1 L450.3,510.1 L451.0,510.1 L451.7,510.1 L452.4,510.1 L453.1,510.1 L453.8,510.1 L454.5,510.1 L455.2,510.1 L455.9,510.1 L456.6,510.1 L457.3,510.1 L458.0,510.1 L458.7,510.1 L459.4,510.1 L460.1,510.1 L460.8,510.1 L461.5,510.1 L462.2,510.1 L462.9,510.1 L463.6,510.1 L464.3,510.1 L465.0,510.1 L465.1,510.1 Z" fill="#8DC4EC" stroke="#5FA8DC" stroke-width="0.45" stroke-linejoin="round" fill-opacity="0.9"/>
<line x1="387.50" y1="517.68" x2="465.60" y2="517.68" stroke="#BCD6EA" stroke-width="0.8" />
<path d="M388.0,517.7 L388.0,517.7 L388.7,517.7 L389.4,517.7 L390.1,517.7 L390.8,517.7 L391.5,517.7 L392.2,517.7 L392.9,517.7 L393.6,517.7 L394.3,517.7 L395.0,517.7 L395.7,517.7 L396.4,517.7 L397.1,517.7 L397.8,517.7 L398.5,517.7 L399.2,517.7 L399.9,517.7 L400.6,517.7 L401.3,517.7 L402.0,517.7 L402.7,517.7 L403.4,517.7 L404.1,517.7 L404.8,517.7 L405.5,517.7 L406.2,517.7 L406.9,517.7 L407.6,517.7 L408.3,517.7 L409.0,517.7 L409.7,517.7 L410.4,517.7 L411.1,517.7 L411.8,517.7 L412.5,517.7 L413.2,517.7 L413.9,517.7 L414.6,517.7 L415.3,517.7 L416.0,517.6 L416.7,517.6 L417.4,517.4 L418.1,517.1 L418.8,516.7 L419.5,516.2 L420.2,515.4 L420.9,514.1 L421.6,512.4 L422.3,510.9 L423.0,509.4 L423.7,507.8 L424.4,506.7 L425.1,505.1 L425.8,503.9 L426.5,504.9 L427.2,505.3 L427.9,507.1 L428.6,508.0 L429.3,509.7 L430.0,511.2 L430.7,512.7 L431.4,513.5 L432.1,513.5 L432.8,514.0 L433.5,513.9 L434.2,513.9 L434.9,514.0 L435.6,513.9 L436.3,514.3 L437.0,514.2 L437.7,514.6 L438.4,514.6 L439.1,514.3 L439.8,514.2 L440.5,513.9 L441.2,513.1 L441.9,512.2 L442.6,511.6 L443.3,510.4 L444.0,509.4 L444.7,509.2 L445.4,508.5 L446.1,508.9 L446.8,508.7 L447.5,509.1 L448.2,510.1 L448.9,511.2 L449.6,512.0 L450.3,513.4 L451.0,514.4 L451.7,515.2 L452.4,516.1 L453.1,516.4 L453.8,517.0 L454.5,517.1 L455.2,517.4 L455.9,517.5 L456.6,517.6 L457.3,517.6 L458.0,517.7 L458.7,517.7 L459.4,517.7 L460.1,517.7 L460.8,517.7 L461.5,517.7 L462.2,517.7 L462.9,517.7 L463.6,517.7 L464.3,517.7 L465.0,517.7 L465.1,517.7 Z" fill="#B9DAF2" stroke="#90C2EA" stroke-width="0.45" stroke-linejoin="round" fill-opacity="0.9"/>
<line x1="387.50" y1="525.26" x2="465.60" y2="525.26" stroke="#D4E4F0" stroke-width="0.8" />
<path d="M388.0,525.3 L388.0,525.3 L388.7,525.3 L389.4,525.3 L390.1,525.3 L390.8,525.3 L391.5,525.3 L392.2,525.3 L392.9,525.3 L393.6,525.3 L394.3,525.3 L395.0,525.3 L395.7,525.3 L396.4,525.3 L397.1,525.3 L397.8,525.3 L398.5,525.3 L399.2,525.3 L399.9,525.3 L400.6,525.3 L401.3,525.3 L402.0,525.2 L402.7,525.2 L403.4,525.1 L404.1,525.0 L404.8,524.7 L405.5,523.9 L406.2,523.0 L406.9,521.1 L407.6,518.3 L408.3,516.1 L409.0,513.1 L409.7,511.7 L410.4,511.1 L411.1,513.2 L411.8,514.8 L412.5,517.4 L413.2,519.9 L413.9,522.0 L414.6,523.3 L415.3,524.2 L416.0,524.7 L416.7,525.1 L417.4,525.2 L418.1,525.2 L418.8,525.3 L419.5,525.3 L420.2,525.3 L420.9,525.3 L421.6,525.3 L422.3,525.3 L423.0,525.3 L423.7,525.3 L424.4,525.3 L425.1,525.3 L425.8,525.3 L426.5,525.3 L427.2,525.3 L427.9,525.3 L428.6,525.3 L429.3,525.3 L430.0,525.3 L430.7,525.3 L431.4,525.3 L432.1,525.3 L432.8,525.3 L433.5,525.3 L434.2,525.3 L434.9,525.3 L435.6,525.3 L436.3,525.3 L437.0,525.3 L437.7,525.3 L438.4,525.3 L439.1,525.3 L439.8,525.3 L440.5,525.3 L441.2,525.3 L441.9,525.3 L442.6,525.3 L443.3,525.3 L444.0,525.3 L444.7,525.3 L445.4,525.3 L446.1,525.3 L446.8,525.3 L447.5,525.3 L448.2,525.3 L448.9,525.3 L449.6,525.3 L450.3,525.3 L451.0,525.3 L451.7,525.3 L452.4,525.3 L453.1,525.3 L453.8,525.3 L454.5,525.3 L455.2,525.3 L455.9,525.3 L456.6,525.3 L457.3,525.3 L458.0,525.3 L458.7,525.3 L459.4,525.3 L460.1,525.3 L460.8,525.3 L461.5,525.3 L462.2,525.3 L462.9,525.3 L463.6,525.3 L464.3,525.3 L465.0,525.3 L465.1,525.3 Z" fill="#D6E8F6" stroke="#B0D2EE" stroke-width="0.45" stroke-linejoin="round" fill-opacity="0.9"/>
<line x1="387.50" y1="532.84" x2="465.60" y2="532.84" stroke="#80828E" stroke-width="0.8" />
<path d="M388.0,532.8 L388.0,532.8 L388.7,532.8 L389.4,532.8 L390.1,532.8 L390.8,532.8 L391.5,532.8 L392.2,532.8 L392.9,532.8 L393.6,532.8 L394.3,532.8 L395.0,532.8 L395.7,532.8 L396.4,532.8 L397.1,532.8 L397.8,532.8 L398.5,532.8 L399.2,532.8 L399.9,532.8 L400.6,532.8 L401.3,532.8 L402.0,532.8 L402.7,532.8 L403.4,532.8 L404.1,532.8 L404.8,532.8 L405.5,532.8 L406.2,532.8 L406.9,532.7 L407.6,532.5 L408.3,532.1 L409.0,531.7 L409.7,530.8 L410.4,529.4 L411.1,528.2 L411.8,526.3 L412.5,524.3 L413.2,522.5 L413.9,520.1 L414.6,518.4 L415.3,518.0 L416.0,518.7 L416.7,518.6 L417.4,520.0 L418.1,520.5 L418.8,521.2 L419.5,522.5 L420.2,523.0 L420.9,523.9 L421.6,524.8 L422.3,525.8 L423.0,526.2 L423.7,527.1 L424.4,527.8 L425.1,527.7 L425.8,528.2 L426.5,528.2 L427.2,528.1 L427.9,527.9 L428.6,527.5 L429.3,527.7 L430.0,527.4 L430.7,527.2 L431.4,526.5 L432.1,526.3 L432.8,526.0 L433.5,525.8 L434.2,525.1 L434.9,524.9 L435.6,524.4 L436.3,524.4 L437.0,524.6 L437.7,524.7 L438.4,525.3 L439.1,525.8 L439.8,526.3 L440.5,526.9 L441.2,526.8 L441.9,527.2 L442.6,527.7 L443.3,528.0 L444.0,528.6 L444.7,528.5 L445.4,528.9 L446.1,529.4 L446.8,529.5 L447.5,529.9 L448.2,530.2 L448.9,530.7 L449.6,530.8 L450.3,531.1 L451.0,531.6 L451.7,531.9 L452.4,532.3 L453.1,532.5 L453.8,532.5 L454.5,532.6 L455.2,532.7 L455.9,532.7 L456.6,532.8 L457.3,532.8 L458.0,532.8 L458.7,532.8 L459.4,532.8 L460.1,532.8 L460.8,532.8 L461.5,532.8 L462.2,532.8 L462.9,532.8 L463.6,532.8 L464.3,532.8 L465.0,532.8 L465.1,532.8 Z" fill="#8A8DA0" stroke="#5a5e72" stroke-width="0.45" stroke-linejoin="round" fill-opacity="0.9"/>
<line x1="387.50" y1="540.42" x2="465.60" y2="540.42" stroke="#A8A9B4" stroke-width="0.8" />
<path d="M388.0,540.4 L388.0,540.4 L388.7,540.4 L389.4,540.4 L390.1,540.4 L390.8,540.4 L391.5,540.4 L392.2,540.4 L392.9,540.4 L393.6,540.4 L394.3,540.4 L395.0,540.4 L395.7,540.4 L396.4,540.4 L397.1,540.4 L397.8,540.4 L398.5,540.4 L399.2,540.4 L399.9,540.4 L400.6,540.4 L401.3,540.4 L402.0,540.4 L402.7,540.4 L403.4,540.4 L404.1,540.4 L404.8,540.4 L405.5,540.4 L406.2,540.4 L406.9,540.4 L407.6,540.4 L408.3,540.4 L409.0,540.4 L409.7,540.4 L410.4,540.4 L411.1,540.4 L411.8,540.4 L412.5,540.4 L413.2,540.4 L413.9,540.4 L414.6,540.3 L415.3,540.3 L416.0,540.1 L416.7,540.0 L417.4,539.5 L418.1,539.0 L418.8,538.6 L419.5,537.5 L420.2,536.3 L420.9,534.9 L421.6,533.9 L422.3,531.7 L423.0,530.3 L423.7,528.3 L424.4,527.2 L425.1,526.0 L425.8,525.6 L426.5,526.3 L427.2,526.7 L427.9,527.2 L428.6,528.3 L429.3,529.6 L430.0,531.7 L430.7,532.6 L431.4,533.1 L432.1,533.9 L432.8,534.5 L433.5,534.2 L434.2,534.1 L434.9,533.7 L435.6,534.1 L436.3,534.4 L437.0,534.3 L437.7,534.1 L438.4,534.2 L439.1,534.8 L439.8,534.8 L440.5,534.8 L441.2,534.3 L441.9,533.4 L442.6,532.8 L443.3,532.0 L444.0,531.6 L444.7,530.9 L445.4,530.0 L446.1,530.3 L446.8,531.0 L447.5,531.3 L448.2,532.0 L448.9,533.7 L449.6,534.7 L450.3,535.8 L451.0,536.8 L451.7,537.8 L452.4,538.5 L453.1,539.0 L453.8,539.6 L454.5,540.0 L455.2,540.1 L455.9,540.2 L456.6,540.3 L457.3,540.4 L458.0,540.4 L458.7,540.4 L459.4,540.4 L460.1,540.4 L460.8,540.4 L461.5,540.4 L462.2,540.4 L462.9,540.4 L463.6,540.4 L464.3,540.4 L465.0,540.4 L465.1,540.4 Z" fill="#A8A9B8" stroke="#84869a" stroke-width="0.45" stroke-linejoin="round" fill-opacity="0.9"/>
<line x1="387.50" y1="548.00" x2="465.60" y2="548.00" stroke="#CACAD0" stroke-width="0.8" />
<path d="M388.0,548.0 L388.0,548.0 L388.7,548.0 L389.4,548.0 L390.1,548.0 L390.8,548.0 L391.5,548.0 L392.2,548.0 L392.9,548.0 L393.6,548.0 L394.3,548.0 L395.0,548.0 L395.7,548.0 L396.4,548.0 L397.1,548.0 L397.8,548.0 L398.5,548.0 L399.2,548.0 L399.9,548.0 L400.6,548.0 L401.3,548.0 L402.0,548.0 L402.7,547.9 L403.4,547.7 L404.1,547.4 L404.8,546.7 L405.5,545.8 L406.2,544.1 L406.9,542.3 L407.6,540.4 L408.3,538.0 L409.0,536.5 L409.7,536.0 L410.4,536.8 L411.1,539.0 L411.8,541.0 L412.5,543.1 L413.2,544.6 L413.9,546.2 L414.6,546.9 L415.3,547.6 L416.0,547.8 L416.7,547.9 L417.4,548.0 L418.1,548.0 L418.8,548.0 L419.5,548.0 L420.2,548.0 L420.9,548.0 L421.6,548.0 L422.3,548.0 L423.0,548.0 L423.7,548.0 L424.4,548.0 L425.1,548.0 L425.8,548.0 L426.5,548.0 L427.2,548.0 L427.9,548.0 L428.6,548.0 L429.3,548.0 L430.0,548.0 L430.7,548.0 L431.4,548.0 L432.1,548.0 L432.8,548.0 L433.5,548.0 L434.2,548.0 L434.9,548.0 L435.6,548.0 L436.3,548.0 L437.0,548.0 L437.7,548.0 L438.4,548.0 L439.1,548.0 L439.8,548.0 L440.5,548.0 L441.2,548.0 L441.9,548.0 L442.6,548.0 L443.3,548.0 L444.0,548.0 L444.7,548.0 L445.4,548.0 L446.1,548.0 L446.8,548.0 L447.5,548.0 L448.2,548.0 L448.9,548.0 L449.6,548.0 L450.3,548.0 L451.0,548.0 L451.7,548.0 L452.4,548.0 L453.1,548.0 L453.8,548.0 L454.5,548.0 L455.2,548.0 L455.9,548.0 L456.6,548.0 L457.3,548.0 L458.0,548.0 L458.7,548.0 L459.4,548.0 L460.1,548.0 L460.8,548.0 L461.5,548.0 L462.2,548.0 L462.9,548.0 L463.6,548.0 L464.3,548.0 L465.0,548.0 L465.1,548.0 Z" fill="#CDCDD5" stroke="#A8A9B6" stroke-width="0.45" stroke-linejoin="round" fill-opacity="0.9"/>
<line x1="420.50" y1="470.20" x2="420.50" y2="548.00" stroke="#555" stroke-width="0.9" />
<rect x="387.50" y="470.20" width="78.10" height="77.80" fill="none" stroke="#111" stroke-width="1.0" rx="0" />
<line x1="403.70" y1="548.00" x2="403.70" y2="550.00" stroke="#222" stroke-width="0.6" />
<text x="0" y="0" font-size="6.55" text-anchor="middle" fill="#222" stroke="#222" stroke-width="0.15" transform="translate(403.70 557.40) scale(0.8850 1)" dominant-baseline="central" >0</text>
<line x1="430.60" y1="548.00" x2="430.60" y2="550.00" stroke="#222" stroke-width="0.6" />
<text x="0" y="0" font-size="6.55" text-anchor="middle" fill="#222" stroke="#222" stroke-width="0.15" dominant-baseline="central" transform="translate(430.60 557.40) scale(0.8850 1)">10<tspan font-size="3.93" dy="-2.29">4</tspan></text>
<line x1="445.40" y1="548.00" x2="445.40" y2="550.00" stroke="#222" stroke-width="0.6" />
<text x="0" y="0" font-size="6.55" text-anchor="middle" fill="#222" stroke="#222" stroke-width="0.15" dominant-baseline="central" transform="translate(445.40 557.40) scale(0.8850 1)">10<tspan font-size="3.93" dy="-2.29">5</tspan></text>
<line x1="460.20" y1="548.00" x2="460.20" y2="550.00" stroke="#222" stroke-width="0.6" />
<text x="0" y="0" font-size="6.55" text-anchor="middle" fill="#222" stroke="#222" stroke-width="0.15" dominant-baseline="central" transform="translate(460.20 557.40) scale(0.8850 1)">10<tspan font-size="3.93" dy="-2.29">6</tspan></text>
<line x1="392.00" y1="548.00" x2="392.00" y2="549.10" stroke="#222" stroke-width="0.4" />
<line x1="395.00" y1="548.00" x2="395.00" y2="549.10" stroke="#222" stroke-width="0.4" />
<line x1="397.00" y1="548.00" x2="397.00" y2="549.10" stroke="#222" stroke-width="0.4" />
<line x1="399.00" y1="548.00" x2="399.00" y2="549.10" stroke="#222" stroke-width="0.4" />
<line x1="401.00" y1="548.00" x2="401.00" y2="549.10" stroke="#222" stroke-width="0.4" />
<line x1="406.00" y1="548.00" x2="406.00" y2="549.10" stroke="#222" stroke-width="0.4" />
<line x1="408.00" y1="548.00" x2="408.00" y2="549.10" stroke="#222" stroke-width="0.4" />
<line x1="410.00" y1="548.00" x2="410.00" y2="549.10" stroke="#222" stroke-width="0.4" />
<line x1="412.00" y1="548.00" x2="412.00" y2="549.10" stroke="#222" stroke-width="0.4" />
<line x1="414.00" y1="548.00" x2="414.00" y2="549.10" stroke="#222" stroke-width="0.4" />
<line x1="420.00" y1="548.00" x2="420.00" y2="549.10" stroke="#222" stroke-width="0.4" />
<line x1="423.00" y1="548.00" x2="423.00" y2="549.10" stroke="#222" stroke-width="0.4" />
<line x1="425.00" y1="548.00" x2="425.00" y2="549.10" stroke="#222" stroke-width="0.4" />
<line x1="427.00" y1="548.00" x2="427.00" y2="549.10" stroke="#222" stroke-width="0.4" />
<line x1="429.00" y1="548.00" x2="429.00" y2="549.10" stroke="#222" stroke-width="0.4" />
<line x1="435.00" y1="548.00" x2="435.00" y2="549.10" stroke="#222" stroke-width="0.4" />
<line x1="438.00" y1="548.00" x2="438.00" y2="549.10" stroke="#222" stroke-width="0.4" />
<line x1="440.00" y1="548.00" x2="440.00" y2="549.10" stroke="#222" stroke-width="0.4" />
<line x1="442.00" y1="548.00" x2="442.00" y2="549.10" stroke="#222" stroke-width="0.4" />
<line x1="444.00" y1="548.00" x2="444.00" y2="549.10" stroke="#222" stroke-width="0.4" />
<line x1="450.00" y1="548.00" x2="450.00" y2="549.10" stroke="#222" stroke-width="0.4" />
<line x1="453.00" y1="548.00" x2="453.00" y2="549.10" stroke="#222" stroke-width="0.4" />
<line x1="455.00" y1="548.00" x2="455.00" y2="549.10" stroke="#222" stroke-width="0.4" />
<line x1="457.00" y1="548.00" x2="457.00" y2="549.10" stroke="#222" stroke-width="0.4" />
<line x1="459.00" y1="548.00" x2="459.00" y2="549.10" stroke="#222" stroke-width="0.4" />
<line x1="463.00" y1="548.00" x2="463.00" y2="549.10" stroke="#222" stroke-width="0.4" />
<rect x="398.80" y="548.00" width="1.80" height="1.80" fill="#111" stroke="none" stroke-width="0.8" rx="0" />
<text x="0" y="0" font-size="6.33" text-anchor="start" fill="#333" stroke="#333" stroke-width="0.15" textLength="19.77" lengthAdjust="spacingAndGlyphs" transform="translate(471.00 467.70) scale(0.8850 1)" dominant-baseline="central" >Tumor</text>
<text x="0" y="0" font-size="6.33" text-anchor="start" fill="#333" stroke="#333" stroke-width="0.15" textLength="20.11" lengthAdjust="spacingAndGlyphs" transform="translate(495.40 467.70) scale(0.8850 1)" dominant-baseline="central" >Beads</text>
<line x1="478.50" y1="480.00" x2="481.10" y2="480.00" stroke="#B08050" stroke-width="0.7" />
<line x1="479.80" y1="478.70" x2="479.80" y2="481.30" stroke="#B08050" stroke-width="0.7" />
<line x1="500.50" y1="480.00" x2="503.10" y2="480.00" stroke="#B08050" stroke-width="0.7" />
<line x1="478.50" y1="488.25" x2="481.10" y2="488.25" stroke="#C8A080" stroke-width="0.7" />
<line x1="500.50" y1="488.25" x2="503.10" y2="488.25" stroke="#C8A080" stroke-width="0.7" />
<line x1="501.80" y1="486.95" x2="501.80" y2="489.55" stroke="#C8A080" stroke-width="0.7" />
<line x1="478.50" y1="496.50" x2="481.10" y2="496.50" stroke="#D0B8A0" stroke-width="0.7" />
<line x1="500.50" y1="496.50" x2="503.10" y2="496.50" stroke="#D0B8A0" stroke-width="0.7" />
<line x1="478.50" y1="504.75" x2="481.10" y2="504.75" stroke="#5A98CC" stroke-width="0.7" />
<line x1="479.80" y1="503.45" x2="479.80" y2="506.05" stroke="#5A98CC" stroke-width="0.7" />
<line x1="500.50" y1="504.75" x2="503.10" y2="504.75" stroke="#5A98CC" stroke-width="0.7" />
<line x1="478.50" y1="513.00" x2="481.10" y2="513.00" stroke="#88B8DC" stroke-width="0.7" />
<line x1="500.50" y1="513.00" x2="503.10" y2="513.00" stroke="#88B8DC" stroke-width="0.7" />
<line x1="501.80" y1="511.70" x2="501.80" y2="514.30" stroke="#88B8DC" stroke-width="0.7" />
<line x1="478.50" y1="521.25" x2="481.10" y2="521.25" stroke="#A8CCE4" stroke-width="0.7" />
<line x1="500.50" y1="521.25" x2="503.10" y2="521.25" stroke="#A8CCE4" stroke-width="0.7" />
<line x1="478.50" y1="529.50" x2="481.10" y2="529.50" stroke="#4a4e5a" stroke-width="0.7" />
<line x1="479.80" y1="528.20" x2="479.80" y2="530.80" stroke="#4a4e5a" stroke-width="0.7" />
<line x1="500.50" y1="529.50" x2="503.10" y2="529.50" stroke="#4a4e5a" stroke-width="0.7" />
<line x1="478.50" y1="537.75" x2="481.10" y2="537.75" stroke="#7a7c88" stroke-width="0.7" />
<line x1="500.50" y1="537.75" x2="503.10" y2="537.75" stroke="#7a7c88" stroke-width="0.7" />
<line x1="501.80" y1="536.45" x2="501.80" y2="539.05" stroke="#7a7c88" stroke-width="0.7" />
<line x1="478.50" y1="546.00" x2="481.10" y2="546.00" stroke="#A0A0A8" stroke-width="0.7" />
<line x1="500.50" y1="546.00" x2="503.10" y2="546.00" stroke="#A0A0A8" stroke-width="0.7" />
<text x="0" y="0" font-size="8.59" text-anchor="start" fill="#222" stroke="#222" stroke-width="0.15" textLength="51.98" lengthAdjust="spacingAndGlyphs" transform="translate(387.60 569.30) scale(0.8850 1)" dominant-baseline="central" >PE: Granzyme B</text>
<line x1="436.50" y1="569.90" x2="462.60" y2="569.90" stroke="#555" stroke-width="0.9" />
<path d="M465.60,569.90 L461.60,568.30 L461.60,571.50 Z" fill="#222" stroke="none" stroke-width="0.8" />
<text x="0" y="0" font-size="6.78" text-anchor="middle" fill="#DDA36E" stroke="#DDA36E" stroke-width="0.15" textLength="25.09" lengthAdjust="spacingAndGlyphs" transform="translate(381.00 481.00) rotate(-90) scale(0.8850 1)" dominant-baseline="central" >CD86-28z</text>
<text x="0" y="0" font-size="6.78" text-anchor="middle" fill="#55B8E8" stroke="#55B8E8" stroke-width="0.15" textLength="33.79" lengthAdjust="spacingAndGlyphs" transform="translate(381.00 510.50) rotate(-90) scale(0.8850 1)" dominant-baseline="central" >CD30-28z</text>
<text x="0" y="0" font-size="6.78" text-anchor="middle" fill="#555" stroke="#555" stroke-width="0.15" textLength="31.30" lengthAdjust="spacingAndGlyphs" transform="translate(381.00 541.50) rotate(-90) scale(0.8850 1)" dominant-baseline="central" >CD19-28z</text>
<rect x="0.5" y="0.5" width="519" height="590" fill="none" stroke="#6e6e6e" stroke-width="1"/>
</svg>
</body></html>
